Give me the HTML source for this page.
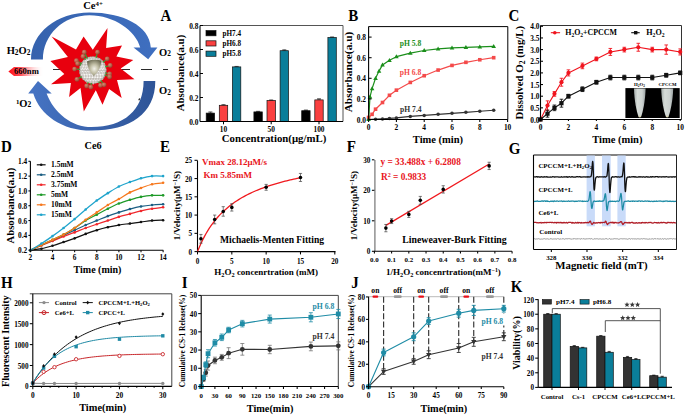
<!DOCTYPE html>
<html><head><meta charset="utf-8"><style>html,body{margin:0;padding:0;background:#fff;width:685px;height:415px;overflow:hidden}</style></head>
<body>
<svg width="685" height="415" viewBox="0 0 685 415" font-family="&quot;Liberation Serif&quot;, serif" style="display:block">
<defs>
<linearGradient id="gTop" x1="0" y1="0" x2="1" y2="0"><stop offset="0" stop-color="#3562ad"/><stop offset="1" stop-color="#3f6fc0"/></linearGradient>
<linearGradient id="gBot" x1="0" y1="0" x2="1" y2="0"><stop offset="0" stop-color="#4674c4"/><stop offset="1" stop-color="#2e5497"/></linearGradient>
<linearGradient id="gLaser" x1="0" y1="0" x2="1" y2="0"><stop offset="0" stop-color="#ff0a14"/><stop offset="0.35" stop-color="#ff5058"/><stop offset="1" stop-color="#fff" stop-opacity="0"/></linearGradient>
<radialGradient id="gCore" cx="0.5" cy="0.55" r="0.6"><stop offset="0" stop-color="#f3f2ea"/><stop offset="0.45" stop-color="#c2bfa6"/><stop offset="1" stop-color="#6c6a52"/></radialGradient>
<radialGradient id="gSphS" cx="0.5" cy="0.5" r="0.5"><stop offset="0" stop-color="#fff" stop-opacity="0"/><stop offset="0.75" stop-color="#fff" stop-opacity="0.1"/><stop offset="1" stop-color="#8a8478" stop-opacity="0.55"/></radialGradient>
<radialGradient id="gSph" cx="0.45" cy="0.4" r="0.65"><stop offset="0" stop-color="#f2f2ee"/><stop offset="0.7" stop-color="#d8d6cf"/><stop offset="1" stop-color="#a8a49a"/></radialGradient>
<radialGradient id="gBall" cx="0.38" cy="0.35" r="0.7"><stop offset="0" stop-color="#d48c74"/><stop offset="0.6" stop-color="#b25a44"/><stop offset="1" stop-color="#8a3c2c"/></radialGradient>
<pattern id="pDots" width="1.5" height="1.5" patternUnits="userSpaceOnUse"><rect width="1.5" height="1.5" fill="#a0968e"/><circle cx="0.75" cy="0.75" r="0.55" fill="#f6f6f4"/></pattern>
<linearGradient id="gTube" x1="0" y1="0" x2="1" y2="0"><stop offset="0" stop-color="#a4acaa"/><stop offset="0.3" stop-color="#d6dcd8"/><stop offset="0.7" stop-color="#ccd2d0"/><stop offset="1" stop-color="#9aa2a2"/></linearGradient>
</defs>
<rect width="685" height="415" fill="#fff"/>
<line x1="53.00" y1="69.50" x2="168.00" y2="69.50" stroke="#2a2a2a" stroke-width="1.0" stroke-dasharray="11,11"/>
<path d="M31,59.5 C31,33 57,12.6 89.5,12.6 C123,12.6 149.5,26 150.8,47.4 L157.4,47.6 L148.2,59.3 L133.5,47.4 L140.2,47.4 C136,31 114,15.2 89.5,15.2 C63,15.2 42.9,35 42.9,59.5 Z" fill="url(#gTop)"/>
<path d="M155.3,81.1 C155.3,114 130,130.6 91.5,130.6 C62,130.6 40,115 33.3,93.4 L28.2,93.4 L38,81.1 L51.7,93.4 L46.6,93.4 C54,113 72,127.1 91.5,127.1 C124,127.1 143.6,110 143.6,81.1 Z" fill="url(#gBot)"/>
<ellipse cx="139.3" cy="99.3" rx="0.8" ry="1.2" fill="#333" transform="rotate(30 139.3 99.3)"/>
<polygon points="51.60,36.40 76.00,49.50 83.60,36.40 92.80,49.70 107.50,28.00 106.10,47.90 122.00,45.50 116.40,56.40 133.30,60.10 120.70,68.50 134.50,79.30 117.00,80.00 121.70,98.10 109.10,89.10 102.50,104.80 95.80,90.30 83.80,111.50 80.50,87.90 69.10,97.00 70.90,83.10 51.00,84.30 64.30,74.00 50.40,61.10 67.90,56.90" fill="#e8000e" />
<circle cx="92.80" cy="70.20" r="13.60" fill="#a69e96" stroke="none" stroke-width="0.8"/>
<path d="M89.72,57.40a0.72,0.72 0 1,0 -1.44,0a0.72,0.72 0 1,0 1.44,0M91.32,57.40a0.72,0.72 0 1,0 -1.44,0a0.72,0.72 0 1,0 1.44,0M92.92,57.40a0.72,0.72 0 1,0 -1.44,0a0.72,0.72 0 1,0 1.44,0M94.52,57.40a0.72,0.72 0 1,0 -1.44,0a0.72,0.72 0 1,0 1.44,0M96.12,57.40a0.72,0.72 0 1,0 -1.44,0a0.72,0.72 0 1,0 1.44,0M87.48,58.95a0.72,0.72 0 1,0 -1.44,0a0.72,0.72 0 1,0 1.44,0M89.08,58.95a0.72,0.72 0 1,0 -1.44,0a0.72,0.72 0 1,0 1.44,0M90.68,58.95a0.72,0.72 0 1,0 -1.44,0a0.72,0.72 0 1,0 1.44,0M92.28,58.95a0.72,0.72 0 1,0 -1.44,0a0.72,0.72 0 1,0 1.44,0M93.88,58.95a0.72,0.72 0 1,0 -1.44,0a0.72,0.72 0 1,0 1.44,0M95.48,58.95a0.72,0.72 0 1,0 -1.44,0a0.72,0.72 0 1,0 1.44,0M97.08,58.95a0.72,0.72 0 1,0 -1.44,0a0.72,0.72 0 1,0 1.44,0M98.68,58.95a0.72,0.72 0 1,0 -1.44,0a0.72,0.72 0 1,0 1.44,0M100.28,58.95a0.72,0.72 0 1,0 -1.44,0a0.72,0.72 0 1,0 1.44,0M84.79,60.50a0.72,0.72 0 1,0 -1.44,0a0.72,0.72 0 1,0 1.44,0M86.39,60.50a0.72,0.72 0 1,0 -1.44,0a0.72,0.72 0 1,0 1.44,0M87.99,60.50a0.72,0.72 0 1,0 -1.44,0a0.72,0.72 0 1,0 1.44,0M89.59,60.50a0.72,0.72 0 1,0 -1.44,0a0.72,0.72 0 1,0 1.44,0M91.19,60.50a0.72,0.72 0 1,0 -1.44,0a0.72,0.72 0 1,0 1.44,0M92.79,60.50a0.72,0.72 0 1,0 -1.44,0a0.72,0.72 0 1,0 1.44,0M94.39,60.50a0.72,0.72 0 1,0 -1.44,0a0.72,0.72 0 1,0 1.44,0M95.99,60.50a0.72,0.72 0 1,0 -1.44,0a0.72,0.72 0 1,0 1.44,0M97.59,60.50a0.72,0.72 0 1,0 -1.44,0a0.72,0.72 0 1,0 1.44,0M99.19,60.50a0.72,0.72 0 1,0 -1.44,0a0.72,0.72 0 1,0 1.44,0M100.79,60.50a0.72,0.72 0 1,0 -1.44,0a0.72,0.72 0 1,0 1.44,0M102.39,60.50a0.72,0.72 0 1,0 -1.44,0a0.72,0.72 0 1,0 1.44,0M84.23,62.05a0.72,0.72 0 1,0 -1.44,0a0.72,0.72 0 1,0 1.44,0M85.83,62.05a0.72,0.72 0 1,0 -1.44,0a0.72,0.72 0 1,0 1.44,0M87.43,62.05a0.72,0.72 0 1,0 -1.44,0a0.72,0.72 0 1,0 1.44,0M89.03,62.05a0.72,0.72 0 1,0 -1.44,0a0.72,0.72 0 1,0 1.44,0M90.63,62.05a0.72,0.72 0 1,0 -1.44,0a0.72,0.72 0 1,0 1.44,0M92.23,62.05a0.72,0.72 0 1,0 -1.44,0a0.72,0.72 0 1,0 1.44,0M93.83,62.05a0.72,0.72 0 1,0 -1.44,0a0.72,0.72 0 1,0 1.44,0M95.43,62.05a0.72,0.72 0 1,0 -1.44,0a0.72,0.72 0 1,0 1.44,0M97.03,62.05a0.72,0.72 0 1,0 -1.44,0a0.72,0.72 0 1,0 1.44,0M98.63,62.05a0.72,0.72 0 1,0 -1.44,0a0.72,0.72 0 1,0 1.44,0M100.23,62.05a0.72,0.72 0 1,0 -1.44,0a0.72,0.72 0 1,0 1.44,0M101.83,62.05a0.72,0.72 0 1,0 -1.44,0a0.72,0.72 0 1,0 1.44,0M103.43,62.05a0.72,0.72 0 1,0 -1.44,0a0.72,0.72 0 1,0 1.44,0M82.43,63.60a0.72,0.72 0 1,0 -1.44,0a0.72,0.72 0 1,0 1.44,0M84.03,63.60a0.72,0.72 0 1,0 -1.44,0a0.72,0.72 0 1,0 1.44,0M85.63,63.60a0.72,0.72 0 1,0 -1.44,0a0.72,0.72 0 1,0 1.44,0M87.23,63.60a0.72,0.72 0 1,0 -1.44,0a0.72,0.72 0 1,0 1.44,0M88.83,63.60a0.72,0.72 0 1,0 -1.44,0a0.72,0.72 0 1,0 1.44,0M90.43,63.60a0.72,0.72 0 1,0 -1.44,0a0.72,0.72 0 1,0 1.44,0M92.03,63.60a0.72,0.72 0 1,0 -1.44,0a0.72,0.72 0 1,0 1.44,0M93.63,63.60a0.72,0.72 0 1,0 -1.44,0a0.72,0.72 0 1,0 1.44,0M95.23,63.60a0.72,0.72 0 1,0 -1.44,0a0.72,0.72 0 1,0 1.44,0M96.83,63.60a0.72,0.72 0 1,0 -1.44,0a0.72,0.72 0 1,0 1.44,0M98.43,63.60a0.72,0.72 0 1,0 -1.44,0a0.72,0.72 0 1,0 1.44,0M100.03,63.60a0.72,0.72 0 1,0 -1.44,0a0.72,0.72 0 1,0 1.44,0M101.63,63.60a0.72,0.72 0 1,0 -1.44,0a0.72,0.72 0 1,0 1.44,0M103.23,63.60a0.72,0.72 0 1,0 -1.44,0a0.72,0.72 0 1,0 1.44,0M104.83,63.60a0.72,0.72 0 1,0 -1.44,0a0.72,0.72 0 1,0 1.44,0M82.49,65.15a0.72,0.72 0 1,0 -1.44,0a0.72,0.72 0 1,0 1.44,0M84.09,65.15a0.72,0.72 0 1,0 -1.44,0a0.72,0.72 0 1,0 1.44,0M85.69,65.15a0.72,0.72 0 1,0 -1.44,0a0.72,0.72 0 1,0 1.44,0M87.29,65.15a0.72,0.72 0 1,0 -1.44,0a0.72,0.72 0 1,0 1.44,0M88.89,65.15a0.72,0.72 0 1,0 -1.44,0a0.72,0.72 0 1,0 1.44,0M90.49,65.15a0.72,0.72 0 1,0 -1.44,0a0.72,0.72 0 1,0 1.44,0M92.09,65.15a0.72,0.72 0 1,0 -1.44,0a0.72,0.72 0 1,0 1.44,0M93.69,65.15a0.72,0.72 0 1,0 -1.44,0a0.72,0.72 0 1,0 1.44,0M95.29,65.15a0.72,0.72 0 1,0 -1.44,0a0.72,0.72 0 1,0 1.44,0M96.89,65.15a0.72,0.72 0 1,0 -1.44,0a0.72,0.72 0 1,0 1.44,0M98.49,65.15a0.72,0.72 0 1,0 -1.44,0a0.72,0.72 0 1,0 1.44,0M100.09,65.15a0.72,0.72 0 1,0 -1.44,0a0.72,0.72 0 1,0 1.44,0M101.69,65.15a0.72,0.72 0 1,0 -1.44,0a0.72,0.72 0 1,0 1.44,0M103.29,65.15a0.72,0.72 0 1,0 -1.44,0a0.72,0.72 0 1,0 1.44,0M104.89,65.15a0.72,0.72 0 1,0 -1.44,0a0.72,0.72 0 1,0 1.44,0M81.18,66.70a0.72,0.72 0 1,0 -1.44,0a0.72,0.72 0 1,0 1.44,0M82.78,66.70a0.72,0.72 0 1,0 -1.44,0a0.72,0.72 0 1,0 1.44,0M84.38,66.70a0.72,0.72 0 1,0 -1.44,0a0.72,0.72 0 1,0 1.44,0M85.98,66.70a0.72,0.72 0 1,0 -1.44,0a0.72,0.72 0 1,0 1.44,0M87.58,66.70a0.72,0.72 0 1,0 -1.44,0a0.72,0.72 0 1,0 1.44,0M89.18,66.70a0.72,0.72 0 1,0 -1.44,0a0.72,0.72 0 1,0 1.44,0M90.78,66.70a0.72,0.72 0 1,0 -1.44,0a0.72,0.72 0 1,0 1.44,0M92.38,66.70a0.72,0.72 0 1,0 -1.44,0a0.72,0.72 0 1,0 1.44,0M93.98,66.70a0.72,0.72 0 1,0 -1.44,0a0.72,0.72 0 1,0 1.44,0M95.58,66.70a0.72,0.72 0 1,0 -1.44,0a0.72,0.72 0 1,0 1.44,0M97.18,66.70a0.72,0.72 0 1,0 -1.44,0a0.72,0.72 0 1,0 1.44,0M98.78,66.70a0.72,0.72 0 1,0 -1.44,0a0.72,0.72 0 1,0 1.44,0M100.38,66.70a0.72,0.72 0 1,0 -1.44,0a0.72,0.72 0 1,0 1.44,0M101.98,66.70a0.72,0.72 0 1,0 -1.44,0a0.72,0.72 0 1,0 1.44,0M103.58,66.70a0.72,0.72 0 1,0 -1.44,0a0.72,0.72 0 1,0 1.44,0M105.18,66.70a0.72,0.72 0 1,0 -1.44,0a0.72,0.72 0 1,0 1.44,0M81.66,68.25a0.72,0.72 0 1,0 -1.44,0a0.72,0.72 0 1,0 1.44,0M83.26,68.25a0.72,0.72 0 1,0 -1.44,0a0.72,0.72 0 1,0 1.44,0M84.86,68.25a0.72,0.72 0 1,0 -1.44,0a0.72,0.72 0 1,0 1.44,0M86.46,68.25a0.72,0.72 0 1,0 -1.44,0a0.72,0.72 0 1,0 1.44,0M88.06,68.25a0.72,0.72 0 1,0 -1.44,0a0.72,0.72 0 1,0 1.44,0M89.66,68.25a0.72,0.72 0 1,0 -1.44,0a0.72,0.72 0 1,0 1.44,0M91.26,68.25a0.72,0.72 0 1,0 -1.44,0a0.72,0.72 0 1,0 1.44,0M92.86,68.25a0.72,0.72 0 1,0 -1.44,0a0.72,0.72 0 1,0 1.44,0M94.46,68.25a0.72,0.72 0 1,0 -1.44,0a0.72,0.72 0 1,0 1.44,0M96.06,68.25a0.72,0.72 0 1,0 -1.44,0a0.72,0.72 0 1,0 1.44,0M97.66,68.25a0.72,0.72 0 1,0 -1.44,0a0.72,0.72 0 1,0 1.44,0M99.26,68.25a0.72,0.72 0 1,0 -1.44,0a0.72,0.72 0 1,0 1.44,0M100.86,68.25a0.72,0.72 0 1,0 -1.44,0a0.72,0.72 0 1,0 1.44,0M102.46,68.25a0.72,0.72 0 1,0 -1.44,0a0.72,0.72 0 1,0 1.44,0M104.06,68.25a0.72,0.72 0 1,0 -1.44,0a0.72,0.72 0 1,0 1.44,0M105.66,68.25a0.72,0.72 0 1,0 -1.44,0a0.72,0.72 0 1,0 1.44,0M80.73,69.80a0.72,0.72 0 1,0 -1.44,0a0.72,0.72 0 1,0 1.44,0M82.33,69.80a0.72,0.72 0 1,0 -1.44,0a0.72,0.72 0 1,0 1.44,0M83.93,69.80a0.72,0.72 0 1,0 -1.44,0a0.72,0.72 0 1,0 1.44,0M85.53,69.80a0.72,0.72 0 1,0 -1.44,0a0.72,0.72 0 1,0 1.44,0M87.13,69.80a0.72,0.72 0 1,0 -1.44,0a0.72,0.72 0 1,0 1.44,0M88.73,69.80a0.72,0.72 0 1,0 -1.44,0a0.72,0.72 0 1,0 1.44,0M90.33,69.80a0.72,0.72 0 1,0 -1.44,0a0.72,0.72 0 1,0 1.44,0M91.93,69.80a0.72,0.72 0 1,0 -1.44,0a0.72,0.72 0 1,0 1.44,0M93.53,69.80a0.72,0.72 0 1,0 -1.44,0a0.72,0.72 0 1,0 1.44,0M95.13,69.80a0.72,0.72 0 1,0 -1.44,0a0.72,0.72 0 1,0 1.44,0M96.73,69.80a0.72,0.72 0 1,0 -1.44,0a0.72,0.72 0 1,0 1.44,0M98.33,69.80a0.72,0.72 0 1,0 -1.44,0a0.72,0.72 0 1,0 1.44,0M99.93,69.80a0.72,0.72 0 1,0 -1.44,0a0.72,0.72 0 1,0 1.44,0M101.53,69.80a0.72,0.72 0 1,0 -1.44,0a0.72,0.72 0 1,0 1.44,0M103.13,69.80a0.72,0.72 0 1,0 -1.44,0a0.72,0.72 0 1,0 1.44,0M104.73,69.80a0.72,0.72 0 1,0 -1.44,0a0.72,0.72 0 1,0 1.44,0M106.33,69.80a0.72,0.72 0 1,0 -1.44,0a0.72,0.72 0 1,0 1.44,0M81.57,71.35a0.72,0.72 0 1,0 -1.44,0a0.72,0.72 0 1,0 1.44,0M83.17,71.35a0.72,0.72 0 1,0 -1.44,0a0.72,0.72 0 1,0 1.44,0M84.77,71.35a0.72,0.72 0 1,0 -1.44,0a0.72,0.72 0 1,0 1.44,0M86.37,71.35a0.72,0.72 0 1,0 -1.44,0a0.72,0.72 0 1,0 1.44,0M87.97,71.35a0.72,0.72 0 1,0 -1.44,0a0.72,0.72 0 1,0 1.44,0M89.57,71.35a0.72,0.72 0 1,0 -1.44,0a0.72,0.72 0 1,0 1.44,0M91.17,71.35a0.72,0.72 0 1,0 -1.44,0a0.72,0.72 0 1,0 1.44,0M92.77,71.35a0.72,0.72 0 1,0 -1.44,0a0.72,0.72 0 1,0 1.44,0M94.37,71.35a0.72,0.72 0 1,0 -1.44,0a0.72,0.72 0 1,0 1.44,0M95.97,71.35a0.72,0.72 0 1,0 -1.44,0a0.72,0.72 0 1,0 1.44,0M97.57,71.35a0.72,0.72 0 1,0 -1.44,0a0.72,0.72 0 1,0 1.44,0M99.17,71.35a0.72,0.72 0 1,0 -1.44,0a0.72,0.72 0 1,0 1.44,0M100.77,71.35a0.72,0.72 0 1,0 -1.44,0a0.72,0.72 0 1,0 1.44,0M102.37,71.35a0.72,0.72 0 1,0 -1.44,0a0.72,0.72 0 1,0 1.44,0M103.97,71.35a0.72,0.72 0 1,0 -1.44,0a0.72,0.72 0 1,0 1.44,0M105.57,71.35a0.72,0.72 0 1,0 -1.44,0a0.72,0.72 0 1,0 1.44,0M80.99,72.90a0.72,0.72 0 1,0 -1.44,0a0.72,0.72 0 1,0 1.44,0M82.59,72.90a0.72,0.72 0 1,0 -1.44,0a0.72,0.72 0 1,0 1.44,0M84.19,72.90a0.72,0.72 0 1,0 -1.44,0a0.72,0.72 0 1,0 1.44,0M85.79,72.90a0.72,0.72 0 1,0 -1.44,0a0.72,0.72 0 1,0 1.44,0M87.39,72.90a0.72,0.72 0 1,0 -1.44,0a0.72,0.72 0 1,0 1.44,0M88.99,72.90a0.72,0.72 0 1,0 -1.44,0a0.72,0.72 0 1,0 1.44,0M90.59,72.90a0.72,0.72 0 1,0 -1.44,0a0.72,0.72 0 1,0 1.44,0M92.19,72.90a0.72,0.72 0 1,0 -1.44,0a0.72,0.72 0 1,0 1.44,0M93.79,72.90a0.72,0.72 0 1,0 -1.44,0a0.72,0.72 0 1,0 1.44,0M95.39,72.90a0.72,0.72 0 1,0 -1.44,0a0.72,0.72 0 1,0 1.44,0M96.99,72.90a0.72,0.72 0 1,0 -1.44,0a0.72,0.72 0 1,0 1.44,0M98.59,72.90a0.72,0.72 0 1,0 -1.44,0a0.72,0.72 0 1,0 1.44,0M100.19,72.90a0.72,0.72 0 1,0 -1.44,0a0.72,0.72 0 1,0 1.44,0M101.79,72.90a0.72,0.72 0 1,0 -1.44,0a0.72,0.72 0 1,0 1.44,0M103.39,72.90a0.72,0.72 0 1,0 -1.44,0a0.72,0.72 0 1,0 1.44,0M104.99,72.90a0.72,0.72 0 1,0 -1.44,0a0.72,0.72 0 1,0 1.44,0M82.20,74.45a0.72,0.72 0 1,0 -1.44,0a0.72,0.72 0 1,0 1.44,0M83.80,74.45a0.72,0.72 0 1,0 -1.44,0a0.72,0.72 0 1,0 1.44,0M85.40,74.45a0.72,0.72 0 1,0 -1.44,0a0.72,0.72 0 1,0 1.44,0M87.00,74.45a0.72,0.72 0 1,0 -1.44,0a0.72,0.72 0 1,0 1.44,0M88.60,74.45a0.72,0.72 0 1,0 -1.44,0a0.72,0.72 0 1,0 1.44,0M90.20,74.45a0.72,0.72 0 1,0 -1.44,0a0.72,0.72 0 1,0 1.44,0M91.80,74.45a0.72,0.72 0 1,0 -1.44,0a0.72,0.72 0 1,0 1.44,0M93.40,74.45a0.72,0.72 0 1,0 -1.44,0a0.72,0.72 0 1,0 1.44,0M95.00,74.45a0.72,0.72 0 1,0 -1.44,0a0.72,0.72 0 1,0 1.44,0M96.60,74.45a0.72,0.72 0 1,0 -1.44,0a0.72,0.72 0 1,0 1.44,0M98.20,74.45a0.72,0.72 0 1,0 -1.44,0a0.72,0.72 0 1,0 1.44,0M99.80,74.45a0.72,0.72 0 1,0 -1.44,0a0.72,0.72 0 1,0 1.44,0M101.40,74.45a0.72,0.72 0 1,0 -1.44,0a0.72,0.72 0 1,0 1.44,0M103.00,74.45a0.72,0.72 0 1,0 -1.44,0a0.72,0.72 0 1,0 1.44,0M104.60,74.45a0.72,0.72 0 1,0 -1.44,0a0.72,0.72 0 1,0 1.44,0M82.02,76.00a0.72,0.72 0 1,0 -1.44,0a0.72,0.72 0 1,0 1.44,0M83.62,76.00a0.72,0.72 0 1,0 -1.44,0a0.72,0.72 0 1,0 1.44,0M85.22,76.00a0.72,0.72 0 1,0 -1.44,0a0.72,0.72 0 1,0 1.44,0M86.82,76.00a0.72,0.72 0 1,0 -1.44,0a0.72,0.72 0 1,0 1.44,0M88.42,76.00a0.72,0.72 0 1,0 -1.44,0a0.72,0.72 0 1,0 1.44,0M90.02,76.00a0.72,0.72 0 1,0 -1.44,0a0.72,0.72 0 1,0 1.44,0M91.62,76.00a0.72,0.72 0 1,0 -1.44,0a0.72,0.72 0 1,0 1.44,0M93.22,76.00a0.72,0.72 0 1,0 -1.44,0a0.72,0.72 0 1,0 1.44,0M94.82,76.00a0.72,0.72 0 1,0 -1.44,0a0.72,0.72 0 1,0 1.44,0M96.42,76.00a0.72,0.72 0 1,0 -1.44,0a0.72,0.72 0 1,0 1.44,0M98.02,76.00a0.72,0.72 0 1,0 -1.44,0a0.72,0.72 0 1,0 1.44,0M99.62,76.00a0.72,0.72 0 1,0 -1.44,0a0.72,0.72 0 1,0 1.44,0M101.22,76.00a0.72,0.72 0 1,0 -1.44,0a0.72,0.72 0 1,0 1.44,0M102.82,76.00a0.72,0.72 0 1,0 -1.44,0a0.72,0.72 0 1,0 1.44,0M104.42,76.00a0.72,0.72 0 1,0 -1.44,0a0.72,0.72 0 1,0 1.44,0M83.68,77.55a0.72,0.72 0 1,0 -1.44,0a0.72,0.72 0 1,0 1.44,0M85.28,77.55a0.72,0.72 0 1,0 -1.44,0a0.72,0.72 0 1,0 1.44,0M86.88,77.55a0.72,0.72 0 1,0 -1.44,0a0.72,0.72 0 1,0 1.44,0M88.48,77.55a0.72,0.72 0 1,0 -1.44,0a0.72,0.72 0 1,0 1.44,0M90.08,77.55a0.72,0.72 0 1,0 -1.44,0a0.72,0.72 0 1,0 1.44,0M91.68,77.55a0.72,0.72 0 1,0 -1.44,0a0.72,0.72 0 1,0 1.44,0M93.28,77.55a0.72,0.72 0 1,0 -1.44,0a0.72,0.72 0 1,0 1.44,0M94.88,77.55a0.72,0.72 0 1,0 -1.44,0a0.72,0.72 0 1,0 1.44,0M96.48,77.55a0.72,0.72 0 1,0 -1.44,0a0.72,0.72 0 1,0 1.44,0M98.08,77.55a0.72,0.72 0 1,0 -1.44,0a0.72,0.72 0 1,0 1.44,0M99.68,77.55a0.72,0.72 0 1,0 -1.44,0a0.72,0.72 0 1,0 1.44,0M101.28,77.55a0.72,0.72 0 1,0 -1.44,0a0.72,0.72 0 1,0 1.44,0M102.88,77.55a0.72,0.72 0 1,0 -1.44,0a0.72,0.72 0 1,0 1.44,0M84.04,79.10a0.72,0.72 0 1,0 -1.44,0a0.72,0.72 0 1,0 1.44,0M85.64,79.10a0.72,0.72 0 1,0 -1.44,0a0.72,0.72 0 1,0 1.44,0M87.24,79.10a0.72,0.72 0 1,0 -1.44,0a0.72,0.72 0 1,0 1.44,0M88.84,79.10a0.72,0.72 0 1,0 -1.44,0a0.72,0.72 0 1,0 1.44,0M90.44,79.10a0.72,0.72 0 1,0 -1.44,0a0.72,0.72 0 1,0 1.44,0M92.04,79.10a0.72,0.72 0 1,0 -1.44,0a0.72,0.72 0 1,0 1.44,0M93.64,79.10a0.72,0.72 0 1,0 -1.44,0a0.72,0.72 0 1,0 1.44,0M95.24,79.10a0.72,0.72 0 1,0 -1.44,0a0.72,0.72 0 1,0 1.44,0M96.84,79.10a0.72,0.72 0 1,0 -1.44,0a0.72,0.72 0 1,0 1.44,0M98.44,79.10a0.72,0.72 0 1,0 -1.44,0a0.72,0.72 0 1,0 1.44,0M100.04,79.10a0.72,0.72 0 1,0 -1.44,0a0.72,0.72 0 1,0 1.44,0M101.64,79.10a0.72,0.72 0 1,0 -1.44,0a0.72,0.72 0 1,0 1.44,0M103.24,79.10a0.72,0.72 0 1,0 -1.44,0a0.72,0.72 0 1,0 1.44,0M86.42,80.65a0.72,0.72 0 1,0 -1.44,0a0.72,0.72 0 1,0 1.44,0M88.02,80.65a0.72,0.72 0 1,0 -1.44,0a0.72,0.72 0 1,0 1.44,0M89.62,80.65a0.72,0.72 0 1,0 -1.44,0a0.72,0.72 0 1,0 1.44,0M91.22,80.65a0.72,0.72 0 1,0 -1.44,0a0.72,0.72 0 1,0 1.44,0M92.82,80.65a0.72,0.72 0 1,0 -1.44,0a0.72,0.72 0 1,0 1.44,0M94.42,80.65a0.72,0.72 0 1,0 -1.44,0a0.72,0.72 0 1,0 1.44,0M96.02,80.65a0.72,0.72 0 1,0 -1.44,0a0.72,0.72 0 1,0 1.44,0M97.62,80.65a0.72,0.72 0 1,0 -1.44,0a0.72,0.72 0 1,0 1.44,0M99.22,80.65a0.72,0.72 0 1,0 -1.44,0a0.72,0.72 0 1,0 1.44,0M100.82,80.65a0.72,0.72 0 1,0 -1.44,0a0.72,0.72 0 1,0 1.44,0M87.92,82.20a0.72,0.72 0 1,0 -1.44,0a0.72,0.72 0 1,0 1.44,0M89.52,82.20a0.72,0.72 0 1,0 -1.44,0a0.72,0.72 0 1,0 1.44,0M91.12,82.20a0.72,0.72 0 1,0 -1.44,0a0.72,0.72 0 1,0 1.44,0M92.72,82.20a0.72,0.72 0 1,0 -1.44,0a0.72,0.72 0 1,0 1.44,0M94.32,82.20a0.72,0.72 0 1,0 -1.44,0a0.72,0.72 0 1,0 1.44,0M95.92,82.20a0.72,0.72 0 1,0 -1.44,0a0.72,0.72 0 1,0 1.44,0M97.52,82.20a0.72,0.72 0 1,0 -1.44,0a0.72,0.72 0 1,0 1.44,0M99.12,82.20a0.72,0.72 0 1,0 -1.44,0a0.72,0.72 0 1,0 1.44,0M93.95,83.75a0.72,0.72 0 1,0 -1.44,0a0.72,0.72 0 1,0 1.44,0" fill="#f7f7f5"/>
<circle cx="92.8" cy="70.2" r="13.6" fill="url(#gSphS)"/>
<path d="M87,61.2 Q94,58.6 101.6,60.6 Q100.5,70 93.8,76.2 Q87.5,70 87,61.2 Z" fill="url(#gCore)"/>
<line x1="85.07" y1="53.83" x2="87.33" y2="58.63" stroke="#3c9a34" stroke-width="1.3" />
<line x1="97.05" y1="53.94" x2="96.03" y2="57.82" stroke="#3c9a34" stroke-width="1.3" />
<line x1="84.04" y1="57.87" x2="85.39" y2="59.76" stroke="#3c9a34" stroke-width="1.3" />
<line x1="105.78" y1="60.01" x2="102.87" y2="62.30" stroke="#3c9a34" stroke-width="1.3" />
<line x1="77.96" y1="61.60" x2="81.72" y2="63.78" stroke="#3c9a34" stroke-width="1.3" />
<line x1="79.26" y1="64.41" x2="81.03" y2="65.17" stroke="#3c9a34" stroke-width="1.3" />
<line x1="108.46" y1="65.97" x2="105.16" y2="66.86" stroke="#3c9a34" stroke-width="1.3" />
<line x1="76.40" y1="69.21" x2="80.02" y2="69.43" stroke="#3c9a34" stroke-width="1.3" />
<line x1="107.84" y1="73.51" x2="105.30" y2="72.95" stroke="#3c9a34" stroke-width="1.3" />
<line x1="107.93" y1="76.23" x2="104.69" y2="74.94" stroke="#3c9a34" stroke-width="1.3" />
<line x1="78.56" y1="78.40" x2="81.71" y2="76.59" stroke="#3c9a34" stroke-width="1.3" />
<line x1="87.35" y1="84.32" x2="88.19" y2="82.14" stroke="#3c9a34" stroke-width="1.3" />
<line x1="91.10" y1="85.41" x2="91.38" y2="82.92" stroke="#3c9a34" stroke-width="1.3" />
<line x1="99.69" y1="83.79" x2="98.58" y2="81.62" stroke="#3c9a34" stroke-width="1.3" />
<line x1="103.00" y1="83.38" x2="100.63" y2="80.32" stroke="#3c9a34" stroke-width="1.3" />
<circle cx="84.30" cy="52.20" r="2.40" fill="url(#gBall)" stroke="none" stroke-width="0.8"/>
<circle cx="97.50" cy="52.20" r="2.40" fill="url(#gBall)" stroke="none" stroke-width="0.8"/>
<circle cx="83.00" cy="56.40" r="2.40" fill="url(#gBall)" stroke="none" stroke-width="0.8"/>
<circle cx="107.20" cy="58.90" r="2.40" fill="url(#gBall)" stroke="none" stroke-width="0.8"/>
<circle cx="76.40" cy="60.70" r="2.40" fill="url(#gBall)" stroke="none" stroke-width="0.8"/>
<circle cx="77.60" cy="63.70" r="2.40" fill="url(#gBall)" stroke="none" stroke-width="0.8"/>
<circle cx="110.20" cy="65.50" r="2.40" fill="url(#gBall)" stroke="none" stroke-width="0.8"/>
<circle cx="74.60" cy="69.10" r="2.40" fill="url(#gBall)" stroke="none" stroke-width="0.8"/>
<circle cx="109.60" cy="73.90" r="2.40" fill="url(#gBall)" stroke="none" stroke-width="0.8"/>
<circle cx="109.60" cy="76.90" r="2.40" fill="url(#gBall)" stroke="none" stroke-width="0.8"/>
<circle cx="77.00" cy="79.30" r="2.40" fill="url(#gBall)" stroke="none" stroke-width="0.8"/>
<circle cx="86.70" cy="86.00" r="2.40" fill="url(#gBall)" stroke="none" stroke-width="0.8"/>
<circle cx="90.90" cy="87.20" r="2.40" fill="url(#gBall)" stroke="none" stroke-width="0.8"/>
<circle cx="100.50" cy="85.40" r="2.40" fill="url(#gBall)" stroke="none" stroke-width="0.8"/>
<circle cx="104.10" cy="84.80" r="2.40" fill="url(#gBall)" stroke="none" stroke-width="0.8"/>
<path d="M8.4,71.4 L14,66.9 L44,66.9 L44,76 L14,76 Z" fill="url(#gLaser)"/>
<text x="26.40" y="73.60" font-size="8.6" text-anchor="middle" fill="#000" font-weight="bold" >660nm</text>
<text x="18.50" y="54.00" font-size="10.5" text-anchor="middle" fill="#000" font-weight="bold" >H<tspan font-size="70%" dy="0.6">2</tspan><tspan dy="-0.6">​</tspan>O<tspan font-size="70%" dy="0.6">2</tspan><tspan dy="-0.6">​</tspan></text>
<text x="23.50" y="106.50" font-size="10.5" text-anchor="middle" fill="#000" font-weight="bold" ><tspan font-size="65%" dy="-3">1</tspan><tspan dy="3">​</tspan>O<tspan font-size="70%" dy="0.6">2</tspan><tspan dy="-0.6">​</tspan></text>
<text x="165.00" y="55.50" font-size="10.5" text-anchor="middle" fill="#000" font-weight="bold" >O<tspan font-size="70%" dy="0.6">2</tspan><tspan dy="-0.6">​</tspan></text>
<text x="165.00" y="94.00" font-size="10.5" text-anchor="middle" fill="#000" font-weight="bold" >O<tspan font-size="70%" dy="0.6">2</tspan><tspan dy="-0.6">​</tspan></text>
<text x="93.00" y="9.00" font-size="10.5" text-anchor="middle" fill="#000" font-weight="bold" >Ce<tspan font-size="65%" dy="-3.5">4+</tspan><tspan dy="3.5">​</tspan></text>
<text transform="translate(160.6,20.7) scale(1,1.08)" font-size="15" font-weight="bold">A</text>
<text transform="translate(348.2,20.5) scale(1,1.08)" font-size="15" font-weight="bold">B</text>
<text transform="translate(508.6,20.9) scale(1,1.08)" font-size="15" font-weight="bold">C</text>
<text transform="translate(1.0,151.6) scale(1,1.08)" font-size="15" font-weight="bold">D</text>
<text transform="translate(160.0,151.6) scale(1,1.08)" font-size="15" font-weight="bold">E</text>
<text transform="translate(346.7,151.6) scale(1,1.08)" font-size="15" font-weight="bold">F</text>
<text transform="translate(508.8,154.4) scale(1,1.08)" font-size="15" font-weight="bold">G</text>
<text transform="translate(1.0,288.3) scale(1,1.08)" font-size="15" font-weight="bold">H</text>
<text transform="translate(181.7,288.1) scale(1,1.08)" font-size="15" font-weight="bold">I</text>
<text transform="translate(351.2,287.8) scale(1,1.08)" font-size="15" font-weight="bold">J</text>
<text transform="translate(510.8,291.6) scale(1,1.08)" font-size="15" font-weight="bold">K</text>
<line x1="200.00" y1="25.50" x2="343.00" y2="25.50" stroke="#555" stroke-width="1" />
<line x1="343.00" y1="25.50" x2="343.00" y2="121.50" stroke="#555" stroke-width="1" />
<line x1="210.40" y1="111.90" x2="210.40" y2="113.10" stroke="#333" stroke-width="0.7" />
<line x1="208.40" y1="111.90" x2="212.40" y2="111.90" stroke="#333" stroke-width="0.7" />
<line x1="208.40" y1="113.10" x2="212.40" y2="113.10" stroke="#333" stroke-width="0.7" />
<rect x="206.20" y="113.10" width="8.40" height="8.40" fill="#000" stroke="#111" stroke-width="0.7" />
<line x1="223.50" y1="104.58" x2="223.50" y2="105.30" stroke="#333" stroke-width="0.7" />
<line x1="221.50" y1="104.58" x2="225.50" y2="104.58" stroke="#333" stroke-width="0.7" />
<line x1="221.50" y1="105.30" x2="225.50" y2="105.30" stroke="#333" stroke-width="0.7" />
<rect x="219.30" y="105.30" width="8.40" height="16.20" fill="#fa4040" stroke="#111" stroke-width="0.7" />
<line x1="236.60" y1="66.42" x2="236.60" y2="66.90" stroke="#333" stroke-width="0.7" />
<line x1="234.60" y1="66.42" x2="238.60" y2="66.42" stroke="#333" stroke-width="0.7" />
<line x1="234.60" y1="66.90" x2="238.60" y2="66.90" stroke="#333" stroke-width="0.7" />
<rect x="232.40" y="66.90" width="8.40" height="54.60" fill="#0a7e9a" stroke="#111" stroke-width="0.7" />
<line x1="258.10" y1="111.30" x2="258.10" y2="111.90" stroke="#333" stroke-width="0.7" />
<line x1="256.10" y1="111.30" x2="260.10" y2="111.30" stroke="#333" stroke-width="0.7" />
<line x1="256.10" y1="111.90" x2="260.10" y2="111.90" stroke="#333" stroke-width="0.7" />
<rect x="253.90" y="111.90" width="8.40" height="9.60" fill="#000" stroke="#111" stroke-width="0.7" />
<line x1="271.20" y1="99.90" x2="271.20" y2="100.50" stroke="#333" stroke-width="0.7" />
<line x1="269.20" y1="99.90" x2="273.20" y2="99.90" stroke="#333" stroke-width="0.7" />
<line x1="269.20" y1="100.50" x2="273.20" y2="100.50" stroke="#333" stroke-width="0.7" />
<rect x="267.00" y="100.50" width="8.40" height="21.00" fill="#fa4040" stroke="#111" stroke-width="0.7" />
<line x1="284.30" y1="49.74" x2="284.30" y2="50.70" stroke="#333" stroke-width="0.7" />
<line x1="282.30" y1="49.74" x2="286.30" y2="49.74" stroke="#333" stroke-width="0.7" />
<line x1="282.30" y1="50.70" x2="286.30" y2="50.70" stroke="#333" stroke-width="0.7" />
<rect x="280.10" y="50.70" width="8.40" height="70.80" fill="#0a7e9a" stroke="#111" stroke-width="0.7" />
<line x1="305.90" y1="109.98" x2="305.90" y2="110.70" stroke="#333" stroke-width="0.7" />
<line x1="303.90" y1="109.98" x2="307.90" y2="109.98" stroke="#333" stroke-width="0.7" />
<line x1="303.90" y1="110.70" x2="307.90" y2="110.70" stroke="#333" stroke-width="0.7" />
<rect x="301.70" y="110.70" width="8.40" height="10.80" fill="#000" stroke="#111" stroke-width="0.7" />
<line x1="319.00" y1="98.70" x2="319.00" y2="99.90" stroke="#333" stroke-width="0.7" />
<line x1="317.00" y1="98.70" x2="321.00" y2="98.70" stroke="#333" stroke-width="0.7" />
<line x1="317.00" y1="99.90" x2="321.00" y2="99.90" stroke="#333" stroke-width="0.7" />
<rect x="314.80" y="99.90" width="8.40" height="21.60" fill="#fa4040" stroke="#111" stroke-width="0.7" />
<line x1="332.10" y1="36.90" x2="332.10" y2="37.50" stroke="#333" stroke-width="0.7" />
<line x1="330.10" y1="36.90" x2="334.10" y2="36.90" stroke="#333" stroke-width="0.7" />
<line x1="330.10" y1="37.50" x2="334.10" y2="37.50" stroke="#333" stroke-width="0.7" />
<rect x="327.90" y="37.50" width="8.40" height="84.00" fill="#0a7e9a" stroke="#111" stroke-width="0.7" />
<line x1="200.00" y1="121.50" x2="343.00" y2="121.50" stroke="#000" stroke-width="1.1" />
<line x1="200.00" y1="121.50" x2="200.00" y2="25.50" stroke="#000" stroke-width="1.1" />
<line x1="200.00" y1="121.50" x2="203.00" y2="121.50" stroke="#000" stroke-width="1.05" />
<text x="198.40" y="124.62" font-size="7.4" text-anchor="end" fill="#000" font-weight="bold" >0.0</text>
<line x1="200.00" y1="97.50" x2="203.00" y2="97.50" stroke="#000" stroke-width="1.05" />
<text x="198.40" y="100.62" font-size="7.4" text-anchor="end" fill="#000" font-weight="bold" >0.2</text>
<line x1="200.00" y1="73.50" x2="203.00" y2="73.50" stroke="#000" stroke-width="1.05" />
<text x="198.40" y="76.62" font-size="7.4" text-anchor="end" fill="#000" font-weight="bold" >0.4</text>
<line x1="200.00" y1="49.50" x2="203.00" y2="49.50" stroke="#000" stroke-width="1.05" />
<text x="198.40" y="52.62" font-size="7.4" text-anchor="end" fill="#000" font-weight="bold" >0.6</text>
<line x1="200.00" y1="25.50" x2="203.00" y2="25.50" stroke="#000" stroke-width="1.05" />
<text x="198.40" y="28.62" font-size="7.4" text-anchor="end" fill="#000" font-weight="bold" >0.8</text>
<line x1="223.50" y1="121.50" x2="223.50" y2="124.30" stroke="#000" stroke-width="1.05" />
<text x="223.50" y="132.00" font-size="7.4" text-anchor="middle" fill="#000" font-weight="bold" >10</text>
<line x1="271.20" y1="121.50" x2="271.20" y2="124.30" stroke="#000" stroke-width="1.05" />
<text x="271.20" y="132.00" font-size="7.4" text-anchor="middle" fill="#000" font-weight="bold" >50</text>
<line x1="319.00" y1="121.50" x2="319.00" y2="124.30" stroke="#000" stroke-width="1.05" />
<text x="319.00" y="132.00" font-size="7.4" text-anchor="middle" fill="#000" font-weight="bold" >100</text>
<rect x="206.00" y="30.60" width="10.00" height="5.20" fill="#000" stroke="#111" stroke-width="0.7" />
<text x="222.50" y="35.60" font-size="7.2" text-anchor="start" fill="#000" font-weight="bold" >pH7.4</text>
<rect x="206.00" y="40.80" width="10.00" height="5.20" fill="#fa4040" stroke="#111" stroke-width="0.7" />
<text x="222.50" y="45.80" font-size="7.2" text-anchor="start" fill="#000" font-weight="bold" >pH6.8</text>
<rect x="206.00" y="51.10" width="10.00" height="5.20" fill="#0a7e9a" stroke="#111" stroke-width="0.7" />
<text x="222.50" y="56.10" font-size="7.2" text-anchor="start" fill="#000" font-weight="bold" >pH5.8</text>
<text x="274.00" y="142.00" font-size="10.8" text-anchor="middle" fill="#000" font-weight="bold" >Concentration(μg/mL)</text>
<text x="183.60" y="73.00" font-size="10.8" text-anchor="middle" fill="#000" font-weight="bold" transform="rotate(-90 183.60 73.00)" >Absorbance(a.u)</text>
<line x1="368.60" y1="26.60" x2="507.80" y2="26.60" stroke="#000" stroke-width="1" />
<line x1="507.80" y1="26.60" x2="507.80" y2="119.50" stroke="#000" stroke-width="1" />
<polyline points="368.60,119.50 375.55,119.19 382.50,118.88 389.45,118.47 396.40,117.95 410.30,116.41 424.20,115.38 438.10,114.35 452.00,113.32 465.90,112.29 479.80,111.26 493.70,110.23" fill="none" stroke="#333" stroke-width="1.2" stroke-linejoin="round" />
<circle cx="368.60" cy="119.50" r="1.75" fill="#333" stroke="none" stroke-width="0.8"/>
<circle cx="375.55" cy="119.19" r="1.75" fill="#333" stroke="none" stroke-width="0.8"/>
<circle cx="382.50" cy="118.88" r="1.75" fill="#333" stroke="none" stroke-width="0.8"/>
<circle cx="389.45" cy="118.47" r="1.75" fill="#333" stroke="none" stroke-width="0.8"/>
<circle cx="396.40" cy="117.95" r="1.75" fill="#333" stroke="none" stroke-width="0.8"/>
<circle cx="410.30" cy="116.41" r="1.75" fill="#333" stroke="none" stroke-width="0.8"/>
<circle cx="424.20" cy="115.38" r="1.75" fill="#333" stroke="none" stroke-width="0.8"/>
<circle cx="438.10" cy="114.35" r="1.75" fill="#333" stroke="none" stroke-width="0.8"/>
<circle cx="452.00" cy="113.32" r="1.75" fill="#333" stroke="none" stroke-width="0.8"/>
<circle cx="465.90" cy="112.29" r="1.75" fill="#333" stroke="none" stroke-width="0.8"/>
<circle cx="479.80" cy="111.26" r="1.75" fill="#333" stroke="none" stroke-width="0.8"/>
<circle cx="493.70" cy="110.23" r="1.75" fill="#333" stroke="none" stroke-width="0.8"/>
<polyline points="368.60,117.44 372.08,114.35 375.55,109.20 382.50,102.50 389.45,95.30 396.40,90.15 410.30,82.42 424.20,75.72 438.10,70.06 452.00,65.42 465.90,62.33 479.80,59.76 493.70,57.70" fill="none" stroke="#f44a4a" stroke-width="1.2" stroke-linejoin="round" />
<rect x="366.80" y="115.64" width="3.60" height="3.60" fill="#f44a4a" stroke="none" stroke-width="0.8" />
<rect x="370.28" y="112.55" width="3.60" height="3.60" fill="#f44a4a" stroke="none" stroke-width="0.8" />
<rect x="373.75" y="107.40" width="3.60" height="3.60" fill="#f44a4a" stroke="none" stroke-width="0.8" />
<rect x="380.70" y="100.70" width="3.60" height="3.60" fill="#f44a4a" stroke="none" stroke-width="0.8" />
<rect x="387.65" y="93.50" width="3.60" height="3.60" fill="#f44a4a" stroke="none" stroke-width="0.8" />
<rect x="394.60" y="88.35" width="3.60" height="3.60" fill="#f44a4a" stroke="none" stroke-width="0.8" />
<rect x="408.50" y="80.62" width="3.60" height="3.60" fill="#f44a4a" stroke="none" stroke-width="0.8" />
<rect x="422.40" y="73.92" width="3.60" height="3.60" fill="#f44a4a" stroke="none" stroke-width="0.8" />
<rect x="436.30" y="68.26" width="3.60" height="3.60" fill="#f44a4a" stroke="none" stroke-width="0.8" />
<rect x="450.20" y="63.62" width="3.60" height="3.60" fill="#f44a4a" stroke="none" stroke-width="0.8" />
<rect x="464.10" y="60.53" width="3.60" height="3.60" fill="#f44a4a" stroke="none" stroke-width="0.8" />
<rect x="478.00" y="57.96" width="3.60" height="3.60" fill="#f44a4a" stroke="none" stroke-width="0.8" />
<rect x="491.90" y="55.90" width="3.60" height="3.60" fill="#f44a4a" stroke="none" stroke-width="0.8" />
<polyline points="368.60,119.50 369.99,96.84 372.08,88.60 375.55,78.30 379.03,71.09 382.50,64.91 389.45,60.28 396.40,56.67 410.30,53.06 424.20,50.49 438.10,48.94 452.00,47.92 465.90,47.40 479.80,46.89 493.70,46.37" fill="none" stroke="#1b8f1b" stroke-width="1.2" stroke-linejoin="round" />
<polygon points="368.60,117.10 370.90,121.10 366.30,121.10" fill="#1b8f1b" />
<polygon points="369.99,94.44 372.29,98.44 367.69,98.44" fill="#1b8f1b" />
<polygon points="372.08,86.20 374.38,90.20 369.78,90.20" fill="#1b8f1b" />
<polygon points="375.55,75.90 377.85,79.90 373.25,79.90" fill="#1b8f1b" />
<polygon points="379.03,68.69 381.33,72.69 376.73,72.69" fill="#1b8f1b" />
<polygon points="382.50,62.51 384.80,66.51 380.20,66.51" fill="#1b8f1b" />
<polygon points="389.45,57.88 391.75,61.88 387.15,61.88" fill="#1b8f1b" />
<polygon points="396.40,54.27 398.70,58.27 394.10,58.27" fill="#1b8f1b" />
<polygon points="410.30,50.66 412.60,54.66 408.00,54.66" fill="#1b8f1b" />
<polygon points="424.20,48.09 426.50,52.09 421.90,52.09" fill="#1b8f1b" />
<polygon points="438.10,46.54 440.40,50.54 435.80,50.54" fill="#1b8f1b" />
<polygon points="452.00,45.52 454.30,49.52 449.70,49.52" fill="#1b8f1b" />
<polygon points="465.90,45.00 468.20,49.00 463.60,49.00" fill="#1b8f1b" />
<polygon points="479.80,44.49 482.10,48.49 477.50,48.49" fill="#1b8f1b" />
<polygon points="493.70,43.97 496.00,47.97 491.40,47.97" fill="#1b8f1b" />
<line x1="368.60" y1="119.50" x2="507.80" y2="119.50" stroke="#000" stroke-width="1.1" />
<line x1="368.60" y1="119.50" x2="368.60" y2="26.60" stroke="#000" stroke-width="1.1" />
<line x1="368.60" y1="119.50" x2="371.60" y2="119.50" stroke="#000" stroke-width="1.05" />
<text x="366.00" y="122.62" font-size="7.4" text-anchor="end" fill="#000" font-weight="bold" >0.0</text>
<line x1="368.60" y1="98.90" x2="371.60" y2="98.90" stroke="#000" stroke-width="1.05" />
<text x="366.00" y="102.02" font-size="7.4" text-anchor="end" fill="#000" font-weight="bold" >0.2</text>
<line x1="368.60" y1="78.30" x2="371.60" y2="78.30" stroke="#000" stroke-width="1.05" />
<text x="366.00" y="81.42" font-size="7.4" text-anchor="end" fill="#000" font-weight="bold" >0.4</text>
<line x1="368.60" y1="57.70" x2="371.60" y2="57.70" stroke="#000" stroke-width="1.05" />
<text x="366.00" y="60.82" font-size="7.4" text-anchor="end" fill="#000" font-weight="bold" >0.6</text>
<line x1="368.60" y1="37.10" x2="371.60" y2="37.10" stroke="#000" stroke-width="1.05" />
<text x="366.00" y="40.22" font-size="7.4" text-anchor="end" fill="#000" font-weight="bold" >0.8</text>
<line x1="368.60" y1="119.50" x2="368.60" y2="122.10" stroke="#000" stroke-width="1.05" />
<text x="368.60" y="130.20" font-size="7.4" text-anchor="middle" fill="#000" font-weight="bold" >0</text>
<line x1="396.40" y1="119.50" x2="396.40" y2="122.10" stroke="#000" stroke-width="1.05" />
<text x="396.40" y="130.20" font-size="7.4" text-anchor="middle" fill="#000" font-weight="bold" >2</text>
<line x1="424.20" y1="119.50" x2="424.20" y2="122.10" stroke="#000" stroke-width="1.05" />
<text x="424.20" y="130.20" font-size="7.4" text-anchor="middle" fill="#000" font-weight="bold" >4</text>
<line x1="452.00" y1="119.50" x2="452.00" y2="122.10" stroke="#000" stroke-width="1.05" />
<text x="452.00" y="130.20" font-size="7.4" text-anchor="middle" fill="#000" font-weight="bold" >6</text>
<line x1="479.80" y1="119.50" x2="479.80" y2="122.10" stroke="#000" stroke-width="1.05" />
<text x="479.80" y="130.20" font-size="7.4" text-anchor="middle" fill="#000" font-weight="bold" >8</text>
<line x1="507.60" y1="119.50" x2="507.60" y2="122.10" stroke="#000" stroke-width="1.05" />
<text x="507.60" y="130.20" font-size="7.4" text-anchor="middle" fill="#000" font-weight="bold" >10</text>
<text x="399.80" y="46.00" font-size="7.6" text-anchor="start" fill="#1b8f1b" font-weight="bold" >pH 5.8</text>
<text x="399.80" y="74.50" font-size="7.6" text-anchor="start" fill="#f44a4a" font-weight="bold" >pH 6.8</text>
<text x="400.10" y="111.80" font-size="7.6" text-anchor="start" fill="#333" font-weight="bold" >pH 7.4</text>
<text x="438.00" y="142.50" font-size="10.5" text-anchor="middle" fill="#000" font-weight="bold" >Time (min)</text>
<text x="352.20" y="72.00" font-size="11.4" text-anchor="middle" fill="#000" font-weight="bold" transform="rotate(-90 352.20 72.00)" >Absorbance(a.u)</text>
<line x1="540.50" y1="25.50" x2="681.50" y2="25.50" stroke="#333" stroke-width="1" />
<line x1="681.50" y1="25.50" x2="681.50" y2="119.50" stroke="#333" stroke-width="1" />
<polyline points="540.50,119.50 547.49,105.52 554.47,93.87 561.46,82.22 568.44,72.90 582.41,65.91 596.38,58.92 610.35,51.93 624.32,49.60 638.29,47.27 652.26,49.60 666.23,49.60 680.20,51.93" fill="none" stroke="#f0141e" stroke-width="1.1" stroke-linejoin="round" />
<line x1="547.49" y1="100.86" x2="547.49" y2="110.18" stroke="#f0141e" stroke-width="0.9" />
<line x1="545.69" y1="100.86" x2="549.28" y2="100.86" stroke="#f0141e" stroke-width="0.9" />
<line x1="545.69" y1="110.18" x2="549.28" y2="110.18" stroke="#f0141e" stroke-width="0.9" />
<line x1="554.47" y1="91.54" x2="554.47" y2="96.20" stroke="#f0141e" stroke-width="0.9" />
<line x1="552.67" y1="91.54" x2="556.27" y2="91.54" stroke="#f0141e" stroke-width="0.9" />
<line x1="552.67" y1="96.20" x2="556.27" y2="96.20" stroke="#f0141e" stroke-width="0.9" />
<line x1="561.46" y1="78.26" x2="561.46" y2="86.18" stroke="#f0141e" stroke-width="0.9" />
<line x1="559.66" y1="78.26" x2="563.25" y2="78.26" stroke="#f0141e" stroke-width="0.9" />
<line x1="559.66" y1="86.18" x2="563.25" y2="86.18" stroke="#f0141e" stroke-width="0.9" />
<line x1="568.44" y1="69.87" x2="568.44" y2="75.93" stroke="#f0141e" stroke-width="0.9" />
<line x1="566.64" y1="69.87" x2="570.24" y2="69.87" stroke="#f0141e" stroke-width="0.9" />
<line x1="566.64" y1="75.93" x2="570.24" y2="75.93" stroke="#f0141e" stroke-width="0.9" />
<line x1="582.41" y1="63.11" x2="582.41" y2="68.71" stroke="#f0141e" stroke-width="0.9" />
<line x1="580.61" y1="63.11" x2="584.21" y2="63.11" stroke="#f0141e" stroke-width="0.9" />
<line x1="580.61" y1="68.71" x2="584.21" y2="68.71" stroke="#f0141e" stroke-width="0.9" />
<line x1="596.38" y1="57.06" x2="596.38" y2="60.78" stroke="#f0141e" stroke-width="0.9" />
<line x1="594.58" y1="57.06" x2="598.18" y2="57.06" stroke="#f0141e" stroke-width="0.9" />
<line x1="594.58" y1="60.78" x2="598.18" y2="60.78" stroke="#f0141e" stroke-width="0.9" />
<line x1="610.35" y1="48.44" x2="610.35" y2="55.42" stroke="#f0141e" stroke-width="0.9" />
<line x1="608.55" y1="48.44" x2="612.15" y2="48.44" stroke="#f0141e" stroke-width="0.9" />
<line x1="608.55" y1="55.42" x2="612.15" y2="55.42" stroke="#f0141e" stroke-width="0.9" />
<line x1="624.32" y1="47.27" x2="624.32" y2="51.93" stroke="#f0141e" stroke-width="0.9" />
<line x1="622.52" y1="47.27" x2="626.12" y2="47.27" stroke="#f0141e" stroke-width="0.9" />
<line x1="622.52" y1="51.93" x2="626.12" y2="51.93" stroke="#f0141e" stroke-width="0.9" />
<line x1="638.29" y1="43.31" x2="638.29" y2="51.23" stroke="#f0141e" stroke-width="0.9" />
<line x1="636.49" y1="43.31" x2="640.09" y2="43.31" stroke="#f0141e" stroke-width="0.9" />
<line x1="636.49" y1="51.23" x2="640.09" y2="51.23" stroke="#f0141e" stroke-width="0.9" />
<line x1="652.26" y1="47.27" x2="652.26" y2="51.93" stroke="#f0141e" stroke-width="0.9" />
<line x1="650.46" y1="47.27" x2="654.06" y2="47.27" stroke="#f0141e" stroke-width="0.9" />
<line x1="650.46" y1="51.93" x2="654.06" y2="51.93" stroke="#f0141e" stroke-width="0.9" />
<line x1="666.23" y1="44.94" x2="666.23" y2="54.26" stroke="#f0141e" stroke-width="0.9" />
<line x1="664.43" y1="44.94" x2="668.03" y2="44.94" stroke="#f0141e" stroke-width="0.9" />
<line x1="664.43" y1="54.26" x2="668.03" y2="54.26" stroke="#f0141e" stroke-width="0.9" />
<line x1="680.20" y1="48.90" x2="680.20" y2="54.96" stroke="#f0141e" stroke-width="0.9" />
<line x1="678.40" y1="48.90" x2="682.00" y2="48.90" stroke="#f0141e" stroke-width="0.9" />
<line x1="678.40" y1="54.96" x2="682.00" y2="54.96" stroke="#f0141e" stroke-width="0.9" />
<circle cx="540.50" cy="119.50" r="2.10" fill="#f0141e" stroke="none" stroke-width="0.8"/>
<circle cx="547.49" cy="105.52" r="2.10" fill="#f0141e" stroke="none" stroke-width="0.8"/>
<circle cx="554.47" cy="93.87" r="2.10" fill="#f0141e" stroke="none" stroke-width="0.8"/>
<circle cx="561.46" cy="82.22" r="2.10" fill="#f0141e" stroke="none" stroke-width="0.8"/>
<circle cx="568.44" cy="72.90" r="2.10" fill="#f0141e" stroke="none" stroke-width="0.8"/>
<circle cx="582.41" cy="65.91" r="2.10" fill="#f0141e" stroke="none" stroke-width="0.8"/>
<circle cx="596.38" cy="58.92" r="2.10" fill="#f0141e" stroke="none" stroke-width="0.8"/>
<circle cx="610.35" cy="51.93" r="2.10" fill="#f0141e" stroke="none" stroke-width="0.8"/>
<circle cx="624.32" cy="49.60" r="2.10" fill="#f0141e" stroke="none" stroke-width="0.8"/>
<circle cx="638.29" cy="47.27" r="2.10" fill="#f0141e" stroke="none" stroke-width="0.8"/>
<circle cx="652.26" cy="49.60" r="2.10" fill="#f0141e" stroke="none" stroke-width="0.8"/>
<circle cx="666.23" cy="49.60" r="2.10" fill="#f0141e" stroke="none" stroke-width="0.8"/>
<circle cx="680.20" cy="51.93" r="2.10" fill="#f0141e" stroke="none" stroke-width="0.8"/>
<polyline points="540.50,119.50 547.49,113.67 554.47,107.85 561.46,103.19 568.44,96.20 582.41,89.21 596.38,82.22 610.35,77.56 624.32,77.56 638.29,77.56 652.26,77.56 666.23,75.23 680.20,72.90" fill="none" stroke="#111" stroke-width="1.1" stroke-linejoin="round" />
<line x1="547.49" y1="110.18" x2="547.49" y2="117.17" stroke="#111" stroke-width="0.9" />
<line x1="545.69" y1="110.18" x2="549.28" y2="110.18" stroke="#111" stroke-width="0.9" />
<line x1="545.69" y1="117.17" x2="549.28" y2="117.17" stroke="#111" stroke-width="0.9" />
<line x1="554.47" y1="105.05" x2="554.47" y2="110.65" stroke="#111" stroke-width="0.9" />
<line x1="552.67" y1="105.05" x2="556.27" y2="105.05" stroke="#111" stroke-width="0.9" />
<line x1="552.67" y1="110.65" x2="556.27" y2="110.65" stroke="#111" stroke-width="0.9" />
<line x1="561.46" y1="99.23" x2="561.46" y2="107.15" stroke="#111" stroke-width="0.9" />
<line x1="559.66" y1="99.23" x2="563.25" y2="99.23" stroke="#111" stroke-width="0.9" />
<line x1="559.66" y1="107.15" x2="563.25" y2="107.15" stroke="#111" stroke-width="0.9" />
<line x1="568.44" y1="94.34" x2="568.44" y2="98.06" stroke="#111" stroke-width="0.9" />
<line x1="566.64" y1="94.34" x2="570.24" y2="94.34" stroke="#111" stroke-width="0.9" />
<line x1="566.64" y1="98.06" x2="570.24" y2="98.06" stroke="#111" stroke-width="0.9" />
<line x1="582.41" y1="86.88" x2="582.41" y2="91.54" stroke="#111" stroke-width="0.9" />
<line x1="580.61" y1="86.88" x2="584.21" y2="86.88" stroke="#111" stroke-width="0.9" />
<line x1="580.61" y1="91.54" x2="584.21" y2="91.54" stroke="#111" stroke-width="0.9" />
<line x1="596.38" y1="80.36" x2="596.38" y2="84.08" stroke="#111" stroke-width="0.9" />
<line x1="594.58" y1="80.36" x2="598.18" y2="80.36" stroke="#111" stroke-width="0.9" />
<line x1="594.58" y1="84.08" x2="598.18" y2="84.08" stroke="#111" stroke-width="0.9" />
<line x1="610.35" y1="75.23" x2="610.35" y2="79.89" stroke="#111" stroke-width="0.9" />
<line x1="608.55" y1="75.23" x2="612.15" y2="75.23" stroke="#111" stroke-width="0.9" />
<line x1="608.55" y1="79.89" x2="612.15" y2="79.89" stroke="#111" stroke-width="0.9" />
<line x1="624.32" y1="75.23" x2="624.32" y2="79.89" stroke="#111" stroke-width="0.9" />
<line x1="622.52" y1="75.23" x2="626.12" y2="75.23" stroke="#111" stroke-width="0.9" />
<line x1="622.52" y1="79.89" x2="626.12" y2="79.89" stroke="#111" stroke-width="0.9" />
<line x1="638.29" y1="75.23" x2="638.29" y2="79.89" stroke="#111" stroke-width="0.9" />
<line x1="636.49" y1="75.23" x2="640.09" y2="75.23" stroke="#111" stroke-width="0.9" />
<line x1="636.49" y1="79.89" x2="640.09" y2="79.89" stroke="#111" stroke-width="0.9" />
<line x1="652.26" y1="75.23" x2="652.26" y2="79.89" stroke="#111" stroke-width="0.9" />
<line x1="650.46" y1="75.23" x2="654.06" y2="75.23" stroke="#111" stroke-width="0.9" />
<line x1="650.46" y1="79.89" x2="654.06" y2="79.89" stroke="#111" stroke-width="0.9" />
<line x1="666.23" y1="73.37" x2="666.23" y2="77.09" stroke="#111" stroke-width="0.9" />
<line x1="664.43" y1="73.37" x2="668.03" y2="73.37" stroke="#111" stroke-width="0.9" />
<line x1="664.43" y1="77.09" x2="668.03" y2="77.09" stroke="#111" stroke-width="0.9" />
<line x1="680.20" y1="71.04" x2="680.20" y2="74.76" stroke="#111" stroke-width="0.9" />
<line x1="678.40" y1="71.04" x2="682.00" y2="71.04" stroke="#111" stroke-width="0.9" />
<line x1="678.40" y1="74.76" x2="682.00" y2="74.76" stroke="#111" stroke-width="0.9" />
<rect x="538.40" y="117.40" width="4.20" height="4.20" fill="#111" stroke="none" stroke-width="0.8" />
<rect x="545.38" y="111.58" width="4.20" height="4.20" fill="#111" stroke="none" stroke-width="0.8" />
<rect x="552.37" y="105.75" width="4.20" height="4.20" fill="#111" stroke="none" stroke-width="0.8" />
<rect x="559.36" y="101.09" width="4.20" height="4.20" fill="#111" stroke="none" stroke-width="0.8" />
<rect x="566.34" y="94.10" width="4.20" height="4.20" fill="#111" stroke="none" stroke-width="0.8" />
<rect x="580.31" y="87.11" width="4.20" height="4.20" fill="#111" stroke="none" stroke-width="0.8" />
<rect x="594.28" y="80.12" width="4.20" height="4.20" fill="#111" stroke="none" stroke-width="0.8" />
<rect x="608.25" y="75.46" width="4.20" height="4.20" fill="#111" stroke="none" stroke-width="0.8" />
<rect x="622.22" y="75.46" width="4.20" height="4.20" fill="#111" stroke="none" stroke-width="0.8" />
<rect x="636.19" y="75.46" width="4.20" height="4.20" fill="#111" stroke="none" stroke-width="0.8" />
<rect x="650.16" y="75.46" width="4.20" height="4.20" fill="#111" stroke="none" stroke-width="0.8" />
<rect x="664.13" y="73.13" width="4.20" height="4.20" fill="#111" stroke="none" stroke-width="0.8" />
<rect x="678.10" y="70.80" width="4.20" height="4.20" fill="#111" stroke="none" stroke-width="0.8" />
<rect x="625.40" y="88.10" width="54.30" height="29.90" fill="#000" stroke="none" stroke-width="0.8" />
<path d="M634,88.6 L645.6,88.6 C645.3000000000001,100.6 643.0,111.6 641.1999999999999,116.6 Q639.8,118.19999999999999 638.4,116.6 C636.5999999999999,111.6 634.3,100.6 634,88.6 Z" fill="url(#gTube)"/>
<ellipse cx="639.8" cy="116.39999999999999" rx="1.3" ry="0.9" fill="#d8d0a0" opacity="0.7"/>
<path d="M661.2,88.6 L673.2,88.6 C672.9000000000001,100.6 670.4000000000001,111.6 668.6,116.6 Q667.2,118.19999999999999 665.8000000000001,116.6 C664.0,111.6 661.5,100.6 661.2,88.6 Z" fill="url(#gTube)"/>
<ellipse cx="667.2" cy="116.39999999999999" rx="1.3" ry="0.9" fill="#d8d0a0" opacity="0.7"/>
<text x="639.50" y="86.40" font-size="4.8" text-anchor="middle" fill="#000" font-weight="bold" >H<tspan font-size="70%" dy="0.5">2</tspan><tspan dy="-0.5">​</tspan>O<tspan font-size="70%" dy="0.5">2</tspan><tspan dy="-0.5">​</tspan></text>
<text x="667.50" y="86.40" font-size="4.8" text-anchor="middle" fill="#000" font-weight="bold" >CPCCM</text>
<line x1="540.50" y1="119.50" x2="681.50" y2="119.50" stroke="#000" stroke-width="1.1" />
<line x1="540.50" y1="119.50" x2="540.50" y2="25.50" stroke="#000" stroke-width="1.1" />
<line x1="540.50" y1="119.50" x2="543.00" y2="119.50" stroke="#000" stroke-width="1.05" />
<text x="539.50" y="122.62" font-size="7.4" text-anchor="end" fill="#000" font-weight="bold" >0.0</text>
<line x1="540.50" y1="107.85" x2="543.00" y2="107.85" stroke="#000" stroke-width="1.05" />
<text x="539.50" y="110.97" font-size="7.4" text-anchor="end" fill="#000" font-weight="bold" >0.5</text>
<line x1="540.50" y1="96.20" x2="543.00" y2="96.20" stroke="#000" stroke-width="1.05" />
<text x="539.50" y="99.32" font-size="7.4" text-anchor="end" fill="#000" font-weight="bold" >1.0</text>
<line x1="540.50" y1="84.55" x2="543.00" y2="84.55" stroke="#000" stroke-width="1.05" />
<text x="539.50" y="87.67" font-size="7.4" text-anchor="end" fill="#000" font-weight="bold" >1.5</text>
<line x1="540.50" y1="72.90" x2="543.00" y2="72.90" stroke="#000" stroke-width="1.05" />
<text x="539.50" y="76.02" font-size="7.4" text-anchor="end" fill="#000" font-weight="bold" >2.0</text>
<line x1="540.50" y1="61.25" x2="543.00" y2="61.25" stroke="#000" stroke-width="1.05" />
<text x="539.50" y="64.37" font-size="7.4" text-anchor="end" fill="#000" font-weight="bold" >2.5</text>
<line x1="540.50" y1="49.60" x2="543.00" y2="49.60" stroke="#000" stroke-width="1.05" />
<text x="539.50" y="52.72" font-size="7.4" text-anchor="end" fill="#000" font-weight="bold" >3.0</text>
<line x1="540.50" y1="37.95" x2="543.00" y2="37.95" stroke="#000" stroke-width="1.05" />
<text x="539.50" y="41.07" font-size="7.4" text-anchor="end" fill="#000" font-weight="bold" >3.5</text>
<line x1="540.50" y1="26.30" x2="543.00" y2="26.30" stroke="#000" stroke-width="1.05" />
<text x="539.50" y="29.42" font-size="7.4" text-anchor="end" fill="#000" font-weight="bold" >4.0</text>
<line x1="540.50" y1="119.50" x2="540.50" y2="121.10" stroke="#000" stroke-width="1.05" />
<text x="540.50" y="130.20" font-size="7.4" text-anchor="middle" fill="#000" font-weight="bold" >0</text>
<line x1="568.44" y1="119.50" x2="568.44" y2="121.10" stroke="#000" stroke-width="1.05" />
<text x="568.44" y="130.20" font-size="7.4" text-anchor="middle" fill="#000" font-weight="bold" >2</text>
<line x1="596.38" y1="119.50" x2="596.38" y2="121.10" stroke="#000" stroke-width="1.05" />
<text x="596.38" y="130.20" font-size="7.4" text-anchor="middle" fill="#000" font-weight="bold" >4</text>
<line x1="624.32" y1="119.50" x2="624.32" y2="121.10" stroke="#000" stroke-width="1.05" />
<text x="624.32" y="130.20" font-size="7.4" text-anchor="middle" fill="#000" font-weight="bold" >6</text>
<line x1="652.26" y1="119.50" x2="652.26" y2="121.10" stroke="#000" stroke-width="1.05" />
<text x="652.26" y="130.20" font-size="7.4" text-anchor="middle" fill="#000" font-weight="bold" >8</text>
<line x1="680.20" y1="119.50" x2="680.20" y2="121.10" stroke="#000" stroke-width="1.05" />
<text x="680.20" y="130.20" font-size="7.4" text-anchor="middle" fill="#000" font-weight="bold" >10</text>
<line x1="550.80" y1="32.70" x2="560.10" y2="32.70" stroke="#f0141e" stroke-width="1.1" />
<circle cx="554.80" cy="32.70" r="1.80" fill="#f0141e" stroke="none" stroke-width="0.8"/>
<text x="565.30" y="35.30" font-size="7.9" text-anchor="start" fill="#000" font-weight="bold" >H<tspan font-size="70%" dy="1.6">2</tspan><tspan dy="-1.6">​</tspan>O<tspan font-size="70%" dy="1.6">2</tspan><tspan dy="-1.6">​</tspan>+CPCCM</text>
<line x1="631.20" y1="32.70" x2="639.70" y2="32.70" stroke="#111" stroke-width="1.1" />
<rect x="634.00" y="31.00" width="3.40" height="3.40" fill="#111" stroke="none" stroke-width="0.8" />
<text x="646.30" y="35.30" font-size="8.1" text-anchor="start" fill="#000" font-weight="bold" >H<tspan font-size="70%" dy="1.6">2</tspan><tspan dy="-1.6">​</tspan>O<tspan font-size="70%" dy="1.6">2</tspan><tspan dy="-1.6">​</tspan></text>
<text x="617.30" y="142.50" font-size="10.5" text-anchor="middle" fill="#000" font-weight="bold" >Time (min)</text>
<text x="523.20" y="72.60" font-size="10.85" text-anchor="middle" fill="#000" font-weight="bold" transform="rotate(-90 523.20 72.60)" >Dissolved O<tspan font-size="70%" dy="2">2</tspan><tspan dy="-2">​</tspan> (mg/L)</text>
<path d="M30.40,250.20 C32.24,249.95 37.77,249.46 41.46,248.72 C45.15,247.98 48.83,246.87 52.52,245.75 C56.21,244.64 59.89,243.28 63.58,242.05 C67.27,240.81 70.95,239.70 74.64,238.34 C78.33,236.99 82.01,235.26 85.70,233.90 C89.39,232.54 93.07,231.30 96.76,230.19 C100.45,229.08 104.13,228.09 107.82,227.23 C111.51,226.36 115.19,225.62 118.88,225.01 C122.57,224.39 126.25,224.02 129.94,223.52 C133.63,223.03 137.31,222.54 141.00,222.04 C144.69,221.55 148.37,220.87 152.06,220.56 C155.75,220.25 161.28,220.25 163.12,220.19" fill="none" stroke="#111" stroke-width="1.25"/>
<circle cx="30.40" cy="250.20" r="1.30" fill="#111" stroke="none" stroke-width="0.8"/>
<circle cx="41.46" cy="248.72" r="1.30" fill="#111" stroke="none" stroke-width="0.8"/>
<circle cx="52.52" cy="245.75" r="1.30" fill="#111" stroke="none" stroke-width="0.8"/>
<circle cx="63.58" cy="242.05" r="1.30" fill="#111" stroke="none" stroke-width="0.8"/>
<circle cx="74.64" cy="238.34" r="1.30" fill="#111" stroke="none" stroke-width="0.8"/>
<circle cx="85.70" cy="233.90" r="1.30" fill="#111" stroke="none" stroke-width="0.8"/>
<circle cx="96.76" cy="230.19" r="1.30" fill="#111" stroke="none" stroke-width="0.8"/>
<circle cx="107.82" cy="227.23" r="1.30" fill="#111" stroke="none" stroke-width="0.8"/>
<circle cx="118.88" cy="225.01" r="1.30" fill="#111" stroke="none" stroke-width="0.8"/>
<circle cx="129.94" cy="223.52" r="1.30" fill="#111" stroke="none" stroke-width="0.8"/>
<circle cx="141.00" cy="222.04" r="1.30" fill="#111" stroke="none" stroke-width="0.8"/>
<circle cx="152.06" cy="220.56" r="1.30" fill="#111" stroke="none" stroke-width="0.8"/>
<circle cx="163.12" cy="220.19" r="1.30" fill="#111" stroke="none" stroke-width="0.8"/>
<path d="M30.40,250.20 C32.24,249.34 37.77,246.62 41.46,245.01 C45.15,243.41 48.83,242.17 52.52,240.57 C56.21,238.96 59.89,237.11 63.58,235.38 C67.27,233.65 70.95,231.92 74.64,230.19 C78.33,228.46 82.01,226.61 85.70,225.01 C89.39,223.40 93.07,222.04 96.76,220.56 C100.45,219.08 104.13,217.47 107.82,216.11 C111.51,214.76 115.19,213.58 118.88,212.41 C122.57,211.24 126.25,210.06 129.94,209.07 C133.63,208.09 137.31,207.16 141.00,206.48 C144.69,205.80 148.37,205.37 152.06,205.00 C155.75,204.63 161.28,204.38 163.12,204.26" fill="none" stroke="#1a5d82" stroke-width="1.25"/>
<circle cx="30.40" cy="250.20" r="1.30" fill="#1a5d82" stroke="none" stroke-width="0.8"/>
<circle cx="41.46" cy="245.01" r="1.30" fill="#1a5d82" stroke="none" stroke-width="0.8"/>
<circle cx="52.52" cy="240.57" r="1.30" fill="#1a5d82" stroke="none" stroke-width="0.8"/>
<circle cx="63.58" cy="235.38" r="1.30" fill="#1a5d82" stroke="none" stroke-width="0.8"/>
<circle cx="74.64" cy="230.19" r="1.30" fill="#1a5d82" stroke="none" stroke-width="0.8"/>
<circle cx="85.70" cy="225.01" r="1.30" fill="#1a5d82" stroke="none" stroke-width="0.8"/>
<circle cx="96.76" cy="220.56" r="1.30" fill="#1a5d82" stroke="none" stroke-width="0.8"/>
<circle cx="107.82" cy="216.11" r="1.30" fill="#1a5d82" stroke="none" stroke-width="0.8"/>
<circle cx="118.88" cy="212.41" r="1.30" fill="#1a5d82" stroke="none" stroke-width="0.8"/>
<circle cx="129.94" cy="209.07" r="1.30" fill="#1a5d82" stroke="none" stroke-width="0.8"/>
<circle cx="141.00" cy="206.48" r="1.30" fill="#1a5d82" stroke="none" stroke-width="0.8"/>
<circle cx="152.06" cy="205.00" r="1.30" fill="#1a5d82" stroke="none" stroke-width="0.8"/>
<circle cx="163.12" cy="204.26" r="1.30" fill="#1a5d82" stroke="none" stroke-width="0.8"/>
<path d="M30.40,250.20 C32.24,249.40 37.77,246.93 41.46,245.38 C45.15,243.84 48.83,242.42 52.52,240.94 C56.21,239.46 59.89,237.91 63.58,236.49 C67.27,235.07 70.95,233.84 74.64,232.42 C78.33,231.00 82.01,229.33 85.70,227.97 C89.39,226.61 93.07,225.50 96.76,224.26 C100.45,223.03 104.13,221.80 107.82,220.56 C111.51,219.32 115.19,217.97 118.88,216.85 C122.57,215.74 126.25,214.88 129.94,213.89 C133.63,212.90 137.31,211.79 141.00,210.93 C144.69,210.06 148.37,209.32 152.06,208.70 C155.75,208.09 161.28,207.47 163.12,207.22" fill="none" stroke="#f0282d" stroke-width="1.25"/>
<circle cx="30.40" cy="250.20" r="1.30" fill="#f0282d" stroke="none" stroke-width="0.8"/>
<circle cx="41.46" cy="245.38" r="1.30" fill="#f0282d" stroke="none" stroke-width="0.8"/>
<circle cx="52.52" cy="240.94" r="1.30" fill="#f0282d" stroke="none" stroke-width="0.8"/>
<circle cx="63.58" cy="236.49" r="1.30" fill="#f0282d" stroke="none" stroke-width="0.8"/>
<circle cx="74.64" cy="232.42" r="1.30" fill="#f0282d" stroke="none" stroke-width="0.8"/>
<circle cx="85.70" cy="227.97" r="1.30" fill="#f0282d" stroke="none" stroke-width="0.8"/>
<circle cx="96.76" cy="224.26" r="1.30" fill="#f0282d" stroke="none" stroke-width="0.8"/>
<circle cx="107.82" cy="220.56" r="1.30" fill="#f0282d" stroke="none" stroke-width="0.8"/>
<circle cx="118.88" cy="216.85" r="1.30" fill="#f0282d" stroke="none" stroke-width="0.8"/>
<circle cx="129.94" cy="213.89" r="1.30" fill="#f0282d" stroke="none" stroke-width="0.8"/>
<circle cx="141.00" cy="210.93" r="1.30" fill="#f0282d" stroke="none" stroke-width="0.8"/>
<circle cx="152.06" cy="208.70" r="1.30" fill="#f0282d" stroke="none" stroke-width="0.8"/>
<circle cx="163.12" cy="207.22" r="1.30" fill="#f0282d" stroke="none" stroke-width="0.8"/>
<path d="M30.40,250.20 C32.24,249.34 37.77,246.74 41.46,245.01 C45.15,243.28 48.83,241.56 52.52,239.83 C56.21,238.10 59.89,236.61 63.58,234.64 C67.27,232.66 70.95,230.32 74.64,227.97 C78.33,225.62 82.01,222.78 85.70,220.56 C89.39,218.34 93.07,216.61 96.76,214.63 C100.45,212.66 104.13,210.56 107.82,208.70 C111.51,206.85 115.19,205.00 118.88,203.52 C122.57,202.03 126.25,200.92 129.94,199.81 C133.63,198.70 137.31,197.59 141.00,196.85 C144.69,196.11 148.37,195.61 152.06,195.37 C155.75,195.12 161.28,195.37 163.12,195.37" fill="none" stroke="#1e9a28" stroke-width="1.25"/>
<circle cx="30.40" cy="250.20" r="1.30" fill="#1e9a28" stroke="none" stroke-width="0.8"/>
<circle cx="41.46" cy="245.01" r="1.30" fill="#1e9a28" stroke="none" stroke-width="0.8"/>
<circle cx="52.52" cy="239.83" r="1.30" fill="#1e9a28" stroke="none" stroke-width="0.8"/>
<circle cx="63.58" cy="234.64" r="1.30" fill="#1e9a28" stroke="none" stroke-width="0.8"/>
<circle cx="74.64" cy="227.97" r="1.30" fill="#1e9a28" stroke="none" stroke-width="0.8"/>
<circle cx="85.70" cy="220.56" r="1.30" fill="#1e9a28" stroke="none" stroke-width="0.8"/>
<circle cx="96.76" cy="214.63" r="1.30" fill="#1e9a28" stroke="none" stroke-width="0.8"/>
<circle cx="107.82" cy="208.70" r="1.30" fill="#1e9a28" stroke="none" stroke-width="0.8"/>
<circle cx="118.88" cy="203.52" r="1.30" fill="#1e9a28" stroke="none" stroke-width="0.8"/>
<circle cx="129.94" cy="199.81" r="1.30" fill="#1e9a28" stroke="none" stroke-width="0.8"/>
<circle cx="141.00" cy="196.85" r="1.30" fill="#1e9a28" stroke="none" stroke-width="0.8"/>
<circle cx="152.06" cy="195.37" r="1.30" fill="#1e9a28" stroke="none" stroke-width="0.8"/>
<circle cx="163.12" cy="195.37" r="1.30" fill="#1e9a28" stroke="none" stroke-width="0.8"/>
<path d="M30.40,250.20 C32.24,249.34 37.77,246.74 41.46,245.01 C45.15,243.28 48.83,241.56 52.52,239.83 C56.21,238.10 59.89,236.61 63.58,234.64 C67.27,232.66 70.95,230.44 74.64,227.97 C78.33,225.50 82.01,222.41 85.70,219.82 C89.39,217.23 93.07,214.88 96.76,212.41 C100.45,209.94 104.13,207.22 107.82,205.00 C111.51,202.78 115.19,201.17 118.88,199.07 C122.57,196.97 126.25,194.25 129.94,192.40 C133.63,190.55 137.31,189.31 141.00,187.96 C144.69,186.60 148.37,185.12 152.06,184.25 C155.75,183.39 161.28,183.02 163.12,182.77" fill="none" stroke="#f6781e" stroke-width="1.25"/>
<circle cx="30.40" cy="250.20" r="1.30" fill="#f6781e" stroke="none" stroke-width="0.8"/>
<circle cx="41.46" cy="245.01" r="1.30" fill="#f6781e" stroke="none" stroke-width="0.8"/>
<circle cx="52.52" cy="239.83" r="1.30" fill="#f6781e" stroke="none" stroke-width="0.8"/>
<circle cx="63.58" cy="234.64" r="1.30" fill="#f6781e" stroke="none" stroke-width="0.8"/>
<circle cx="74.64" cy="227.97" r="1.30" fill="#f6781e" stroke="none" stroke-width="0.8"/>
<circle cx="85.70" cy="219.82" r="1.30" fill="#f6781e" stroke="none" stroke-width="0.8"/>
<circle cx="96.76" cy="212.41" r="1.30" fill="#f6781e" stroke="none" stroke-width="0.8"/>
<circle cx="107.82" cy="205.00" r="1.30" fill="#f6781e" stroke="none" stroke-width="0.8"/>
<circle cx="118.88" cy="199.07" r="1.30" fill="#f6781e" stroke="none" stroke-width="0.8"/>
<circle cx="129.94" cy="192.40" r="1.30" fill="#f6781e" stroke="none" stroke-width="0.8"/>
<circle cx="141.00" cy="187.96" r="1.30" fill="#f6781e" stroke="none" stroke-width="0.8"/>
<circle cx="152.06" cy="184.25" r="1.30" fill="#f6781e" stroke="none" stroke-width="0.8"/>
<circle cx="163.12" cy="182.77" r="1.30" fill="#f6781e" stroke="none" stroke-width="0.8"/>
<path d="M30.40,250.20 C32.24,249.09 37.77,245.88 41.46,243.53 C45.15,241.18 48.83,238.71 52.52,236.12 C56.21,233.53 59.89,230.81 63.58,227.97 C67.27,225.13 70.95,222.17 74.64,219.08 C78.33,215.99 82.01,212.53 85.70,209.44 C89.39,206.36 93.07,203.27 96.76,200.55 C100.45,197.84 104.13,195.49 107.82,193.14 C111.51,190.80 115.19,188.33 118.88,186.47 C122.57,184.62 126.25,183.39 129.94,182.03 C133.63,180.67 137.31,179.31 141.00,178.32 C144.69,177.33 148.37,176.47 152.06,176.10 C155.75,175.73 161.28,176.10 163.12,176.10" fill="none" stroke="#1fa4cc" stroke-width="1.25"/>
<circle cx="30.40" cy="250.20" r="1.30" fill="#1fa4cc" stroke="none" stroke-width="0.8"/>
<circle cx="41.46" cy="243.53" r="1.30" fill="#1fa4cc" stroke="none" stroke-width="0.8"/>
<circle cx="52.52" cy="236.12" r="1.30" fill="#1fa4cc" stroke="none" stroke-width="0.8"/>
<circle cx="63.58" cy="227.97" r="1.30" fill="#1fa4cc" stroke="none" stroke-width="0.8"/>
<circle cx="74.64" cy="219.08" r="1.30" fill="#1fa4cc" stroke="none" stroke-width="0.8"/>
<circle cx="85.70" cy="209.44" r="1.30" fill="#1fa4cc" stroke="none" stroke-width="0.8"/>
<circle cx="96.76" cy="200.55" r="1.30" fill="#1fa4cc" stroke="none" stroke-width="0.8"/>
<circle cx="107.82" cy="193.14" r="1.30" fill="#1fa4cc" stroke="none" stroke-width="0.8"/>
<circle cx="118.88" cy="186.47" r="1.30" fill="#1fa4cc" stroke="none" stroke-width="0.8"/>
<circle cx="129.94" cy="182.03" r="1.30" fill="#1fa4cc" stroke="none" stroke-width="0.8"/>
<circle cx="141.00" cy="178.32" r="1.30" fill="#1fa4cc" stroke="none" stroke-width="0.8"/>
<circle cx="152.06" cy="176.10" r="1.30" fill="#1fa4cc" stroke="none" stroke-width="0.8"/>
<circle cx="163.12" cy="176.10" r="1.30" fill="#1fa4cc" stroke="none" stroke-width="0.8"/>
<line x1="30.40" y1="250.20" x2="163.30" y2="250.20" stroke="#000" stroke-width="1.1" />
<line x1="30.40" y1="250.20" x2="30.40" y2="161.30" stroke="#000" stroke-width="1.1" />
<line x1="28.40" y1="250.20" x2="30.40" y2="250.20" stroke="#000" stroke-width="1.05" />
<text x="27.20" y="253.28" font-size="7.3" text-anchor="end" fill="#000" font-weight="bold" >0.2</text>
<line x1="28.40" y1="235.38" x2="30.40" y2="235.38" stroke="#000" stroke-width="1.05" />
<text x="27.20" y="238.46" font-size="7.3" text-anchor="end" fill="#000" font-weight="bold" >0.4</text>
<line x1="28.40" y1="220.56" x2="30.40" y2="220.56" stroke="#000" stroke-width="1.05" />
<text x="27.20" y="223.64" font-size="7.3" text-anchor="end" fill="#000" font-weight="bold" >0.6</text>
<line x1="28.40" y1="205.74" x2="30.40" y2="205.74" stroke="#000" stroke-width="1.05" />
<text x="27.20" y="208.82" font-size="7.3" text-anchor="end" fill="#000" font-weight="bold" >0.8</text>
<line x1="28.40" y1="190.92" x2="30.40" y2="190.92" stroke="#000" stroke-width="1.05" />
<text x="27.20" y="194.00" font-size="7.3" text-anchor="end" fill="#000" font-weight="bold" >1.0</text>
<line x1="28.40" y1="176.10" x2="30.40" y2="176.10" stroke="#000" stroke-width="1.05" />
<text x="27.20" y="179.18" font-size="7.3" text-anchor="end" fill="#000" font-weight="bold" >1.2</text>
<line x1="28.40" y1="161.28" x2="30.40" y2="161.28" stroke="#000" stroke-width="1.05" />
<text x="27.20" y="164.36" font-size="7.3" text-anchor="end" fill="#000" font-weight="bold" >1.4</text>
<line x1="30.40" y1="250.20" x2="30.40" y2="252.20" stroke="#000" stroke-width="1.05" />
<text x="30.40" y="260.30" font-size="7.3" text-anchor="middle" fill="#000" font-weight="bold" >2</text>
<line x1="52.52" y1="250.20" x2="52.52" y2="252.20" stroke="#000" stroke-width="1.05" />
<text x="52.52" y="260.30" font-size="7.3" text-anchor="middle" fill="#000" font-weight="bold" >4</text>
<line x1="74.64" y1="250.20" x2="74.64" y2="252.20" stroke="#000" stroke-width="1.05" />
<text x="74.64" y="260.30" font-size="7.3" text-anchor="middle" fill="#000" font-weight="bold" >6</text>
<line x1="96.76" y1="250.20" x2="96.76" y2="252.20" stroke="#000" stroke-width="1.05" />
<text x="96.76" y="260.30" font-size="7.3" text-anchor="middle" fill="#000" font-weight="bold" >8</text>
<line x1="118.88" y1="250.20" x2="118.88" y2="252.20" stroke="#000" stroke-width="1.05" />
<text x="118.88" y="260.30" font-size="7.3" text-anchor="middle" fill="#000" font-weight="bold" >10</text>
<line x1="141.00" y1="250.20" x2="141.00" y2="252.20" stroke="#000" stroke-width="1.05" />
<text x="141.00" y="260.30" font-size="7.3" text-anchor="middle" fill="#000" font-weight="bold" >12</text>
<line x1="163.12" y1="250.20" x2="163.12" y2="252.20" stroke="#000" stroke-width="1.05" />
<text x="163.12" y="260.30" font-size="7.3" text-anchor="middle" fill="#000" font-weight="bold" >14</text>
<line x1="36.80" y1="164.80" x2="45.60" y2="164.80" stroke="#111" stroke-width="1.2" />
<circle cx="41.20" cy="164.80" r="1.30" fill="#111" stroke="none" stroke-width="0.8"/>
<text x="51.00" y="167.40" font-size="7.5" text-anchor="start" fill="#000" font-weight="bold" >1.5mM</text>
<line x1="36.80" y1="174.80" x2="45.60" y2="174.80" stroke="#1a5d82" stroke-width="1.2" />
<circle cx="41.20" cy="174.80" r="1.30" fill="#1a5d82" stroke="none" stroke-width="0.8"/>
<text x="51.00" y="177.40" font-size="7.5" text-anchor="start" fill="#000" font-weight="bold" >2.5mM</text>
<line x1="36.80" y1="184.80" x2="45.60" y2="184.80" stroke="#f0282d" stroke-width="1.2" />
<circle cx="41.20" cy="184.80" r="1.30" fill="#f0282d" stroke="none" stroke-width="0.8"/>
<text x="51.00" y="187.40" font-size="7.5" text-anchor="start" fill="#000" font-weight="bold" >3.75mM</text>
<line x1="36.80" y1="194.80" x2="45.60" y2="194.80" stroke="#1e9a28" stroke-width="1.2" />
<circle cx="41.20" cy="194.80" r="1.30" fill="#1e9a28" stroke="none" stroke-width="0.8"/>
<text x="51.00" y="197.40" font-size="7.5" text-anchor="start" fill="#000" font-weight="bold" >5mM</text>
<line x1="36.80" y1="204.80" x2="45.60" y2="204.80" stroke="#f6781e" stroke-width="1.2" />
<circle cx="41.20" cy="204.80" r="1.30" fill="#f6781e" stroke="none" stroke-width="0.8"/>
<text x="51.00" y="207.40" font-size="7.5" text-anchor="start" fill="#000" font-weight="bold" >10mM</text>
<line x1="36.80" y1="214.80" x2="45.60" y2="214.80" stroke="#1fa4cc" stroke-width="1.2" />
<circle cx="41.20" cy="214.80" r="1.30" fill="#1fa4cc" stroke="none" stroke-width="0.8"/>
<text x="51.00" y="217.40" font-size="7.5" text-anchor="start" fill="#000" font-weight="bold" >15mM</text>
<text x="93.10" y="148.70" font-size="10.2" text-anchor="middle" fill="#000" font-weight="bold" >Ce6</text>
<text x="97.50" y="273.00" font-size="10" text-anchor="middle" fill="#000" font-weight="bold" >Time (min)</text>
<text x="13.70" y="205.60" font-size="10.7" text-anchor="middle" fill="#000" font-weight="bold" transform="rotate(-90 13.70 205.60)" >Absorbance(a.u)</text>
<line x1="197.50" y1="251.60" x2="335.50" y2="251.60" stroke="#000" stroke-width="1.1" />
<line x1="197.50" y1="251.60" x2="197.50" y2="160.50" stroke="#000" stroke-width="1.1" />
<polyline points="197.50,251.60 199.22,247.39 200.93,243.51 202.65,239.93 204.37,236.61 206.08,233.52 207.80,230.64 209.51,227.95 211.23,225.44 212.95,223.07 214.66,220.85 216.38,218.76 218.09,216.79 219.81,214.92 221.53,213.16 223.24,211.49 224.96,209.90 226.68,208.39 228.39,206.95 230.11,205.58 231.82,204.28 233.54,203.03 235.26,201.84 236.97,200.70 238.69,199.60 240.41,198.56 242.12,197.55 243.84,196.59 245.56,195.66 247.27,194.77 248.99,193.91 250.70,193.08 252.42,192.28 254.14,191.51 255.85,190.77 257.57,190.05 259.29,189.36 261.00,188.69 262.72,188.04 264.43,187.42 266.15,186.81 267.87,186.22 269.58,185.65 271.30,185.10 273.01,184.56 274.73,184.04 276.45,183.53 278.16,183.04 279.88,182.56 281.60,182.10 283.31,181.64 285.03,181.20 286.75,180.78 288.46,180.36 290.18,179.95 291.89,179.56 293.61,179.17 295.33,178.79 297.04,178.43 298.76,178.07 300.48,177.72" fill="none" stroke="#f0191e" stroke-width="1.3" stroke-linejoin="round" />
<line x1="200.93" y1="234.44" x2="200.93" y2="243.20" stroke="#444" stroke-width="0.7" />
<line x1="199.33" y1="234.44" x2="202.53" y2="234.44" stroke="#444" stroke-width="0.7" />
<line x1="199.33" y1="243.20" x2="202.53" y2="243.20" stroke="#444" stroke-width="0.7" />
<circle cx="200.93" cy="238.82" r="1.80" fill="#000" stroke="none" stroke-width="0.8"/>
<line x1="214.66" y1="215.08" x2="214.66" y2="223.84" stroke="#444" stroke-width="0.7" />
<line x1="213.06" y1="215.08" x2="216.26" y2="215.08" stroke="#444" stroke-width="0.7" />
<line x1="213.06" y1="223.84" x2="216.26" y2="223.84" stroke="#444" stroke-width="0.7" />
<circle cx="214.66" cy="219.46" r="1.80" fill="#000" stroke="none" stroke-width="0.8"/>
<line x1="223.24" y1="206.68" x2="223.24" y2="216.18" stroke="#444" stroke-width="0.7" />
<line x1="221.64" y1="206.68" x2="224.84" y2="206.68" stroke="#444" stroke-width="0.7" />
<line x1="221.64" y1="216.18" x2="224.84" y2="216.18" stroke="#444" stroke-width="0.7" />
<circle cx="223.24" cy="211.43" r="1.80" fill="#000" stroke="none" stroke-width="0.8"/>
<line x1="231.82" y1="203.76" x2="231.82" y2="211.06" stroke="#444" stroke-width="0.7" />
<line x1="230.22" y1="203.76" x2="233.42" y2="203.76" stroke="#444" stroke-width="0.7" />
<line x1="230.22" y1="211.06" x2="233.42" y2="211.06" stroke="#444" stroke-width="0.7" />
<circle cx="231.82" cy="207.41" r="1.80" fill="#000" stroke="none" stroke-width="0.8"/>
<line x1="266.15" y1="184.40" x2="266.15" y2="190.25" stroke="#444" stroke-width="0.7" />
<line x1="264.55" y1="184.40" x2="267.75" y2="184.40" stroke="#444" stroke-width="0.7" />
<line x1="264.55" y1="190.25" x2="267.75" y2="190.25" stroke="#444" stroke-width="0.7" />
<circle cx="266.15" cy="187.32" r="1.80" fill="#000" stroke="none" stroke-width="0.8"/>
<line x1="300.48" y1="173.45" x2="300.48" y2="181.48" stroke="#444" stroke-width="0.7" />
<line x1="298.88" y1="173.45" x2="302.08" y2="173.45" stroke="#444" stroke-width="0.7" />
<line x1="298.88" y1="181.48" x2="302.08" y2="181.48" stroke="#444" stroke-width="0.7" />
<circle cx="300.48" cy="177.46" r="1.80" fill="#000" stroke="none" stroke-width="0.8"/>
<line x1="194.50" y1="251.60" x2="197.50" y2="251.60" stroke="#000" stroke-width="1.05" />
<text x="192.20" y="254.65" font-size="7.2" text-anchor="end" fill="#000" font-weight="bold" >0</text>
<line x1="194.50" y1="233.34" x2="197.50" y2="233.34" stroke="#000" stroke-width="1.05" />
<text x="192.20" y="236.39" font-size="7.2" text-anchor="end" fill="#000" font-weight="bold" >5</text>
<line x1="194.50" y1="215.08" x2="197.50" y2="215.08" stroke="#000" stroke-width="1.05" />
<text x="192.20" y="218.13" font-size="7.2" text-anchor="end" fill="#000" font-weight="bold" >10</text>
<line x1="194.50" y1="196.82" x2="197.50" y2="196.82" stroke="#000" stroke-width="1.05" />
<text x="192.20" y="199.87" font-size="7.2" text-anchor="end" fill="#000" font-weight="bold" >15</text>
<line x1="194.50" y1="178.56" x2="197.50" y2="178.56" stroke="#000" stroke-width="1.05" />
<text x="192.20" y="181.61" font-size="7.2" text-anchor="end" fill="#000" font-weight="bold" >20</text>
<line x1="194.50" y1="160.30" x2="197.50" y2="160.30" stroke="#000" stroke-width="1.05" />
<text x="192.20" y="163.35" font-size="7.2" text-anchor="end" fill="#000" font-weight="bold" >25</text>
<line x1="197.50" y1="251.60" x2="197.50" y2="254.40" stroke="#000" stroke-width="1.05" />
<text x="197.50" y="263.50" font-size="7.2" text-anchor="middle" fill="#000" font-weight="bold" >0</text>
<line x1="231.82" y1="251.60" x2="231.82" y2="254.40" stroke="#000" stroke-width="1.05" />
<text x="231.82" y="263.50" font-size="7.2" text-anchor="middle" fill="#000" font-weight="bold" >5</text>
<line x1="266.15" y1="251.60" x2="266.15" y2="254.40" stroke="#000" stroke-width="1.05" />
<text x="266.15" y="263.50" font-size="7.2" text-anchor="middle" fill="#000" font-weight="bold" >10</text>
<line x1="300.48" y1="251.60" x2="300.48" y2="254.40" stroke="#000" stroke-width="1.05" />
<text x="300.48" y="263.50" font-size="7.2" text-anchor="middle" fill="#000" font-weight="bold" >15</text>
<line x1="334.80" y1="251.60" x2="334.80" y2="254.40" stroke="#000" stroke-width="1.05" />
<text x="334.80" y="263.50" font-size="7.2" text-anchor="middle" fill="#000" font-weight="bold" >20</text>
<text x="202.00" y="165.30" font-size="9.0" text-anchor="start" fill="#e8141c" font-weight="bold" >Vmax 28.12μM/s</text>
<text x="203.50" y="177.50" font-size="9.0" text-anchor="start" fill="#e8141c" font-weight="bold" >Km 5.85mM</text>
<text x="272.00" y="242.50" font-size="9.6" text-anchor="middle" fill="#000" font-weight="bold" >Michaelis-Menten Fitting</text>
<text x="266.20" y="275.30" font-size="9.0" text-anchor="middle" fill="#000" font-weight="bold" >H<tspan font-size="70%" dy="2">2</tspan><tspan dy="-2">​</tspan>O<tspan font-size="70%" dy="2">2</tspan><tspan dy="-2">​</tspan> concenrtration (mM)</text>
<text x="180.30" y="205.50" font-size="9.1" text-anchor="middle" fill="#000" font-weight="bold" transform="rotate(-90 180.30 205.50)" >1/Velocity(μM<tspan font-size="65%" dy="-2.8">−1</tspan><tspan dy="2.8">​</tspan>S)</text>
<line x1="374.90" y1="251.30" x2="374.90" y2="160.00" stroke="#888" stroke-width="1.4" />
<line x1="373.90" y1="251.30" x2="512.00" y2="251.30" stroke="#000" stroke-width="1.1" />
<polyline points="385.88,225.33 489.19,164.02" fill="none" stroke="#f0191e" stroke-width="1.3" stroke-linejoin="round" />
<line x1="385.88" y1="224.46" x2="385.88" y2="231.78" stroke="#444" stroke-width="0.7" />
<line x1="384.28" y1="224.46" x2="387.48" y2="224.46" stroke="#444" stroke-width="0.7" />
<line x1="384.28" y1="231.78" x2="387.48" y2="231.78" stroke="#444" stroke-width="0.7" />
<circle cx="385.88" cy="228.12" r="1.80" fill="#000" stroke="none" stroke-width="0.8"/>
<line x1="391.61" y1="218.67" x2="391.61" y2="223.55" stroke="#444" stroke-width="0.7" />
<line x1="390.01" y1="218.67" x2="393.21" y2="218.67" stroke="#444" stroke-width="0.7" />
<line x1="390.01" y1="223.55" x2="393.21" y2="223.55" stroke="#444" stroke-width="0.7" />
<circle cx="391.61" cy="221.11" r="1.80" fill="#000" stroke="none" stroke-width="0.8"/>
<line x1="408.82" y1="211.35" x2="408.82" y2="217.45" stroke="#444" stroke-width="0.7" />
<line x1="407.22" y1="211.35" x2="410.42" y2="211.35" stroke="#444" stroke-width="0.7" />
<line x1="407.22" y1="217.45" x2="410.42" y2="217.45" stroke="#444" stroke-width="0.7" />
<circle cx="408.82" cy="214.40" r="1.80" fill="#000" stroke="none" stroke-width="0.8"/>
<line x1="420.30" y1="196.40" x2="420.30" y2="204.33" stroke="#444" stroke-width="0.7" />
<line x1="418.70" y1="196.40" x2="421.90" y2="196.40" stroke="#444" stroke-width="0.7" />
<line x1="418.70" y1="204.33" x2="421.90" y2="204.33" stroke="#444" stroke-width="0.7" />
<circle cx="420.30" cy="200.37" r="1.80" fill="#000" stroke="none" stroke-width="0.8"/>
<line x1="443.24" y1="185.73" x2="443.24" y2="193.05" stroke="#444" stroke-width="0.7" />
<line x1="441.64" y1="185.73" x2="444.84" y2="185.73" stroke="#444" stroke-width="0.7" />
<line x1="441.64" y1="193.05" x2="444.84" y2="193.05" stroke="#444" stroke-width="0.7" />
<circle cx="443.24" cy="189.39" r="1.80" fill="#000" stroke="none" stroke-width="0.8"/>
<line x1="489.14" y1="162.24" x2="489.14" y2="169.56" stroke="#444" stroke-width="0.7" />
<line x1="487.54" y1="162.24" x2="490.74" y2="162.24" stroke="#444" stroke-width="0.7" />
<line x1="487.54" y1="169.56" x2="490.74" y2="169.56" stroke="#444" stroke-width="0.7" />
<circle cx="489.14" cy="165.90" r="1.80" fill="#000" stroke="none" stroke-width="0.8"/>
<line x1="371.90" y1="251.30" x2="374.40" y2="251.30" stroke="#000" stroke-width="1.05" />
<text x="370.40" y="254.35" font-size="7.2" text-anchor="end" fill="#000" font-weight="bold" >0</text>
<line x1="371.90" y1="220.80" x2="374.40" y2="220.80" stroke="#000" stroke-width="1.05" />
<text x="370.40" y="223.85" font-size="7.2" text-anchor="end" fill="#000" font-weight="bold" >10</text>
<line x1="371.90" y1="190.30" x2="374.40" y2="190.30" stroke="#000" stroke-width="1.05" />
<text x="370.40" y="193.35" font-size="7.2" text-anchor="end" fill="#000" font-weight="bold" >20</text>
<line x1="371.90" y1="159.80" x2="374.40" y2="159.80" stroke="#000" stroke-width="1.05" />
<text x="370.40" y="162.85" font-size="7.2" text-anchor="end" fill="#000" font-weight="bold" >30</text>
<line x1="374.40" y1="251.30" x2="374.40" y2="253.50" stroke="#000" stroke-width="1.05" />
<text x="374.40" y="261.70" font-size="6.9" text-anchor="middle" fill="#000" font-weight="bold" >0.0</text>
<line x1="391.61" y1="251.30" x2="391.61" y2="253.50" stroke="#000" stroke-width="1.05" />
<text x="391.61" y="261.70" font-size="6.9" text-anchor="middle" fill="#000" font-weight="bold" >0.1</text>
<line x1="408.82" y1="251.30" x2="408.82" y2="253.50" stroke="#000" stroke-width="1.05" />
<text x="408.82" y="261.70" font-size="6.9" text-anchor="middle" fill="#000" font-weight="bold" >0.2</text>
<line x1="426.03" y1="251.30" x2="426.03" y2="253.50" stroke="#000" stroke-width="1.05" />
<text x="426.03" y="261.70" font-size="6.9" text-anchor="middle" fill="#000" font-weight="bold" >0.3</text>
<line x1="443.24" y1="251.30" x2="443.24" y2="253.50" stroke="#000" stroke-width="1.05" />
<text x="443.24" y="261.70" font-size="6.9" text-anchor="middle" fill="#000" font-weight="bold" >0.4</text>
<line x1="460.45" y1="251.30" x2="460.45" y2="253.50" stroke="#000" stroke-width="1.05" />
<text x="460.45" y="261.70" font-size="6.9" text-anchor="middle" fill="#000" font-weight="bold" >0.5</text>
<line x1="477.66" y1="251.30" x2="477.66" y2="253.50" stroke="#000" stroke-width="1.05" />
<text x="477.66" y="261.70" font-size="6.9" text-anchor="middle" fill="#000" font-weight="bold" >0.6</text>
<line x1="494.87" y1="251.30" x2="494.87" y2="253.50" stroke="#000" stroke-width="1.05" />
<text x="494.87" y="261.70" font-size="6.9" text-anchor="middle" fill="#000" font-weight="bold" >0.7</text>
<line x1="512.08" y1="251.30" x2="512.08" y2="253.50" stroke="#000" stroke-width="1.05" />
<text x="512.08" y="261.70" font-size="6.9" text-anchor="middle" fill="#000" font-weight="bold" >0.8</text>
<text x="380.50" y="165.30" font-size="9.3" text-anchor="start" fill="#e8141c" font-weight="bold" >y = 33.488x + 6.2808</text>
<text x="381.00" y="179.50" font-size="9.3" text-anchor="start" fill="#e8141c" font-weight="bold" >R<tspan font-size="65%" dy="-3">2</tspan><tspan dy="3">​</tspan> = 0.9833</text>
<text x="454.50" y="242.50" font-size="9.8" text-anchor="middle" fill="#000" font-weight="bold" >Lineweaver-Burk Fitting</text>
<text x="443.40" y="274.50" font-size="9.0" text-anchor="middle" fill="#000" font-weight="bold" >1/H<tspan font-size="70%" dy="2">2</tspan><tspan dy="-2">​</tspan>O<tspan font-size="70%" dy="2">2</tspan><tspan dy="-2">​</tspan> concenrtration(mM<tspan font-size="65%" dy="-2.8">−1</tspan><tspan dy="2.8">​</tspan>)</text>
<text x="356.80" y="205.50" font-size="9.1" text-anchor="middle" fill="#000" font-weight="bold" transform="rotate(-90 356.80 205.50)" >1/Velocity(μM<tspan font-size="65%" dy="-2.8">−1</tspan><tspan dy="2.8">​</tspan>S)</text>
<line x1="533.50" y1="155.00" x2="676.50" y2="155.00" stroke="#5a5a5a" stroke-width="1.4" />
<line x1="676.50" y1="155.00" x2="676.50" y2="249.50" stroke="#222" stroke-width="1" />
<rect x="586.60" y="155.50" width="8.30" height="70.80" fill="#c9dbf9" stroke="none" stroke-width="0.8" />
<rect x="602.00" y="155.50" width="8.70" height="70.80" fill="#c9dbf9" stroke="none" stroke-width="0.8" />
<rect x="617.40" y="155.50" width="8.30" height="70.80" fill="#c9dbf9" stroke="none" stroke-width="0.8" />
<path d="M534.00,176.74 C534.08,176.77 534.33,176.91 534.50,176.93 C534.67,176.94 534.83,176.82 535.00,176.82 C535.17,176.83 535.33,176.94 535.50,176.96 C535.67,176.99 535.83,177.03 536.00,176.98 C536.17,176.92 536.33,176.70 536.50,176.64 C536.67,176.58 536.83,176.53 537.00,176.61 C537.17,176.69 537.33,177.08 537.50,177.10 C537.67,177.13 537.83,176.82 538.00,176.76 C538.17,176.70 538.33,176.67 538.50,176.74 C538.67,176.81 538.83,177.17 539.00,177.20 C539.17,177.22 539.33,176.90 539.50,176.88 C539.67,176.87 539.83,177.10 540.00,177.10 C540.17,177.10 540.33,176.91 540.50,176.89 C540.67,176.87 540.83,177.02 541.00,176.98 C541.17,176.95 541.33,176.69 541.50,176.69 C541.67,176.69 541.83,176.91 542.00,176.98 C542.17,177.05 542.33,177.13 542.50,177.12 C542.67,177.11 542.83,176.93 543.00,176.91 C543.17,176.90 543.33,177.03 543.50,177.04 C543.67,177.06 543.83,177.07 544.00,177.00 C544.17,176.94 544.33,176.63 544.50,176.64 C544.67,176.65 544.83,177.00 545.00,177.05 C545.17,177.11 545.33,177.00 545.50,176.95 C545.67,176.91 545.83,176.84 546.00,176.78 C546.17,176.72 546.33,176.56 546.50,176.62 C546.67,176.68 546.83,177.08 547.00,177.12 C547.17,177.16 547.33,176.90 547.50,176.88 C547.67,176.87 547.83,176.99 548.00,177.03 C548.17,177.07 548.33,177.13 548.50,177.13 C548.67,177.13 548.83,177.02 549.00,177.03 C549.17,177.03 549.33,177.18 549.50,177.15 C549.67,177.12 549.83,176.85 550.00,176.84 C550.17,176.82 550.33,177.08 550.50,177.08 C550.67,177.09 550.83,176.85 551.00,176.87 C551.17,176.88 551.33,177.12 551.50,177.16 C551.67,177.20 551.83,177.21 552.00,177.13 C552.17,177.04 552.33,176.73 552.50,176.66 C552.67,176.58 552.83,176.67 553.00,176.68 C553.17,176.69 553.33,176.65 553.50,176.73 C553.67,176.81 553.83,177.16 554.00,177.18 C554.17,177.20 554.33,176.90 554.50,176.86 C554.67,176.83 554.83,176.99 555.00,176.98 C555.17,176.96 555.33,176.79 555.50,176.78 C555.67,176.77 555.83,176.90 556.00,176.90 C556.17,176.91 556.33,176.85 556.50,176.83 C556.67,176.82 556.83,176.79 557.00,176.81 C557.17,176.83 557.33,176.93 557.50,176.95 C557.67,176.97 557.83,176.92 558.00,176.95 C558.17,176.98 558.33,177.13 558.50,177.14 C558.67,177.15 558.83,177.01 559.00,177.01 C559.17,177.01 559.33,177.14 559.50,177.16 C559.67,177.17 559.83,177.11 560.00,177.11 C560.17,177.12 560.33,177.21 560.50,177.19 C560.67,177.18 560.83,177.09 561.00,177.00 C561.17,176.92 561.33,176.68 561.50,176.70 C561.67,176.72 561.83,177.04 562.00,177.12 C562.17,177.20 562.33,177.17 562.50,177.18 C562.67,177.18 562.83,177.18 563.00,177.14 C563.17,177.10 563.33,176.96 563.50,176.94 C563.67,176.92 563.83,177.06 564.00,177.03 C564.17,176.99 564.33,176.71 564.50,176.73 C564.67,176.74 564.83,177.06 565.00,177.10 C565.17,177.14 565.33,177.00 565.50,176.94 C565.67,176.89 565.83,176.82 566.00,176.77 C566.17,176.72 566.33,176.58 566.50,176.64 C566.67,176.69 566.83,177.02 567.00,177.11 C567.17,177.21 567.33,177.27 567.50,177.19 C567.67,177.12 567.83,176.67 568.00,176.65 C568.17,176.63 568.33,177.05 568.50,177.08 C568.67,177.11 568.83,176.91 569.00,176.85 C569.17,176.78 569.33,176.70 569.50,176.69 C569.67,176.68 569.83,176.71 570.00,176.78 C570.17,176.84 570.33,177.00 570.50,177.06 C570.67,177.12 570.83,177.20 571.00,177.12 C571.17,177.05 571.33,176.65 571.50,176.63 C571.67,176.60 571.83,176.97 572.00,176.97 C572.17,176.97 572.33,176.62 572.50,176.63 C572.67,176.64 572.83,177.00 573.00,177.03 C573.17,177.06 573.33,176.78 573.50,176.80 C573.67,176.81 573.83,177.06 574.00,177.13 C574.17,177.19 574.33,177.23 574.50,177.19 C574.67,177.15 574.83,176.90 575.00,176.90 C575.17,176.91 575.33,177.22 575.50,177.20 C575.67,177.18 575.83,176.88 576.00,176.79 C576.17,176.69 576.33,176.62 576.50,176.65 C576.67,176.68 576.83,176.96 577.00,176.96 C577.17,176.96 577.33,176.66 577.50,176.62 C577.67,176.58 577.83,176.68 578.00,176.72 C578.17,176.76 578.33,176.80 578.50,176.84 C578.67,176.89 578.83,176.99 579.00,176.97 C579.17,176.94 579.33,176.75 579.50,176.69 C579.67,176.64 579.83,176.55 580.00,176.63 C580.17,176.70 580.33,177.09 580.50,177.12 C580.67,177.15 580.83,176.78 581.00,176.79 C581.17,176.80 581.33,177.12 581.50,177.18 C581.67,177.23 581.83,177.20 582.00,177.14 C582.17,177.08 582.33,176.87 582.50,176.83 C582.67,176.78 582.83,176.86 583.00,176.88 C583.17,176.89 583.33,176.89 583.50,176.91 C583.67,176.93 583.83,176.98 584.00,176.99 C584.17,176.99 584.33,176.97 584.50,176.96 C584.67,176.95 584.83,176.93 585.00,176.94 C585.17,176.94 585.33,176.93 585.50,176.97 C585.67,177.01 585.83,177.18 586.00,177.16 C586.17,177.15 586.33,176.96 586.50,176.90 C586.67,176.85 586.83,176.84 587.00,176.86 C587.17,176.88 587.33,177.05 587.50,177.03 C587.67,177.01 587.83,176.78 588.00,176.74 C588.17,176.70 588.33,176.71 588.50,176.78 C588.67,176.85 588.83,177.16 589.00,177.19 C589.17,177.21 589.33,176.96 589.50,176.91 C589.67,176.87 589.83,176.99 590.00,176.92 C590.17,176.86 590.33,176.64 590.50,176.55 C590.67,176.45 590.83,176.71 591.00,176.37 C591.17,176.02 591.33,175.74 591.50,174.46 C591.67,173.18 591.83,170.75 592.00,168.69 C592.17,166.64 592.33,163.05 592.50,162.13 C592.67,161.22 592.83,160.77 593.00,163.19 C593.17,165.61 593.33,172.40 593.50,176.64 C593.67,180.87 593.83,186.48 594.00,188.61 C594.17,190.74 594.33,190.22 594.50,189.40 C594.67,188.58 594.83,185.44 595.00,183.69 C595.17,181.94 595.33,179.95 595.50,178.91 C595.67,177.87 595.83,177.74 596.00,177.43 C596.17,177.13 596.33,177.23 596.50,177.09 C596.67,176.96 596.83,176.69 597.00,176.62 C597.17,176.54 597.33,176.57 597.50,176.64 C597.67,176.70 597.83,176.92 598.00,177.01 C598.17,177.10 598.33,177.22 598.50,177.18 C598.67,177.14 598.83,176.80 599.00,176.75 C599.17,176.70 599.33,176.84 599.50,176.87 C599.67,176.91 599.83,176.97 600.00,176.96 C600.17,176.94 600.33,176.81 600.50,176.79 C600.67,176.77 600.83,176.82 601.00,176.82 C601.17,176.82 601.33,176.79 601.50,176.79 C601.67,176.79 601.83,176.79 602.00,176.82 C602.17,176.85 602.33,176.96 602.50,176.96 C602.67,176.95 602.83,176.80 603.00,176.78 C603.17,176.76 603.33,176.78 603.50,176.83 C603.67,176.87 603.83,177.10 604.00,177.06 C604.17,177.03 604.33,176.64 604.50,176.62 C604.67,176.60 604.83,176.87 605.00,176.94 C605.17,177.01 605.33,177.07 605.50,177.04 C605.67,177.01 605.83,176.85 606.00,176.75 C606.17,176.66 606.33,176.66 606.50,176.45 C606.67,176.25 606.83,176.38 607.00,175.51 C607.17,174.64 607.33,172.95 607.50,171.23 C607.67,169.50 607.83,166.32 608.00,165.14 C608.17,163.95 608.33,162.61 608.50,164.11 C608.67,165.62 608.83,170.11 609.00,174.18 C609.17,178.25 609.33,185.50 609.50,188.54 C609.67,191.58 609.83,192.81 610.00,192.42 C610.17,192.03 610.33,188.20 610.50,186.20 C610.67,184.19 610.83,181.80 611.00,180.36 C611.17,178.92 611.33,178.09 611.50,177.56 C611.67,177.03 611.83,177.35 612.00,177.21 C612.17,177.07 612.33,176.78 612.50,176.71 C612.67,176.64 612.83,176.76 613.00,176.80 C613.17,176.85 613.33,176.94 613.50,176.99 C613.67,177.04 613.83,177.15 614.00,177.13 C614.17,177.11 614.33,176.94 614.50,176.87 C614.67,176.80 614.83,176.77 615.00,176.74 C615.17,176.70 615.33,176.64 615.50,176.67 C615.67,176.70 615.83,176.91 616.00,176.92 C616.17,176.92 616.33,176.69 616.50,176.71 C616.67,176.74 616.83,177.02 617.00,177.08 C617.17,177.15 617.33,177.17 617.50,177.10 C617.67,177.04 617.83,176.77 618.00,176.71 C618.17,176.65 618.33,176.70 618.50,176.77 C618.67,176.83 618.83,177.05 619.00,177.08 C619.17,177.12 619.33,176.99 619.50,176.99 C619.67,176.99 619.83,177.11 620.00,177.08 C620.17,177.05 620.33,176.88 620.50,176.81 C620.67,176.74 620.83,176.69 621.00,176.68 C621.17,176.66 621.33,176.72 621.50,176.74 C621.67,176.76 621.83,177.06 622.00,176.79 C622.17,176.52 622.33,176.08 622.50,175.13 C622.67,174.18 622.83,172.80 623.00,171.09 C623.17,169.37 623.33,166.09 623.50,164.84 C623.67,163.60 623.83,162.12 624.00,163.63 C624.17,165.14 624.33,169.79 624.50,173.90 C624.67,178.01 624.83,185.39 625.00,188.29 C625.17,191.20 625.33,191.82 625.50,191.34 C625.67,190.86 625.83,187.26 626.00,185.41 C626.17,183.56 626.33,181.49 626.50,180.22 C626.67,178.95 626.83,178.27 627.00,177.78 C627.17,177.29 627.33,177.43 627.50,177.28 C627.67,177.13 627.83,176.89 628.00,176.87 C628.17,176.85 628.33,177.12 628.50,177.17 C628.67,177.22 628.83,177.23 629.00,177.16 C629.17,177.08 629.33,176.75 629.50,176.73 C629.67,176.72 629.83,176.99 630.00,177.05 C630.17,177.11 630.33,177.11 630.50,177.10 C630.67,177.09 630.83,177.03 631.00,177.00 C631.17,176.97 631.33,176.95 631.50,176.91 C631.67,176.87 631.83,176.79 632.00,176.77 C632.17,176.76 632.33,176.81 632.50,176.80 C632.67,176.80 632.83,176.76 633.00,176.74 C633.17,176.71 633.33,176.60 633.50,176.64 C633.67,176.68 633.83,176.93 634.00,176.95 C634.17,176.98 634.33,176.75 634.50,176.77 C634.67,176.79 634.83,177.11 635.00,177.09 C635.17,177.06 635.33,176.62 635.50,176.63 C635.67,176.64 635.83,177.08 636.00,177.14 C636.17,177.21 636.33,177.01 636.50,177.02 C636.67,177.02 636.83,177.13 637.00,177.15 C637.17,177.17 637.33,177.14 637.50,177.14 C637.67,177.14 637.83,177.17 638.00,177.14 C638.17,177.11 638.33,177.03 638.50,176.95 C638.67,176.86 638.83,176.59 639.00,176.61 C639.17,176.62 639.33,177.03 639.50,177.05 C639.67,177.06 639.83,176.75 640.00,176.70 C640.17,176.66 640.33,176.73 640.50,176.78 C640.67,176.83 640.83,176.98 641.00,177.00 C641.17,177.02 641.33,176.94 641.50,176.91 C641.67,176.89 641.83,176.81 642.00,176.85 C642.17,176.89 642.33,177.14 642.50,177.16 C642.67,177.18 642.83,177.03 643.00,176.97 C643.17,176.91 643.33,176.84 643.50,176.80 C643.67,176.77 643.83,176.70 644.00,176.75 C644.17,176.80 644.33,177.09 644.50,177.12 C644.67,177.14 644.83,176.89 645.00,176.89 C645.17,176.88 645.33,177.08 645.50,177.07 C645.67,177.06 645.83,176.87 646.00,176.81 C646.17,176.75 646.33,176.70 646.50,176.72 C646.67,176.74 646.83,176.86 647.00,176.92 C647.17,176.98 647.33,177.13 647.50,177.09 C647.67,177.05 647.83,176.71 648.00,176.70 C648.17,176.70 648.33,177.00 648.50,177.08 C648.67,177.15 648.83,177.15 649.00,177.15 C649.17,177.15 649.33,177.09 649.50,177.08 C649.67,177.07 649.83,177.17 650.00,177.09 C650.17,177.01 650.33,176.62 650.50,176.60 C650.67,176.59 650.83,176.89 651.00,176.98 C651.17,177.06 651.33,177.18 651.50,177.12 C651.67,177.06 651.83,176.69 652.00,176.63 C652.17,176.57 652.33,176.74 652.50,176.76 C652.67,176.78 652.83,176.74 653.00,176.76 C653.17,176.79 653.33,176.90 653.50,176.92 C653.67,176.93 653.83,176.86 654.00,176.85 C654.17,176.85 654.33,176.85 654.50,176.88 C654.67,176.92 654.83,177.11 655.00,177.07 C655.17,177.02 655.33,176.67 655.50,176.60 C655.67,176.53 655.83,176.62 656.00,176.63 C656.17,176.65 656.33,176.67 656.50,176.68 C656.67,176.68 656.83,176.68 657.00,176.67 C657.17,176.67 657.33,176.56 657.50,176.64 C657.67,176.73 657.83,177.11 658.00,177.18 C658.17,177.26 658.33,177.20 658.50,177.11 C658.67,177.02 658.83,176.69 659.00,176.65 C659.17,176.62 659.33,176.88 659.50,176.90 C659.67,176.92 659.83,176.81 660.00,176.79 C660.17,176.77 660.33,176.79 660.50,176.79 C660.67,176.79 660.83,176.78 661.00,176.81 C661.17,176.84 661.33,176.96 661.50,176.99 C661.67,177.01 661.83,176.98 662.00,176.95 C662.17,176.92 662.33,176.86 662.50,176.82 C662.67,176.78 662.83,176.72 663.00,176.71 C663.17,176.71 663.33,176.80 663.50,176.80 C663.67,176.79 663.83,176.65 664.00,176.67 C664.17,176.70 664.33,176.87 664.50,176.93 C664.67,176.99 664.83,177.05 665.00,177.03 C665.17,177.01 665.33,176.89 665.50,176.83 C665.67,176.76 665.83,176.67 666.00,176.65 C666.17,176.63 666.33,176.68 666.50,176.71 C666.67,176.74 666.83,176.78 667.00,176.82 C667.17,176.87 667.33,176.92 667.50,176.96 C667.67,177.00 667.83,177.09 668.00,177.07 C668.17,177.05 668.33,176.83 668.50,176.83 C668.67,176.83 668.83,177.06 669.00,177.08 C669.17,177.10 669.33,177.01 669.50,176.97 C669.67,176.94 669.83,176.88 670.00,176.86 C670.17,176.83 670.33,176.82 670.50,176.82 C670.67,176.83 670.83,176.86 671.00,176.90 C671.17,176.93 671.33,177.03 671.50,177.02 C671.67,177.01 671.83,176.85 672.00,176.85 C672.17,176.85 672.33,177.01 672.50,177.02 C672.67,177.02 672.83,176.92 673.00,176.88 C673.17,176.83 673.33,176.74 673.50,176.75 C673.67,176.75 673.83,176.88 674.00,176.92 C674.17,176.97 674.33,177.06 674.50,177.02 C674.67,176.97 674.83,176.67 675.00,176.64 C675.17,176.62 675.33,176.82 675.50,176.85 C675.67,176.89 675.92,176.86 676.00,176.86" fill="none" stroke="#111" stroke-width="1.3" stroke-linejoin="round"/>
<path d="M534.00,201.47 C534.08,201.47 534.33,201.56 534.50,201.51 C534.67,201.45 534.83,201.12 535.00,201.11 C535.17,201.11 535.33,201.43 535.50,201.48 C535.67,201.53 535.83,201.48 536.00,201.40 C536.17,201.33 536.33,201.07 536.50,201.03 C536.67,201.00 536.83,201.19 537.00,201.17 C537.17,201.16 537.33,200.90 537.50,200.94 C537.67,200.98 537.83,201.36 538.00,201.42 C538.17,201.48 538.33,201.30 538.50,201.31 C538.67,201.32 538.83,201.46 539.00,201.47 C539.17,201.49 539.33,201.43 539.50,201.40 C539.67,201.38 539.83,201.32 540.00,201.32 C540.17,201.31 540.33,201.38 540.50,201.36 C540.67,201.35 540.83,201.32 541.00,201.24 C541.17,201.17 541.33,200.92 541.50,200.92 C541.67,200.92 541.83,201.27 542.00,201.26 C542.17,201.25 542.33,200.91 542.50,200.85 C542.67,200.80 542.83,200.86 543.00,200.95 C543.17,201.04 543.33,201.40 543.50,201.39 C543.67,201.38 543.83,200.96 544.00,200.88 C544.17,200.80 544.33,200.91 544.50,200.91 C544.67,200.92 544.83,200.83 545.00,200.92 C545.17,201.01 545.33,201.46 545.50,201.47 C545.67,201.48 545.83,201.08 546.00,200.98 C546.17,200.88 546.33,200.79 546.50,200.87 C546.67,200.94 546.83,201.43 547.00,201.44 C547.17,201.45 547.33,200.93 547.50,200.93 C547.67,200.94 547.83,201.38 548.00,201.44 C548.17,201.51 548.33,201.32 548.50,201.32 C548.67,201.32 548.83,201.40 549.00,201.44 C549.17,201.47 549.33,201.55 549.50,201.52 C549.67,201.49 549.83,201.27 550.00,201.26 C550.17,201.24 550.33,201.47 550.50,201.41 C550.67,201.35 550.83,200.88 551.00,200.88 C551.17,200.87 551.33,201.33 551.50,201.39 C551.67,201.44 551.83,201.21 552.00,201.21 C552.17,201.20 552.33,201.40 552.50,201.35 C552.67,201.30 552.83,200.92 553.00,200.92 C553.17,200.93 553.33,201.28 553.50,201.37 C553.67,201.47 553.83,201.58 554.00,201.50 C554.17,201.42 554.33,200.96 554.50,200.89 C554.67,200.82 554.83,201.02 555.00,201.08 C555.17,201.14 555.33,201.19 555.50,201.24 C555.67,201.30 555.83,201.47 556.00,201.43 C556.17,201.39 556.33,201.10 556.50,201.02 C556.67,200.94 556.83,200.97 557.00,200.98 C557.17,200.98 557.33,200.97 557.50,201.02 C557.67,201.08 557.83,201.22 558.00,201.28 C558.17,201.34 558.33,201.40 558.50,201.38 C558.67,201.35 558.83,201.17 559.00,201.13 C559.17,201.08 559.33,201.11 559.50,201.11 C559.67,201.11 559.83,201.13 560.00,201.13 C560.17,201.13 560.33,201.09 560.50,201.10 C560.67,201.10 560.83,201.17 561.00,201.14 C561.17,201.11 561.33,200.90 561.50,200.91 C561.67,200.92 561.83,201.10 562.00,201.20 C562.17,201.30 562.33,201.54 562.50,201.53 C562.67,201.52 562.83,201.17 563.00,201.14 C563.17,201.11 563.33,201.40 563.50,201.37 C563.67,201.34 563.83,200.97 564.00,200.96 C564.17,200.96 564.33,201.26 564.50,201.33 C564.67,201.40 564.83,201.38 565.00,201.38 C565.17,201.38 565.33,201.35 565.50,201.32 C565.67,201.29 565.83,201.23 566.00,201.21 C566.17,201.19 566.33,201.17 566.50,201.19 C566.67,201.20 566.83,201.25 567.00,201.30 C567.17,201.35 567.33,201.54 567.50,201.48 C567.67,201.42 567.83,201.05 568.00,200.95 C568.17,200.86 568.33,200.85 568.50,200.92 C568.67,200.99 568.83,201.28 569.00,201.37 C569.17,201.47 569.33,201.52 569.50,201.49 C569.67,201.46 569.83,201.27 570.00,201.21 C570.17,201.16 570.33,201.14 570.50,201.16 C570.67,201.18 570.83,201.38 571.00,201.35 C571.17,201.32 571.33,201.03 571.50,200.98 C571.67,200.93 571.83,201.04 572.00,201.04 C572.17,201.04 572.33,200.95 572.50,200.99 C572.67,201.03 572.83,201.25 573.00,201.26 C573.17,201.27 573.33,201.11 573.50,201.07 C573.67,201.03 573.83,200.97 574.00,201.01 C574.17,201.06 574.33,201.25 574.50,201.33 C574.67,201.42 574.83,201.56 575.00,201.52 C575.17,201.47 575.33,201.09 575.50,201.06 C575.67,201.03 575.83,201.33 576.00,201.34 C576.17,201.36 576.33,201.12 576.50,201.14 C576.67,201.16 576.83,201.43 577.00,201.45 C577.17,201.47 577.33,201.33 577.50,201.26 C577.67,201.19 577.83,201.08 578.00,201.04 C578.17,200.99 578.33,201.03 578.50,201.00 C578.67,200.97 578.83,200.84 579.00,200.87 C579.17,200.90 579.33,201.14 579.50,201.19 C579.67,201.23 579.83,201.15 580.00,201.12 C580.17,201.08 580.33,200.97 580.50,200.97 C580.67,200.97 580.83,201.08 581.00,201.10 C581.17,201.12 581.33,201.03 581.50,201.08 C581.67,201.12 581.83,201.41 582.00,201.39 C582.17,201.37 582.33,200.93 582.50,200.95 C582.67,200.98 582.83,201.50 583.00,201.54 C583.17,201.58 583.33,201.23 583.50,201.19 C583.67,201.14 583.83,201.27 584.00,201.27 C584.17,201.27 584.33,201.15 584.50,201.18 C584.67,201.21 584.83,201.39 585.00,201.43 C585.17,201.48 585.33,201.46 585.50,201.43 C585.67,201.39 585.83,201.28 586.00,201.24 C586.17,201.20 586.33,201.17 586.50,201.19 C586.67,201.21 586.83,201.31 587.00,201.35 C587.17,201.40 587.33,201.49 587.50,201.44 C587.67,201.38 587.83,201.14 588.00,201.02 C588.17,200.91 588.33,201.06 588.50,200.76 C588.67,200.46 588.83,200.13 589.00,199.23 C589.17,198.33 589.33,196.61 589.50,195.37 C589.67,194.14 589.83,192.15 590.00,191.80 C590.17,191.44 590.33,191.67 590.50,193.26 C590.67,194.85 590.83,199.06 591.00,201.35 C591.17,203.65 591.33,205.88 591.50,207.04 C591.67,208.20 591.83,208.53 592.00,208.31 C592.17,208.09 592.33,206.66 592.50,205.72 C592.67,204.79 592.83,203.43 593.00,202.71 C593.17,201.99 593.33,201.69 593.50,201.43 C593.67,201.16 593.83,201.18 594.00,201.11 C594.17,201.04 594.33,200.95 594.50,200.99 C594.67,201.03 594.83,201.27 595.00,201.34 C595.17,201.42 595.33,201.43 595.50,201.45 C595.67,201.47 595.83,201.55 596.00,201.48 C596.17,201.41 596.33,201.03 596.50,201.03 C596.67,201.02 596.83,201.45 597.00,201.46 C597.17,201.46 597.33,201.12 597.50,201.07 C597.67,201.02 597.83,201.10 598.00,201.15 C598.17,201.19 598.33,201.40 598.50,201.36 C598.67,201.32 598.83,200.98 599.00,200.91 C599.17,200.84 599.33,200.83 599.50,200.91 C599.67,201.00 599.83,201.41 600.00,201.43 C600.17,201.46 600.33,201.11 600.50,201.05 C600.67,201.00 600.83,201.07 601.00,201.10 C601.17,201.13 601.33,201.22 601.50,201.26 C601.67,201.29 601.83,201.39 602.00,201.32 C602.17,201.25 602.33,200.90 602.50,200.85 C602.67,200.80 602.83,201.04 603.00,201.04 C603.17,201.05 603.33,201.06 603.50,200.90 C603.67,200.73 603.83,200.59 604.00,200.03 C604.17,199.47 604.33,198.45 604.50,197.54 C604.67,196.62 604.83,195.16 605.00,194.57 C605.17,193.98 605.33,193.37 605.50,193.97 C605.67,194.57 605.83,196.09 606.00,198.18 C606.17,200.26 606.33,204.43 606.50,206.49 C606.67,208.54 606.83,210.16 607.00,210.50 C607.17,210.84 607.33,209.48 607.50,208.54 C607.67,207.60 607.83,205.94 608.00,204.85 C608.17,203.77 608.33,202.54 608.50,202.02 C608.67,201.49 608.83,201.78 609.00,201.70 C609.17,201.61 609.33,201.65 609.50,201.52 C609.67,201.39 609.83,200.92 610.00,200.92 C610.17,200.92 610.33,201.48 610.50,201.51 C610.67,201.54 610.83,201.13 611.00,201.11 C611.17,201.09 611.33,201.35 611.50,201.39 C611.67,201.44 611.83,201.44 612.00,201.38 C612.17,201.32 612.33,201.07 612.50,201.06 C612.67,201.05 612.83,201.28 613.00,201.32 C613.17,201.36 613.33,201.29 613.50,201.31 C613.67,201.32 613.83,201.46 614.00,201.41 C614.17,201.37 614.33,201.04 614.50,201.04 C614.67,201.03 614.83,201.30 615.00,201.38 C615.17,201.46 615.33,201.53 615.50,201.52 C615.67,201.51 615.83,201.37 616.00,201.32 C616.17,201.27 616.33,201.29 616.50,201.23 C616.67,201.16 616.83,200.93 617.00,200.93 C617.17,200.92 617.33,201.17 617.50,201.20 C617.67,201.22 617.83,201.07 618.00,201.09 C618.17,201.12 618.33,201.32 618.50,201.33 C618.67,201.33 618.83,201.30 619.00,201.14 C619.17,200.97 619.33,200.86 619.50,200.34 C619.67,199.82 619.83,198.91 620.00,198.03 C620.17,197.15 620.33,195.84 620.50,195.05 C620.67,194.27 620.83,193.06 621.00,193.32 C621.17,193.58 621.33,194.68 621.50,196.60 C621.67,198.51 621.83,202.59 622.00,204.80 C622.17,207.00 622.33,209.21 622.50,209.82 C622.67,210.44 622.83,209.22 623.00,208.48 C623.17,207.75 623.33,206.45 623.50,205.41 C623.67,204.37 623.83,202.93 624.00,202.25 C624.17,201.58 624.33,201.52 624.50,201.37 C624.67,201.23 624.83,201.42 625.00,201.40 C625.17,201.38 625.33,201.30 625.50,201.27 C625.67,201.25 625.83,201.23 626.00,201.24 C626.17,201.24 626.33,201.31 626.50,201.30 C626.67,201.29 626.83,201.21 627.00,201.17 C627.17,201.13 627.33,201.10 627.50,201.07 C627.67,201.04 627.83,201.00 628.00,200.97 C628.17,200.95 628.33,200.84 628.50,200.90 C628.67,200.96 628.83,201.27 629.00,201.35 C629.17,201.43 629.33,201.40 629.50,201.38 C629.67,201.36 629.83,201.23 630.00,201.23 C630.17,201.23 630.33,201.39 630.50,201.37 C630.67,201.35 630.83,201.16 631.00,201.10 C631.17,201.05 631.33,201.03 631.50,201.04 C631.67,201.04 631.83,201.05 632.00,201.12 C632.17,201.19 632.33,201.50 632.50,201.46 C632.67,201.42 632.83,200.92 633.00,200.88 C633.17,200.84 633.33,201.18 633.50,201.20 C633.67,201.23 633.83,200.99 634.00,201.02 C634.17,201.05 634.33,201.38 634.50,201.39 C634.67,201.40 634.83,201.15 635.00,201.10 C635.17,201.05 635.33,201.08 635.50,201.08 C635.67,201.09 635.83,201.11 636.00,201.13 C636.17,201.16 636.33,201.19 636.50,201.23 C636.67,201.27 636.83,201.41 637.00,201.39 C637.17,201.37 637.33,201.09 637.50,201.10 C637.67,201.11 637.83,201.47 638.00,201.44 C638.17,201.41 638.33,201.00 638.50,200.93 C638.67,200.86 638.83,201.04 639.00,201.04 C639.17,201.04 639.33,200.94 639.50,200.92 C639.67,200.90 639.83,200.85 640.00,200.93 C640.17,201.01 640.33,201.32 640.50,201.40 C640.67,201.47 640.83,201.43 641.00,201.36 C641.17,201.29 641.33,201.04 641.50,200.98 C641.67,200.92 641.83,200.96 642.00,200.98 C642.17,201.01 642.33,201.08 642.50,201.14 C642.67,201.21 642.83,201.32 643.00,201.37 C643.17,201.42 643.33,201.42 643.50,201.42 C643.67,201.42 643.83,201.40 644.00,201.37 C644.17,201.35 644.33,201.33 644.50,201.26 C644.67,201.19 644.83,200.98 645.00,200.95 C645.17,200.93 645.33,201.12 645.50,201.13 C645.67,201.13 645.83,200.97 646.00,200.99 C646.17,201.00 646.33,201.18 646.50,201.22 C646.67,201.26 646.83,201.29 647.00,201.25 C647.17,201.21 647.33,201.03 647.50,200.99 C647.67,200.95 647.83,200.96 648.00,201.03 C648.17,201.09 648.33,201.42 648.50,201.40 C648.67,201.37 648.83,200.87 649.00,200.87 C649.17,200.87 649.33,201.31 649.50,201.41 C649.67,201.51 649.83,201.46 650.00,201.47 C650.17,201.49 650.33,201.57 650.50,201.51 C650.67,201.46 650.83,201.16 651.00,201.12 C651.17,201.07 651.33,201.21 651.50,201.24 C651.67,201.26 651.83,201.25 652.00,201.26 C652.17,201.27 652.33,201.25 652.50,201.29 C652.67,201.34 652.83,201.53 653.00,201.53 C653.17,201.54 653.33,201.41 653.50,201.33 C653.67,201.25 653.83,201.04 654.00,201.06 C654.17,201.08 654.33,201.43 654.50,201.45 C654.67,201.47 654.83,201.22 655.00,201.19 C655.17,201.16 655.33,201.24 655.50,201.27 C655.67,201.30 655.83,201.43 656.00,201.36 C656.17,201.29 656.33,200.85 656.50,200.85 C656.67,200.86 656.83,201.31 657.00,201.39 C657.17,201.47 657.33,201.35 657.50,201.31 C657.67,201.28 657.83,201.21 658.00,201.19 C658.17,201.18 658.33,201.22 658.50,201.22 C658.67,201.21 658.83,201.21 659.00,201.17 C659.17,201.13 659.33,200.98 659.50,200.99 C659.67,200.99 659.83,201.24 660.00,201.22 C660.17,201.20 660.33,200.88 660.50,200.88 C660.67,200.87 660.83,201.13 661.00,201.20 C661.17,201.27 661.33,201.31 661.50,201.30 C661.67,201.30 661.83,201.17 662.00,201.16 C662.17,201.15 662.33,201.19 662.50,201.25 C662.67,201.31 662.83,201.48 663.00,201.52 C663.17,201.56 663.33,201.57 663.50,201.47 C663.67,201.38 663.83,200.96 664.00,200.94 C664.17,200.93 664.33,201.35 664.50,201.40 C664.67,201.46 664.83,201.37 665.00,201.29 C665.17,201.20 665.33,200.92 665.50,200.89 C665.67,200.85 665.83,201.08 666.00,201.10 C666.17,201.12 666.33,201.05 666.50,201.01 C666.67,200.98 666.83,200.87 667.00,200.90 C667.17,200.94 667.33,201.13 667.50,201.23 C667.67,201.33 667.83,201.53 668.00,201.50 C668.17,201.48 668.33,201.08 668.50,201.08 C668.67,201.07 668.83,201.42 669.00,201.46 C669.17,201.50 669.33,201.42 669.50,201.34 C669.67,201.25 669.83,200.92 670.00,200.94 C670.17,200.96 670.33,201.40 670.50,201.45 C670.67,201.51 670.83,201.26 671.00,201.27 C671.17,201.28 671.33,201.49 671.50,201.50 C671.67,201.51 671.83,201.37 672.00,201.35 C672.17,201.33 672.33,201.41 672.50,201.37 C672.67,201.32 672.83,201.08 673.00,201.09 C673.17,201.10 673.33,201.35 673.50,201.41 C673.67,201.48 673.83,201.50 674.00,201.50 C674.17,201.51 674.33,201.51 674.50,201.45 C674.67,201.40 674.83,201.17 675.00,201.16 C675.17,201.14 675.33,201.37 675.50,201.38 C675.67,201.39 675.92,201.22 676.00,201.19" fill="none" stroke="#1e8ca6" stroke-width="1.25" stroke-linejoin="round"/>
<path d="M534.00,222.39 C534.08,222.38 534.33,222.34 534.50,222.33 C534.67,222.33 534.83,222.34 535.00,222.36 C535.17,222.38 535.33,222.45 535.50,222.46 C535.67,222.47 535.83,222.39 536.00,222.43 C536.17,222.47 536.33,222.63 536.50,222.70 C536.67,222.77 536.83,222.85 537.00,222.86 C537.17,222.86 537.33,222.77 537.50,222.73 C537.67,222.69 537.83,222.62 538.00,222.64 C538.17,222.65 538.33,222.84 538.50,222.82 C538.67,222.80 538.83,222.57 539.00,222.54 C539.17,222.52 539.33,222.61 539.50,222.67 C539.67,222.73 539.83,222.91 540.00,222.91 C540.17,222.90 540.33,222.70 540.50,222.62 C540.67,222.54 540.83,222.38 541.00,222.44 C541.17,222.51 541.33,222.95 541.50,223.02 C541.67,223.09 541.83,222.95 542.00,222.88 C542.17,222.80 542.33,222.64 542.50,222.59 C542.67,222.55 542.83,222.58 543.00,222.60 C543.17,222.62 543.33,222.69 543.50,222.72 C543.67,222.75 543.83,222.82 544.00,222.78 C544.17,222.74 544.33,222.56 544.50,222.48 C544.67,222.40 544.83,222.30 545.00,222.30 C545.17,222.30 545.33,222.36 545.50,222.47 C545.67,222.57 545.83,222.94 546.00,222.93 C546.17,222.92 546.33,222.46 546.50,222.41 C546.67,222.37 546.83,222.66 547.00,222.67 C547.17,222.67 547.33,222.49 547.50,222.46 C547.67,222.42 547.83,222.47 548.00,222.47 C548.17,222.46 548.33,222.41 548.50,222.44 C548.67,222.46 548.83,222.62 549.00,222.62 C549.17,222.62 549.33,222.48 549.50,222.43 C549.67,222.38 549.83,222.33 550.00,222.32 C550.17,222.31 550.33,222.37 550.50,222.39 C550.67,222.41 550.83,222.38 551.00,222.43 C551.17,222.49 551.33,222.71 551.50,222.69 C551.67,222.68 551.83,222.41 552.00,222.35 C552.17,222.29 552.33,222.27 552.50,222.32 C552.67,222.37 552.83,222.61 553.00,222.66 C553.17,222.71 553.33,222.59 553.50,222.63 C553.67,222.66 553.83,222.91 554.00,222.86 C554.17,222.82 554.33,222.38 554.50,222.34 C554.67,222.30 554.83,222.58 555.00,222.62 C555.17,222.67 555.33,222.67 555.50,222.62 C555.67,222.57 555.83,222.25 556.00,222.32 C556.17,222.40 556.33,223.05 556.50,223.07 C556.67,223.10 556.83,222.59 557.00,222.48 C557.17,222.36 557.33,222.34 557.50,222.38 C557.67,222.41 557.83,222.67 558.00,222.68 C558.17,222.69 558.33,222.41 558.50,222.43 C558.67,222.45 558.83,222.77 559.00,222.80 C559.17,222.82 559.33,222.64 559.50,222.58 C559.67,222.51 559.83,222.44 560.00,222.40 C560.17,222.36 560.33,222.26 560.50,222.34 C560.67,222.42 560.83,222.85 561.00,222.88 C561.17,222.91 561.33,222.51 561.50,222.52 C561.67,222.53 561.83,222.90 562.00,222.93 C562.17,222.96 562.33,222.65 562.50,222.67 C562.67,222.69 562.83,223.07 563.00,223.05 C563.17,223.02 563.33,222.63 563.50,222.54 C563.67,222.45 563.83,222.50 564.00,222.50 C564.17,222.50 564.33,222.44 564.50,222.51 C564.67,222.59 564.83,222.90 565.00,222.95 C565.17,223.00 565.33,222.87 565.50,222.80 C565.67,222.74 565.83,222.65 566.00,222.58 C566.17,222.50 566.33,222.33 566.50,222.37 C566.67,222.42 566.83,222.73 567.00,222.85 C567.17,222.96 567.33,223.09 567.50,223.08 C567.67,223.06 567.83,222.90 568.00,222.77 C568.17,222.65 568.33,222.38 568.50,222.30 C568.67,222.23 568.83,222.31 569.00,222.32 C569.17,222.34 569.33,222.35 569.50,222.37 C569.67,222.39 569.83,222.44 570.00,222.44 C570.17,222.43 570.33,222.34 570.50,222.33 C570.67,222.31 570.83,222.26 571.00,222.34 C571.17,222.43 571.33,222.71 571.50,222.82 C571.67,222.94 571.83,223.08 572.00,223.02 C572.17,222.96 572.33,222.45 572.50,222.46 C572.67,222.47 572.83,223.04 573.00,223.08 C573.17,223.12 573.33,222.70 573.50,222.68 C573.67,222.66 573.83,222.88 574.00,222.94 C574.17,223.00 574.33,223.02 574.50,223.03 C574.67,223.05 574.83,223.17 575.00,223.05 C575.17,222.93 575.33,222.41 575.50,222.33 C575.67,222.24 575.83,222.47 576.00,222.54 C576.17,222.62 576.33,222.70 576.50,222.79 C576.67,222.87 576.83,223.13 577.00,223.06 C577.17,222.99 577.33,222.46 577.50,222.37 C577.67,222.28 577.83,222.43 578.00,222.53 C578.17,222.64 578.33,223.00 578.50,222.98 C578.67,222.96 578.83,222.45 579.00,222.39 C579.17,222.33 579.33,222.58 579.50,222.61 C579.67,222.64 579.83,222.53 580.00,222.57 C580.17,222.61 580.33,222.76 580.50,222.84 C580.67,222.92 580.83,223.11 581.00,223.04 C581.17,222.98 581.33,222.46 581.50,222.44 C581.67,222.41 581.83,222.82 582.00,222.89 C582.17,222.97 582.33,222.87 582.50,222.89 C582.67,222.90 582.83,222.99 583.00,222.97 C583.17,222.94 583.33,222.73 583.50,222.74 C583.67,222.75 583.83,223.06 584.00,223.04 C584.17,223.01 584.33,222.66 584.50,222.59 C584.67,222.52 584.83,222.65 585.00,222.63 C585.17,222.61 585.33,222.43 585.50,222.48 C585.67,222.53 585.83,222.89 586.00,222.92 C586.17,222.96 586.33,222.75 586.50,222.68 C586.67,222.62 586.83,222.56 587.00,222.52 C587.17,222.47 587.33,222.38 587.50,222.43 C587.67,222.49 587.83,222.82 588.00,222.86 C588.17,222.90 588.33,222.75 588.50,222.69 C588.67,222.63 588.83,222.67 589.00,222.51 C589.17,222.34 589.33,221.91 589.50,221.69 C589.67,221.48 589.83,221.32 590.00,221.23 C590.17,221.15 590.33,220.93 590.50,221.20 C590.67,221.47 590.83,222.44 591.00,222.87 C591.17,223.30 591.33,223.53 591.50,223.79 C591.67,224.05 591.83,224.38 592.00,224.42 C592.17,224.46 592.33,224.20 592.50,224.01 C592.67,223.82 592.83,223.53 593.00,223.28 C593.17,223.02 593.33,222.62 593.50,222.49 C593.67,222.36 593.83,222.43 594.00,222.51 C594.17,222.59 594.33,222.93 594.50,222.98 C594.67,223.03 594.83,222.81 595.00,222.81 C595.17,222.82 595.33,222.97 595.50,223.00 C595.67,223.03 595.83,223.05 596.00,223.00 C596.17,222.94 596.33,222.66 596.50,222.66 C596.67,222.66 596.83,222.98 597.00,223.02 C597.17,223.06 597.33,222.96 597.50,222.89 C597.67,222.81 597.83,222.62 598.00,222.57 C598.17,222.52 598.33,222.63 598.50,222.60 C598.67,222.56 598.83,222.35 599.00,222.36 C599.17,222.36 599.33,222.50 599.50,222.62 C599.67,222.74 599.83,223.10 600.00,223.06 C600.17,223.03 600.33,222.44 600.50,222.38 C600.67,222.33 600.83,222.75 601.00,222.76 C601.17,222.76 601.33,222.45 601.50,222.39 C601.67,222.32 601.83,222.29 602.00,222.36 C602.17,222.44 602.33,222.80 602.50,222.82 C602.67,222.84 602.83,222.57 603.00,222.49 C603.17,222.41 603.33,222.35 603.50,222.33 C603.67,222.30 603.83,222.31 604.00,222.35 C604.17,222.38 604.33,222.58 604.50,222.53 C604.67,222.47 604.83,222.27 605.00,222.04 C605.17,221.81 605.33,221.23 605.50,221.15 C605.67,221.06 605.83,221.18 606.00,221.50 C606.17,221.83 606.33,222.67 606.50,223.07 C606.67,223.48 606.83,223.71 607.00,223.95 C607.17,224.18 607.33,224.53 607.50,224.50 C607.67,224.46 607.83,223.92 608.00,223.74 C608.17,223.55 608.33,223.50 608.50,223.36 C608.67,223.22 608.83,222.97 609.00,222.90 C609.17,222.83 609.33,222.98 609.50,222.95 C609.67,222.92 609.83,222.81 610.00,222.73 C610.17,222.65 610.33,222.50 610.50,222.45 C610.67,222.40 610.83,222.46 611.00,222.44 C611.17,222.43 611.33,222.28 611.50,222.36 C611.67,222.45 611.83,222.96 612.00,222.96 C612.17,222.96 612.33,222.50 612.50,222.39 C612.67,222.28 612.83,222.21 613.00,222.32 C613.17,222.43 613.33,223.05 613.50,223.07 C613.67,223.10 613.83,222.47 614.00,222.46 C614.17,222.45 614.33,223.03 614.50,223.01 C614.67,223.00 614.83,222.43 615.00,222.37 C615.17,222.31 615.33,222.65 615.50,222.67 C615.67,222.69 615.83,222.43 616.00,222.48 C616.17,222.53 616.33,222.91 616.50,222.96 C616.67,223.02 616.83,222.82 617.00,222.79 C617.17,222.77 617.33,222.79 617.50,222.81 C617.67,222.83 617.83,222.88 618.00,222.91 C618.17,222.94 618.33,223.05 618.50,223.00 C618.67,222.94 618.83,222.61 619.00,222.56 C619.17,222.52 619.33,222.74 619.50,222.71 C619.67,222.67 619.83,222.54 620.00,222.37 C620.17,222.19 620.33,221.75 620.50,221.66 C620.67,221.56 620.83,221.78 621.00,221.80 C621.17,221.83 621.33,221.60 621.50,221.80 C621.67,221.99 621.83,222.60 622.00,222.95 C622.17,223.31 622.33,223.68 622.50,223.93 C622.67,224.19 622.83,224.50 623.00,224.48 C623.17,224.45 623.33,223.96 623.50,223.77 C623.67,223.58 623.83,223.53 624.00,223.32 C624.17,223.10 624.33,222.60 624.50,222.48 C624.67,222.36 624.83,222.56 625.00,222.60 C625.17,222.63 625.33,222.73 625.50,222.69 C625.67,222.65 625.83,222.35 626.00,222.36 C626.17,222.37 626.33,222.65 626.50,222.74 C626.67,222.83 626.83,222.91 627.00,222.89 C627.17,222.87 627.33,222.65 627.50,222.64 C627.67,222.63 627.83,222.79 628.00,222.82 C628.17,222.84 628.33,222.84 628.50,222.78 C628.67,222.73 628.83,222.51 629.00,222.47 C629.17,222.44 629.33,222.48 629.50,222.58 C629.67,222.68 629.83,223.10 630.00,223.10 C630.17,223.09 630.33,222.64 630.50,222.57 C630.67,222.49 630.83,222.68 631.00,222.64 C631.17,222.61 631.33,222.40 631.50,222.37 C631.67,222.34 631.83,222.46 632.00,222.47 C632.17,222.49 632.33,222.34 632.50,222.43 C632.67,222.53 632.83,222.97 633.00,223.04 C633.17,223.12 633.33,222.89 633.50,222.88 C633.67,222.87 633.83,222.97 634.00,223.00 C634.17,223.03 634.33,223.12 634.50,223.09 C634.67,223.05 634.83,222.80 635.00,222.79 C635.17,222.78 635.33,223.06 635.50,223.05 C635.67,223.03 635.83,222.80 636.00,222.73 C636.17,222.66 636.33,222.58 636.50,222.63 C636.67,222.69 636.83,222.99 637.00,223.06 C637.17,223.12 637.33,223.02 637.50,223.02 C637.67,223.02 637.83,223.12 638.00,223.06 C638.17,223.00 638.33,222.71 638.50,222.69 C638.67,222.66 638.83,222.93 639.00,222.92 C639.17,222.91 639.33,222.60 639.50,222.63 C639.67,222.66 639.83,223.03 640.00,223.10 C640.17,223.17 640.33,223.13 640.50,223.04 C640.67,222.94 640.83,222.53 641.00,222.53 C641.17,222.54 641.33,223.06 641.50,223.05 C641.67,223.03 641.83,222.56 642.00,222.45 C642.17,222.34 642.33,222.30 642.50,222.38 C642.67,222.45 642.83,222.85 643.00,222.88 C643.17,222.90 643.33,222.56 643.50,222.54 C643.67,222.51 643.83,222.67 644.00,222.72 C644.17,222.76 644.33,222.88 644.50,222.81 C644.67,222.75 644.83,222.32 645.00,222.33 C645.17,222.35 645.33,222.86 645.50,222.90 C645.67,222.93 645.83,222.56 646.00,222.52 C646.17,222.48 646.33,222.64 646.50,222.65 C646.67,222.66 646.83,222.53 647.00,222.58 C647.17,222.62 647.33,222.84 647.50,222.89 C647.67,222.95 647.83,222.96 648.00,222.90 C648.17,222.84 648.33,222.62 648.50,222.53 C648.67,222.44 648.83,222.38 649.00,222.38 C649.17,222.38 649.33,222.50 649.50,222.54 C649.67,222.58 649.83,222.66 650.00,222.63 C650.17,222.60 650.33,222.40 650.50,222.36 C650.67,222.33 650.83,222.33 651.00,222.42 C651.17,222.51 651.33,222.84 651.50,222.91 C651.67,222.98 651.83,222.83 652.00,222.86 C652.17,222.89 652.33,223.04 652.50,223.08 C652.67,223.12 652.83,223.10 653.00,223.08 C653.17,223.07 653.33,223.08 653.50,223.00 C653.67,222.92 653.83,222.69 654.00,222.60 C654.17,222.50 654.33,222.44 654.50,222.43 C654.67,222.42 654.83,222.51 655.00,222.55 C655.17,222.59 655.33,222.64 655.50,222.67 C655.67,222.70 655.83,222.71 656.00,222.72 C656.17,222.73 656.33,222.76 656.50,222.73 C656.67,222.71 656.83,222.55 657.00,222.59 C657.17,222.63 657.33,222.99 657.50,222.98 C657.67,222.97 657.83,222.58 658.00,222.53 C658.17,222.48 658.33,222.59 658.50,222.67 C658.67,222.75 658.83,222.96 659.00,223.01 C659.17,223.06 659.33,223.02 659.50,222.95 C659.67,222.87 659.83,222.61 660.00,222.54 C660.17,222.46 660.33,222.43 660.50,222.49 C660.67,222.56 660.83,222.98 661.00,222.95 C661.17,222.91 661.33,222.40 661.50,222.31 C661.67,222.22 661.83,222.34 662.00,222.41 C662.17,222.47 662.33,222.67 662.50,222.72 C662.67,222.78 662.83,222.78 663.00,222.73 C663.17,222.68 663.33,222.50 663.50,222.43 C663.67,222.37 663.83,222.34 664.00,222.34 C664.17,222.35 664.33,222.37 664.50,222.46 C664.67,222.56 664.83,222.88 665.00,222.92 C665.17,222.95 665.33,222.64 665.50,222.67 C665.67,222.70 665.83,223.04 666.00,223.08 C666.17,223.13 666.33,222.93 666.50,222.93 C666.67,222.93 666.83,223.18 667.00,223.08 C667.17,222.98 667.33,222.43 667.50,222.33 C667.67,222.22 667.83,222.45 668.00,222.45 C668.17,222.45 668.33,222.28 668.50,222.31 C668.67,222.34 668.83,222.60 669.00,222.65 C669.17,222.69 669.33,222.62 669.50,222.57 C669.67,222.52 669.83,222.31 670.00,222.34 C670.17,222.37 670.33,222.73 670.50,222.74 C670.67,222.74 670.83,222.41 671.00,222.38 C671.17,222.34 671.33,222.53 671.50,222.55 C671.67,222.57 671.83,222.43 672.00,222.50 C672.17,222.56 672.33,222.92 672.50,222.94 C672.67,222.96 672.83,222.71 673.00,222.63 C673.17,222.56 673.33,222.56 673.50,222.51 C673.67,222.46 673.83,222.31 674.00,222.34 C674.17,222.36 674.33,222.57 674.50,222.64 C674.67,222.72 674.83,222.77 675.00,222.80 C675.17,222.83 675.33,222.80 675.50,222.84 C675.67,222.88 675.92,223.00 676.00,223.03" fill="none" stroke="#b01e28" stroke-width="1.3" stroke-linejoin="round"/>
<path d="M534.00,239.12 C534.08,239.05 534.33,238.80 534.50,238.72 C534.67,238.64 534.83,238.59 535.00,238.64 C535.17,238.70 535.33,239.00 535.50,239.08 C535.67,239.16 535.83,239.13 536.00,239.10 C536.17,239.07 536.33,238.90 536.50,238.91 C536.67,238.91 536.83,239.13 537.00,239.13 C537.17,239.14 537.33,239.00 537.50,238.94 C537.67,238.87 537.83,238.79 538.00,238.75 C538.17,238.70 538.33,238.70 538.50,238.67 C538.67,238.64 538.83,238.51 539.00,238.56 C539.17,238.62 539.33,238.90 539.50,239.00 C539.67,239.10 539.83,239.15 540.00,239.18 C540.17,239.21 540.33,239.23 540.50,239.18 C540.67,239.13 540.83,238.91 541.00,238.88 C541.17,238.85 541.33,238.96 541.50,239.02 C541.67,239.07 541.83,239.18 542.00,239.20 C542.17,239.22 542.33,239.16 542.50,239.12 C542.67,239.08 542.83,239.02 543.00,238.97 C543.17,238.93 543.33,238.85 543.50,238.84 C543.67,238.83 543.83,238.94 544.00,238.91 C544.17,238.88 544.33,238.71 544.50,238.67 C544.67,238.63 544.83,238.62 545.00,238.68 C545.17,238.74 545.33,238.93 545.50,239.03 C545.67,239.12 545.83,239.26 546.00,239.24 C546.17,239.23 546.33,239.00 546.50,238.93 C546.67,238.86 546.83,238.86 547.00,238.84 C547.17,238.81 547.33,238.79 547.50,238.80 C547.67,238.80 547.83,238.82 548.00,238.87 C548.17,238.92 548.33,239.11 548.50,239.11 C548.67,239.11 548.83,238.85 549.00,238.87 C549.17,238.88 549.33,239.26 549.50,239.22 C549.67,239.19 549.83,238.73 550.00,238.66 C550.17,238.58 550.33,238.73 550.50,238.77 C550.67,238.81 550.83,238.90 551.00,238.92 C551.17,238.93 551.33,238.80 551.50,238.84 C551.67,238.88 551.83,239.10 552.00,239.15 C552.17,239.19 552.33,239.12 552.50,239.13 C552.67,239.14 552.83,239.23 553.00,239.20 C553.17,239.18 553.33,239.08 553.50,238.98 C553.67,238.87 553.83,238.58 554.00,238.57 C554.17,238.57 554.33,238.89 554.50,238.95 C554.67,239.01 554.83,238.94 555.00,238.93 C555.17,238.92 555.33,238.92 555.50,238.89 C555.67,238.86 555.83,238.72 556.00,238.75 C556.17,238.77 556.33,238.97 556.50,239.05 C556.67,239.12 556.83,239.26 557.00,239.19 C557.17,239.12 557.33,238.65 557.50,238.62 C557.67,238.59 557.83,238.99 558.00,239.02 C558.17,239.05 558.33,238.83 558.50,238.81 C558.67,238.79 558.83,238.85 559.00,238.91 C559.17,238.97 559.33,239.13 559.50,239.18 C559.67,239.23 559.83,239.25 560.00,239.22 C560.17,239.19 560.33,239.09 560.50,239.00 C560.67,238.91 560.83,238.65 561.00,238.69 C561.17,238.72 561.33,239.20 561.50,239.19 C561.67,239.19 561.83,238.74 562.00,238.68 C562.17,238.61 562.33,238.74 562.50,238.82 C562.67,238.89 562.83,239.14 563.00,239.13 C563.17,239.12 563.33,238.84 563.50,238.77 C563.67,238.71 563.83,238.67 564.00,238.74 C564.17,238.81 564.33,239.14 564.50,239.21 C564.67,239.29 564.83,239.28 565.00,239.21 C565.17,239.14 565.33,238.84 565.50,238.77 C565.67,238.71 565.83,238.83 566.00,238.82 C566.17,238.82 566.33,238.78 566.50,238.75 C566.67,238.72 566.83,238.65 567.00,238.64 C567.17,238.64 567.33,238.63 567.50,238.73 C567.67,238.82 567.83,239.26 568.00,239.24 C568.17,239.22 568.33,238.69 568.50,238.61 C568.67,238.52 568.83,238.70 569.00,238.71 C569.17,238.72 569.33,238.71 569.50,238.69 C569.67,238.67 569.83,238.57 570.00,238.61 C570.17,238.64 570.33,238.84 570.50,238.92 C570.67,239.00 570.83,239.03 571.00,239.07 C571.17,239.11 571.33,239.15 571.50,239.14 C571.67,239.12 571.83,238.99 572.00,238.99 C572.17,238.99 572.33,239.20 572.50,239.12 C572.67,239.05 572.83,238.62 573.00,238.55 C573.17,238.49 573.33,238.64 573.50,238.75 C573.67,238.86 573.83,239.25 574.00,239.22 C574.17,239.20 574.33,238.68 574.50,238.60 C574.67,238.52 574.83,238.69 575.00,238.74 C575.17,238.79 575.33,238.89 575.50,238.89 C575.67,238.89 575.83,238.73 576.00,238.74 C576.17,238.74 576.33,238.96 576.50,238.93 C576.67,238.91 576.83,238.62 577.00,238.58 C577.17,238.55 577.33,238.61 577.50,238.72 C577.67,238.82 577.83,239.23 578.00,239.22 C578.17,239.21 578.33,238.66 578.50,238.65 C578.67,238.64 578.83,239.18 579.00,239.18 C579.17,239.19 579.33,238.66 579.50,238.67 C579.67,238.68 579.83,239.19 580.00,239.24 C580.17,239.30 580.33,239.06 580.50,239.02 C580.67,238.98 580.83,239.06 581.00,239.00 C581.17,238.94 581.33,238.72 581.50,238.65 C581.67,238.58 581.83,238.52 582.00,238.59 C582.17,238.66 582.33,239.07 582.50,239.08 C582.67,239.10 582.83,238.74 583.00,238.67 C583.17,238.61 583.33,238.61 583.50,238.68 C583.67,238.76 583.83,239.05 584.00,239.13 C584.17,239.21 584.33,239.25 584.50,239.16 C584.67,239.07 584.83,238.57 585.00,238.58 C585.17,238.59 585.33,239.17 585.50,239.22 C585.67,239.28 585.83,238.99 586.00,238.92 C586.17,238.86 586.33,238.87 586.50,238.82 C586.67,238.77 586.83,238.62 587.00,238.62 C587.17,238.63 587.33,238.72 587.50,238.82 C587.67,238.93 587.83,239.25 588.00,239.24 C588.17,239.23 588.33,238.85 588.50,238.75 C588.67,238.65 588.83,238.66 589.00,238.64 C589.17,238.63 589.33,238.65 589.50,238.65 C589.67,238.65 589.83,238.61 590.00,238.64 C590.17,238.66 590.33,238.70 590.50,238.80 C590.67,238.89 590.83,239.22 591.00,239.19 C591.17,239.16 591.33,238.69 591.50,238.60 C591.67,238.52 591.83,238.58 592.00,238.68 C592.17,238.78 592.33,239.11 592.50,239.21 C592.67,239.30 592.83,239.24 593.00,239.25 C593.17,239.25 593.33,239.32 593.50,239.24 C593.67,239.15 593.83,238.80 594.00,238.72 C594.17,238.65 594.33,238.72 594.50,238.80 C594.67,238.88 594.83,239.20 595.00,239.22 C595.17,239.23 595.33,238.92 595.50,238.89 C595.67,238.86 595.83,239.06 596.00,239.04 C596.17,239.02 596.33,238.85 596.50,238.77 C596.67,238.69 596.83,238.56 597.00,238.56 C597.17,238.57 597.33,238.71 597.50,238.79 C597.67,238.88 597.83,239.02 598.00,239.07 C598.17,239.12 598.33,239.12 598.50,239.10 C598.67,239.08 598.83,238.99 599.00,238.95 C599.17,238.91 599.33,238.88 599.50,238.87 C599.67,238.87 599.83,238.93 600.00,238.93 C600.17,238.92 600.33,238.86 600.50,238.86 C600.67,238.86 600.83,238.88 601.00,238.92 C601.17,238.97 601.33,239.17 601.50,239.13 C601.67,239.09 601.83,238.72 602.00,238.69 C602.17,238.66 602.33,238.88 602.50,238.97 C602.67,239.05 602.83,239.17 603.00,239.20 C603.17,239.23 603.33,239.23 603.50,239.14 C603.67,239.06 603.83,238.66 604.00,238.68 C604.17,238.69 604.33,239.15 604.50,239.22 C604.67,239.30 604.83,239.23 605.00,239.14 C605.17,239.05 605.33,238.73 605.50,238.67 C605.67,238.60 605.83,238.73 606.00,238.74 C606.17,238.74 606.33,238.72 606.50,238.69 C606.67,238.67 606.83,238.50 607.00,238.59 C607.17,238.68 607.33,239.19 607.50,239.23 C607.67,239.28 607.83,238.85 608.00,238.84 C608.17,238.82 608.33,239.20 608.50,239.16 C608.67,239.13 608.83,238.73 609.00,238.63 C609.17,238.53 609.33,238.47 609.50,238.56 C609.67,238.65 609.83,239.07 610.00,239.16 C610.17,239.25 610.33,239.09 610.50,239.11 C610.67,239.12 610.83,239.26 611.00,239.24 C611.17,239.23 611.33,239.08 611.50,239.03 C611.67,238.98 611.83,238.91 612.00,238.92 C612.17,238.93 612.33,239.14 612.50,239.09 C612.67,239.04 612.83,238.64 613.00,238.61 C613.17,238.59 613.33,238.89 613.50,238.93 C613.67,238.97 613.83,238.90 614.00,238.86 C614.17,238.81 614.33,238.63 614.50,238.65 C614.67,238.67 614.83,238.95 615.00,238.97 C615.17,238.99 615.33,238.79 615.50,238.78 C615.67,238.77 615.83,238.90 616.00,238.90 C616.17,238.91 616.33,238.83 616.50,238.81 C616.67,238.79 616.83,238.77 617.00,238.77 C617.17,238.77 617.33,238.77 617.50,238.80 C617.67,238.83 617.83,238.90 618.00,238.97 C618.17,239.04 618.33,239.20 618.50,239.24 C618.67,239.28 618.83,239.22 619.00,239.21 C619.17,239.19 619.33,239.17 619.50,239.15 C619.67,239.14 619.83,239.20 620.00,239.13 C620.17,239.07 620.33,238.73 620.50,238.75 C620.67,238.77 620.83,239.24 621.00,239.23 C621.17,239.23 621.33,238.84 621.50,238.74 C621.67,238.64 621.83,238.61 622.00,238.64 C622.17,238.66 622.33,238.83 622.50,238.90 C622.67,238.97 622.83,239.08 623.00,239.06 C623.17,239.04 623.33,238.80 623.50,238.79 C623.67,238.78 623.83,239.01 624.00,239.00 C624.17,238.99 624.33,238.71 624.50,238.75 C624.67,238.79 624.83,239.21 625.00,239.23 C625.17,239.25 625.33,238.92 625.50,238.87 C625.67,238.81 625.83,238.88 626.00,238.88 C626.17,238.89 626.33,238.88 626.50,238.92 C626.67,238.97 626.83,239.11 627.00,239.16 C627.17,239.22 627.33,239.28 627.50,239.24 C627.67,239.20 627.83,238.98 628.00,238.92 C628.17,238.86 628.33,238.85 628.50,238.86 C628.67,238.87 628.83,239.03 629.00,238.98 C629.17,238.94 629.33,238.62 629.50,238.60 C629.67,238.58 629.83,238.76 630.00,238.85 C630.17,238.94 630.33,239.10 630.50,239.14 C630.67,239.18 630.83,239.19 631.00,239.09 C631.17,239.00 631.33,238.58 631.50,238.59 C631.67,238.60 631.83,239.11 632.00,239.15 C632.17,239.19 632.33,238.80 632.50,238.82 C632.67,238.83 632.83,239.24 633.00,239.24 C633.17,239.23 633.33,238.90 633.50,238.81 C633.67,238.72 633.83,238.68 634.00,238.70 C634.17,238.72 634.33,238.86 634.50,238.93 C634.67,239.01 634.83,239.18 635.00,239.17 C635.17,239.15 635.33,238.85 635.50,238.85 C635.67,238.85 635.83,239.12 636.00,239.16 C636.17,239.19 636.33,239.11 636.50,239.05 C636.67,238.99 636.83,238.85 637.00,238.80 C637.17,238.76 637.33,238.74 637.50,238.76 C637.67,238.78 637.83,238.89 638.00,238.90 C638.17,238.92 638.33,238.84 638.50,238.83 C638.67,238.81 638.83,238.78 639.00,238.81 C639.17,238.84 639.33,238.95 639.50,239.01 C639.67,239.06 639.83,239.17 640.00,239.16 C640.17,239.15 640.33,239.04 640.50,238.96 C640.67,238.87 640.83,238.69 641.00,238.65 C641.17,238.61 641.33,238.68 641.50,238.70 C641.67,238.73 641.83,238.76 642.00,238.81 C642.17,238.86 642.33,239.01 642.50,238.98 C642.67,238.95 642.83,238.71 643.00,238.65 C643.17,238.59 643.33,238.59 643.50,238.61 C643.67,238.63 643.83,238.75 644.00,238.77 C644.17,238.80 644.33,238.78 644.50,238.75 C644.67,238.71 644.83,238.54 645.00,238.57 C645.17,238.60 645.33,238.82 645.50,238.93 C645.67,239.03 645.83,239.20 646.00,239.19 C646.17,239.19 646.33,238.95 646.50,238.92 C646.67,238.90 646.83,239.03 647.00,239.07 C647.17,239.10 647.33,239.12 647.50,239.13 C647.67,239.14 647.83,239.13 648.00,239.14 C648.17,239.15 648.33,239.24 648.50,239.19 C648.67,239.14 648.83,238.89 649.00,238.86 C649.17,238.83 649.33,239.07 649.50,239.03 C649.67,238.99 649.83,238.61 650.00,238.63 C650.17,238.66 650.33,239.14 650.50,239.17 C650.67,239.20 650.83,238.86 651.00,238.81 C651.17,238.77 651.33,238.82 651.50,238.88 C651.67,238.94 651.83,239.20 652.00,239.17 C652.17,239.15 652.33,238.83 652.50,238.75 C652.67,238.67 652.83,238.62 653.00,238.68 C653.17,238.75 653.33,239.08 653.50,239.13 C653.67,239.17 653.83,239.06 654.00,238.97 C654.17,238.88 654.33,238.68 654.50,238.61 C654.67,238.54 654.83,238.54 655.00,238.57 C655.17,238.60 655.33,238.80 655.50,238.80 C655.67,238.79 655.83,238.50 656.00,238.56 C656.17,238.61 656.33,239.11 656.50,239.13 C656.67,239.15 656.83,238.74 657.00,238.68 C657.17,238.61 657.33,238.72 657.50,238.74 C657.67,238.77 657.83,238.79 658.00,238.82 C658.17,238.85 658.33,238.90 658.50,238.91 C658.67,238.91 658.83,238.84 659.00,238.85 C659.17,238.87 659.33,238.96 659.50,238.99 C659.67,239.02 659.83,239.03 660.00,239.01 C660.17,238.99 660.33,238.92 660.50,238.86 C660.67,238.79 660.83,238.55 661.00,238.62 C661.17,238.68 661.33,239.17 661.50,239.24 C661.67,239.30 661.83,239.14 662.00,239.03 C662.17,238.93 662.33,238.64 662.50,238.61 C662.67,238.58 662.83,238.78 663.00,238.86 C663.17,238.94 663.33,239.01 663.50,239.08 C663.67,239.14 663.83,239.32 664.00,239.24 C664.17,239.16 664.33,238.71 664.50,238.60 C664.67,238.48 664.83,238.51 665.00,238.56 C665.17,238.60 665.33,238.84 665.50,238.89 C665.67,238.93 665.83,238.80 666.00,238.85 C666.17,238.89 666.33,239.13 666.50,239.18 C666.67,239.22 666.83,239.19 667.00,239.13 C667.17,239.06 667.33,238.83 667.50,238.78 C667.67,238.73 667.83,238.81 668.00,238.84 C668.17,238.87 668.33,238.90 668.50,238.96 C668.67,239.01 668.83,239.21 669.00,239.17 C669.17,239.12 669.33,238.75 669.50,238.69 C669.67,238.63 669.83,238.84 670.00,238.82 C670.17,238.81 670.33,238.58 670.50,238.61 C670.67,238.64 670.83,239.01 671.00,239.00 C671.17,238.99 671.33,238.53 671.50,238.57 C671.67,238.60 671.83,239.15 672.00,239.20 C672.17,239.26 672.33,238.96 672.50,238.92 C672.67,238.87 672.83,239.00 673.00,238.95 C673.17,238.90 673.33,238.65 673.50,238.61 C673.67,238.57 673.83,238.67 674.00,238.71 C674.17,238.76 674.33,238.81 674.50,238.88 C674.67,238.95 674.83,239.14 675.00,239.15 C675.17,239.16 675.33,238.99 675.50,238.93 C675.67,238.86 675.92,238.78 676.00,238.75" fill="none" stroke="#8a8a8a" stroke-width="0.9" stroke-linejoin="round"/>
<line x1="533.50" y1="249.50" x2="676.50" y2="249.50" stroke="#000" stroke-width="1.1" />
<line x1="533.50" y1="249.50" x2="533.50" y2="155.00" stroke="#000" stroke-width="1.1" />
<line x1="551.33" y1="249.50" x2="551.33" y2="251.90" stroke="#000" stroke-width="1.05" />
<text x="551.33" y="259.60" font-size="6.9" text-anchor="middle" fill="#000" font-weight="bold" >328</text>
<line x1="586.99" y1="249.50" x2="586.99" y2="251.90" stroke="#000" stroke-width="1.05" />
<text x="586.99" y="259.60" font-size="6.9" text-anchor="middle" fill="#000" font-weight="bold" >330</text>
<line x1="622.65" y1="249.50" x2="622.65" y2="251.90" stroke="#000" stroke-width="1.05" />
<text x="622.65" y="259.60" font-size="6.9" text-anchor="middle" fill="#000" font-weight="bold" >332</text>
<line x1="658.31" y1="249.50" x2="658.31" y2="251.90" stroke="#000" stroke-width="1.05" />
<text x="658.31" y="259.60" font-size="6.9" text-anchor="middle" fill="#000" font-weight="bold" >334</text>
<text x="538.40" y="167.60" font-size="6.9" text-anchor="start" fill="#000" font-weight="bold" >CPCCM+L+H<tspan font-size="70%" dy="1.2">2</tspan><tspan dy="-1.2">​</tspan>O<tspan font-size="70%" dy="1.2">2</tspan><tspan dy="-1.2">​</tspan></text>
<text x="538.40" y="192.40" font-size="6.9" text-anchor="start" fill="#000" font-weight="bold" >CPCCM+L</text>
<text x="538.40" y="214.90" font-size="6.9" text-anchor="start" fill="#000" font-weight="bold" >Ce6+L</text>
<text x="539.30" y="233.60" font-size="6.9" text-anchor="start" fill="#000" font-weight="bold" >Control</text>
<text x="601.50" y="269.40" font-size="10.8" text-anchor="middle" fill="#000" font-weight="bold" >Magnetic field (mT)</text>
<line x1="29.80" y1="293.80" x2="171.80" y2="293.80" stroke="#444" stroke-width="1" />
<line x1="171.80" y1="293.80" x2="171.80" y2="386.40" stroke="#444" stroke-width="1" />
<polyline points="32.80,383.26 43.63,383.47 54.46,383.47 76.13,383.47 119.46,383.39 162.79,383.39" fill="none" stroke="#8c8c8c" stroke-width="1.0" stroke-linejoin="round" />
<polyline points="32.80,383.06 34.97,380.81 37.13,378.73 39.30,376.81 41.47,375.04 43.63,373.41 45.80,371.90 47.97,370.51 50.13,369.22 52.30,368.04 54.46,366.94 56.63,365.93 58.80,365.00 60.96,364.14 63.13,363.34 65.30,362.61 67.46,361.93 69.63,361.31 71.80,360.73 73.96,360.20 76.13,359.70 78.30,359.25 80.46,358.83 82.63,358.44 84.80,358.09 86.96,357.76 89.13,357.45 91.30,357.17 93.46,356.91 95.63,356.67 97.80,356.45 99.96,356.25 102.13,356.06 104.29,355.88 106.46,355.72 108.63,355.58 110.79,355.44 112.96,355.31 115.13,355.20 117.29,355.09 119.46,354.99 121.63,354.90 123.79,354.81 125.96,354.73 128.13,354.66 130.29,354.60 132.46,354.53 134.63,354.48 136.79,354.42 138.96,354.38 141.12,354.33 143.29,354.29 145.46,354.25 147.62,354.22 149.79,354.19 151.96,354.16 154.12,354.13 156.29,354.10 158.46,354.08 160.62,354.06 162.79,354.04" fill="none" stroke="#c8262a" stroke-width="1.0" stroke-linejoin="round" />
<polyline points="32.80,383.06 34.97,379.63 37.13,376.37 39.30,373.27 41.47,370.33 43.63,367.52 45.80,364.86 47.97,362.32 50.13,359.90 52.30,357.61 54.46,355.43 56.63,353.35 58.80,351.37 60.96,349.49 63.13,347.70 65.30,346.00 67.46,344.39 69.63,342.85 71.80,341.38 73.96,339.99 76.13,338.67 78.30,337.41 80.46,336.21 82.63,335.07 84.80,333.98 86.96,332.95 89.13,331.97 91.30,331.04 93.46,330.15 95.63,329.30 97.80,328.50 99.96,327.74 102.13,327.01 104.29,326.32 106.46,325.66 108.63,325.04 110.79,324.44 112.96,323.87 115.13,323.34 117.29,322.82 119.46,322.34 121.63,321.87 123.79,321.43 125.96,321.01 128.13,320.61 130.29,320.23 132.46,319.87 134.63,319.53 136.79,319.20 138.96,318.89 141.12,318.60 143.29,318.32 145.46,318.05 147.62,317.79 149.79,317.55 151.96,317.32 154.12,317.10 156.29,316.89 158.46,316.70 160.62,316.51 162.79,316.33" fill="none" stroke="#111" stroke-width="1.0" stroke-linejoin="round" />
<polyline points="32.80,383.06 34.97,379.39 37.13,376.01 39.30,372.89 41.47,370.01 43.63,367.35 45.80,364.89 47.97,362.62 50.13,360.53 52.30,358.60 54.46,356.82 56.63,355.17 58.80,353.65 60.96,352.25 63.13,350.95 65.30,349.76 67.46,348.65 69.63,347.63 71.80,346.69 73.96,345.83 76.13,345.02 78.30,344.29 80.46,343.60 82.63,342.97 84.80,342.39 86.96,341.85 89.13,341.36 91.30,340.90 93.46,340.48 95.63,340.09 97.80,339.73 99.96,339.39 102.13,339.09 104.29,338.80 106.46,338.54 108.63,338.30 110.79,338.08 112.96,337.87 115.13,337.68 117.29,337.51 119.46,337.35 121.63,337.20 123.79,337.06 125.96,336.93 128.13,336.81 130.29,336.71 132.46,336.61 134.63,336.51 136.79,336.43 138.96,336.35 141.12,336.28 143.29,336.21 145.46,336.15 147.62,336.09 149.79,336.04 151.96,335.99 154.12,335.94 156.29,335.90 158.46,335.86 160.62,335.83 162.79,335.80" fill="none" stroke="#1f8aa5" stroke-width="1.0" stroke-linejoin="round" />
<circle cx="32.80" cy="383.26" r="1.70" fill="#8c8c8c" stroke="none" stroke-width="0.8"/>
<circle cx="43.63" cy="383.47" r="1.70" fill="#8c8c8c" stroke="none" stroke-width="0.8"/>
<circle cx="54.46" cy="383.47" r="1.70" fill="#8c8c8c" stroke="none" stroke-width="0.8"/>
<circle cx="76.13" cy="383.47" r="1.70" fill="#8c8c8c" stroke="none" stroke-width="0.8"/>
<circle cx="119.46" cy="383.39" r="1.70" fill="#8c8c8c" stroke="none" stroke-width="0.8"/>
<circle cx="162.79" cy="383.39" r="1.70" fill="#8c8c8c" stroke="none" stroke-width="0.8"/>
<circle cx="32.80" cy="383.06" r="1.70" fill="#fff" stroke="#c8262a" stroke-width="0.9"/>
<circle cx="43.63" cy="371.77" r="1.70" fill="#fff" stroke="#c8262a" stroke-width="0.9"/>
<circle cx="54.46" cy="367.17" r="1.70" fill="#fff" stroke="#c8262a" stroke-width="0.9"/>
<circle cx="76.13" cy="359.23" r="1.70" fill="#fff" stroke="#c8262a" stroke-width="0.9"/>
<circle cx="119.46" cy="355.89" r="1.70" fill="#fff" stroke="#c8262a" stroke-width="0.9"/>
<circle cx="162.79" cy="354.21" r="1.70" fill="#fff" stroke="#c8262a" stroke-width="0.9"/>
<rect x="31.10" y="381.36" width="3.40" height="3.40" fill="#1f8aa5" stroke="none" stroke-width="0.8" />
<rect x="41.93" y="366.31" width="3.40" height="3.40" fill="#1f8aa5" stroke="none" stroke-width="0.8" />
<rect x="52.76" y="354.60" width="3.40" height="3.40" fill="#1f8aa5" stroke="none" stroke-width="0.8" />
<rect x="74.43" y="344.99" width="3.40" height="3.40" fill="#1f8aa5" stroke="none" stroke-width="0.8" />
<rect x="117.76" y="337.47" width="3.40" height="3.40" fill="#1f8aa5" stroke="none" stroke-width="0.8" />
<rect x="161.09" y="334.12" width="3.40" height="3.40" fill="#1f8aa5" stroke="none" stroke-width="0.8" />
<polygon points="32.80,381.18 34.30,383.06 32.80,384.93 31.30,383.06" fill="#111" />
<polygon points="43.63,364.04 45.13,365.92 43.63,367.79 42.13,365.92" fill="#111" />
<polygon points="54.46,352.34 55.96,354.21 54.46,356.09 52.96,354.21" fill="#111" />
<polygon points="76.13,335.20 77.63,337.08 76.13,338.95 74.63,337.08" fill="#111" />
<polygon points="119.46,321.41 120.96,323.28 119.46,325.16 117.96,323.28" fill="#111" />
<polygon points="162.79,312.21 164.29,314.09 162.79,315.96 161.29,314.09" fill="#111" />
<line x1="32.80" y1="386.40" x2="171.80" y2="386.40" stroke="#000" stroke-width="1.1" />
<line x1="32.80" y1="386.40" x2="32.80" y2="293.80" stroke="#000" stroke-width="1.1" />
<line x1="29.80" y1="386.40" x2="32.80" y2="386.40" stroke="#000" stroke-width="1.05" />
<text x="28.50" y="389.45" font-size="7.2" text-anchor="end" fill="#000" font-weight="bold" >0</text>
<line x1="29.80" y1="365.50" x2="32.80" y2="365.50" stroke="#000" stroke-width="1.05" />
<text x="28.50" y="368.55" font-size="7.2" text-anchor="end" fill="#000" font-weight="bold" >500</text>
<line x1="29.80" y1="344.60" x2="32.80" y2="344.60" stroke="#000" stroke-width="1.05" />
<text x="28.50" y="347.65" font-size="7.2" text-anchor="end" fill="#000" font-weight="bold" >1000</text>
<line x1="29.80" y1="323.70" x2="32.80" y2="323.70" stroke="#000" stroke-width="1.05" />
<text x="28.50" y="326.75" font-size="7.2" text-anchor="end" fill="#000" font-weight="bold" >1500</text>
<line x1="29.80" y1="302.80" x2="32.80" y2="302.80" stroke="#000" stroke-width="1.05" />
<text x="28.50" y="305.85" font-size="7.2" text-anchor="end" fill="#000" font-weight="bold" >2000</text>
<line x1="32.80" y1="386.40" x2="32.80" y2="389.20" stroke="#000" stroke-width="1.05" />
<text x="32.80" y="398.40" font-size="7.4" text-anchor="middle" fill="#000" font-weight="bold" >0</text>
<line x1="76.13" y1="386.40" x2="76.13" y2="389.20" stroke="#000" stroke-width="1.05" />
<text x="76.13" y="398.40" font-size="7.4" text-anchor="middle" fill="#000" font-weight="bold" >10</text>
<line x1="119.46" y1="386.40" x2="119.46" y2="389.20" stroke="#000" stroke-width="1.05" />
<text x="119.46" y="398.40" font-size="7.4" text-anchor="middle" fill="#000" font-weight="bold" >20</text>
<line x1="162.79" y1="386.40" x2="162.79" y2="389.20" stroke="#000" stroke-width="1.05" />
<text x="162.79" y="398.40" font-size="7.4" text-anchor="middle" fill="#000" font-weight="bold" >30</text>
<line x1="41.47" y1="386.40" x2="41.47" y2="388.00" stroke="#000" stroke-width="0.8" />
<line x1="50.13" y1="386.40" x2="50.13" y2="388.00" stroke="#000" stroke-width="0.8" />
<line x1="58.80" y1="386.40" x2="58.80" y2="388.00" stroke="#000" stroke-width="0.8" />
<line x1="67.46" y1="386.40" x2="67.46" y2="388.00" stroke="#000" stroke-width="0.8" />
<line x1="84.80" y1="386.40" x2="84.80" y2="388.00" stroke="#000" stroke-width="0.8" />
<line x1="93.46" y1="386.40" x2="93.46" y2="388.00" stroke="#000" stroke-width="0.8" />
<line x1="102.13" y1="386.40" x2="102.13" y2="388.00" stroke="#000" stroke-width="0.8" />
<line x1="110.79" y1="386.40" x2="110.79" y2="388.00" stroke="#000" stroke-width="0.8" />
<line x1="128.13" y1="386.40" x2="128.13" y2="388.00" stroke="#000" stroke-width="0.8" />
<line x1="136.79" y1="386.40" x2="136.79" y2="388.00" stroke="#000" stroke-width="0.8" />
<line x1="145.46" y1="386.40" x2="145.46" y2="388.00" stroke="#000" stroke-width="0.8" />
<line x1="154.12" y1="386.40" x2="154.12" y2="388.00" stroke="#000" stroke-width="0.8" />
<line x1="38.90" y1="302.60" x2="49.00" y2="302.60" stroke="#8c8c8c" stroke-width="1" />
<circle cx="44.00" cy="302.60" r="1.70" fill="#8c8c8c" stroke="none" stroke-width="0.8"/>
<text x="54.80" y="305.00" font-size="6.6" text-anchor="start" fill="#000" font-weight="bold" >Control</text>
<line x1="38.90" y1="312.60" x2="49.00" y2="312.60" stroke="#c8262a" stroke-width="1" />
<circle cx="44.00" cy="312.60" r="2.00" fill="none" stroke="#c8262a" stroke-width="1.0"/>
<text x="54.80" y="315.00" font-size="6.6" text-anchor="start" fill="#000" font-weight="bold" >Ce6+L</text>
<line x1="82.70" y1="302.60" x2="92.80" y2="302.60" stroke="#111" stroke-width="1" />
<polygon points="87.70,300.73 89.20,302.60 87.70,304.48 86.20,302.60" fill="#111" />
<text x="98.50" y="305.00" font-size="6.6" text-anchor="start" fill="#000" font-weight="bold" >CPCCM+L+H<tspan font-size="70%" dy="1">2</tspan><tspan dy="-1">​</tspan>O<tspan font-size="70%" dy="1">2</tspan><tspan dy="-1">​</tspan></text>
<line x1="82.70" y1="312.60" x2="92.80" y2="312.60" stroke="#1f8aa5" stroke-width="1" />
<rect x="86.00" y="310.90" width="3.40" height="3.40" fill="#1f8aa5" stroke="none" stroke-width="0.8" />
<text x="98.50" y="315.00" font-size="6.6" text-anchor="start" fill="#000" font-weight="bold" >CPCC+L</text>
<text x="102.70" y="410.50" font-size="10.4" text-anchor="middle" fill="#000" font-weight="bold" >Time(min)</text>
<text x="9.00" y="341.20" font-size="10.2" text-anchor="middle" fill="#000" font-weight="bold" transform="rotate(-90 9.00 341.20)" >Fluorescent Intensity</text>
<line x1="201.20" y1="295.40" x2="338.30" y2="295.40" stroke="#444" stroke-width="1" />
<line x1="338.30" y1="295.40" x2="338.30" y2="386.50" stroke="#444" stroke-width="1" />
<polyline points="201.20,386.50 203.48,379.21 205.77,372.83 208.05,365.55 214.91,360.45 221.76,357.35 228.62,353.16 242.33,349.33 269.75,349.51 310.88,346.42 338.30,345.87" fill="none" stroke="#333" stroke-width="1.1" stroke-linejoin="round" />
<line x1="203.48" y1="377.03" x2="203.48" y2="381.40" stroke="#777" stroke-width="0.8" />
<line x1="201.48" y1="377.03" x2="205.48" y2="377.03" stroke="#777" stroke-width="0.8" />
<line x1="201.48" y1="381.40" x2="205.48" y2="381.40" stroke="#777" stroke-width="0.8" />
<line x1="205.77" y1="369.56" x2="205.77" y2="376.11" stroke="#777" stroke-width="0.8" />
<line x1="203.77" y1="369.56" x2="207.77" y2="369.56" stroke="#777" stroke-width="0.8" />
<line x1="203.77" y1="376.11" x2="207.77" y2="376.11" stroke="#777" stroke-width="0.8" />
<line x1="208.05" y1="360.99" x2="208.05" y2="370.10" stroke="#777" stroke-width="0.8" />
<line x1="206.05" y1="360.99" x2="210.05" y2="360.99" stroke="#777" stroke-width="0.8" />
<line x1="206.05" y1="370.10" x2="210.05" y2="370.10" stroke="#777" stroke-width="0.8" />
<line x1="214.91" y1="357.17" x2="214.91" y2="363.73" stroke="#777" stroke-width="0.8" />
<line x1="212.91" y1="357.17" x2="216.91" y2="357.17" stroke="#777" stroke-width="0.8" />
<line x1="212.91" y1="363.73" x2="216.91" y2="363.73" stroke="#777" stroke-width="0.8" />
<line x1="221.76" y1="354.43" x2="221.76" y2="360.26" stroke="#777" stroke-width="0.8" />
<line x1="219.76" y1="354.43" x2="223.76" y2="354.43" stroke="#777" stroke-width="0.8" />
<line x1="219.76" y1="360.26" x2="223.76" y2="360.26" stroke="#777" stroke-width="0.8" />
<line x1="228.62" y1="347.69" x2="228.62" y2="358.62" stroke="#777" stroke-width="0.8" />
<line x1="226.62" y1="347.69" x2="230.62" y2="347.69" stroke="#777" stroke-width="0.8" />
<line x1="226.62" y1="358.62" x2="230.62" y2="358.62" stroke="#777" stroke-width="0.8" />
<line x1="242.33" y1="343.50" x2="242.33" y2="355.16" stroke="#777" stroke-width="0.8" />
<line x1="240.33" y1="343.50" x2="244.33" y2="343.50" stroke="#777" stroke-width="0.8" />
<line x1="240.33" y1="355.16" x2="244.33" y2="355.16" stroke="#777" stroke-width="0.8" />
<line x1="269.75" y1="345.32" x2="269.75" y2="353.70" stroke="#777" stroke-width="0.8" />
<line x1="267.75" y1="345.32" x2="271.75" y2="345.32" stroke="#777" stroke-width="0.8" />
<line x1="267.75" y1="353.70" x2="271.75" y2="353.70" stroke="#777" stroke-width="0.8" />
<line x1="310.88" y1="342.04" x2="310.88" y2="350.79" stroke="#777" stroke-width="0.8" />
<line x1="308.88" y1="342.04" x2="312.88" y2="342.04" stroke="#777" stroke-width="0.8" />
<line x1="308.88" y1="350.79" x2="312.88" y2="350.79" stroke="#777" stroke-width="0.8" />
<line x1="338.30" y1="341.86" x2="338.30" y2="349.88" stroke="#777" stroke-width="0.8" />
<line x1="336.30" y1="341.86" x2="340.30" y2="341.86" stroke="#777" stroke-width="0.8" />
<line x1="336.30" y1="349.88" x2="340.30" y2="349.88" stroke="#777" stroke-width="0.8" />
<circle cx="201.20" cy="386.50" r="2.40" fill="#333" stroke="none" stroke-width="0.8"/>
<circle cx="203.48" cy="379.21" r="2.40" fill="#333" stroke="none" stroke-width="0.8"/>
<circle cx="205.77" cy="372.83" r="2.40" fill="#333" stroke="none" stroke-width="0.8"/>
<circle cx="208.05" cy="365.55" r="2.40" fill="#333" stroke="none" stroke-width="0.8"/>
<circle cx="214.91" cy="360.45" r="2.40" fill="#333" stroke="none" stroke-width="0.8"/>
<circle cx="221.76" cy="357.35" r="2.40" fill="#333" stroke="none" stroke-width="0.8"/>
<circle cx="228.62" cy="353.16" r="2.40" fill="#333" stroke="none" stroke-width="0.8"/>
<circle cx="242.33" cy="349.33" r="2.40" fill="#333" stroke="none" stroke-width="0.8"/>
<circle cx="269.75" cy="349.51" r="2.40" fill="#333" stroke="none" stroke-width="0.8"/>
<circle cx="310.88" cy="346.42" r="2.40" fill="#333" stroke="none" stroke-width="0.8"/>
<circle cx="338.30" cy="345.87" r="2.40" fill="#333" stroke="none" stroke-width="0.8"/>
<polyline points="201.20,386.50 203.48,377.39 205.77,364.64 208.05,353.70 214.91,342.77 221.76,337.31 228.62,330.02 242.33,323.64 269.75,319.09 310.88,317.26 338.30,313.98" fill="none" stroke="#1f8ca6" stroke-width="1.1" stroke-linejoin="round" />
<line x1="203.48" y1="375.20" x2="203.48" y2="379.58" stroke="#1f8ca6" stroke-width="0.8" />
<line x1="201.48" y1="375.20" x2="205.48" y2="375.20" stroke="#1f8ca6" stroke-width="0.8" />
<line x1="201.48" y1="379.58" x2="205.48" y2="379.58" stroke="#1f8ca6" stroke-width="0.8" />
<line x1="205.77" y1="361.90" x2="205.77" y2="367.37" stroke="#1f8ca6" stroke-width="0.8" />
<line x1="203.77" y1="361.90" x2="207.77" y2="361.90" stroke="#1f8ca6" stroke-width="0.8" />
<line x1="203.77" y1="367.37" x2="207.77" y2="367.37" stroke="#1f8ca6" stroke-width="0.8" />
<line x1="208.05" y1="349.70" x2="208.05" y2="357.71" stroke="#1f8ca6" stroke-width="0.8" />
<line x1="206.05" y1="349.70" x2="210.05" y2="349.70" stroke="#1f8ca6" stroke-width="0.8" />
<line x1="206.05" y1="357.71" x2="210.05" y2="357.71" stroke="#1f8ca6" stroke-width="0.8" />
<line x1="214.91" y1="339.49" x2="214.91" y2="346.05" stroke="#1f8ca6" stroke-width="0.8" />
<line x1="212.91" y1="339.49" x2="216.91" y2="339.49" stroke="#1f8ca6" stroke-width="0.8" />
<line x1="212.91" y1="346.05" x2="216.91" y2="346.05" stroke="#1f8ca6" stroke-width="0.8" />
<line x1="221.76" y1="334.03" x2="221.76" y2="340.59" stroke="#1f8ca6" stroke-width="0.8" />
<line x1="219.76" y1="334.03" x2="223.76" y2="334.03" stroke="#1f8ca6" stroke-width="0.8" />
<line x1="219.76" y1="340.59" x2="223.76" y2="340.59" stroke="#1f8ca6" stroke-width="0.8" />
<line x1="228.62" y1="327.28" x2="228.62" y2="332.75" stroke="#1f8ca6" stroke-width="0.8" />
<line x1="226.62" y1="327.28" x2="230.62" y2="327.28" stroke="#1f8ca6" stroke-width="0.8" />
<line x1="226.62" y1="332.75" x2="230.62" y2="332.75" stroke="#1f8ca6" stroke-width="0.8" />
<line x1="242.33" y1="320.36" x2="242.33" y2="326.92" stroke="#1f8ca6" stroke-width="0.8" />
<line x1="240.33" y1="320.36" x2="244.33" y2="320.36" stroke="#1f8ca6" stroke-width="0.8" />
<line x1="240.33" y1="326.92" x2="244.33" y2="326.92" stroke="#1f8ca6" stroke-width="0.8" />
<line x1="269.75" y1="315.08" x2="269.75" y2="323.09" stroke="#1f8ca6" stroke-width="0.8" />
<line x1="267.75" y1="315.08" x2="271.75" y2="315.08" stroke="#1f8ca6" stroke-width="0.8" />
<line x1="267.75" y1="323.09" x2="271.75" y2="323.09" stroke="#1f8ca6" stroke-width="0.8" />
<line x1="310.88" y1="312.71" x2="310.88" y2="321.82" stroke="#1f8ca6" stroke-width="0.8" />
<line x1="308.88" y1="312.71" x2="312.88" y2="312.71" stroke="#1f8ca6" stroke-width="0.8" />
<line x1="308.88" y1="321.82" x2="312.88" y2="321.82" stroke="#1f8ca6" stroke-width="0.8" />
<line x1="338.30" y1="309.43" x2="338.30" y2="318.54" stroke="#1f8ca6" stroke-width="0.8" />
<line x1="336.30" y1="309.43" x2="340.30" y2="309.43" stroke="#1f8ca6" stroke-width="0.8" />
<line x1="336.30" y1="318.54" x2="340.30" y2="318.54" stroke="#1f8ca6" stroke-width="0.8" />
<rect x="198.80" y="384.10" width="4.80" height="4.80" fill="#1f8ca6" stroke="none" stroke-width="0.8" />
<rect x="201.08" y="374.99" width="4.80" height="4.80" fill="#1f8ca6" stroke="none" stroke-width="0.8" />
<rect x="203.37" y="362.24" width="4.80" height="4.80" fill="#1f8ca6" stroke="none" stroke-width="0.8" />
<rect x="205.65" y="351.30" width="4.80" height="4.80" fill="#1f8ca6" stroke="none" stroke-width="0.8" />
<rect x="212.51" y="340.37" width="4.80" height="4.80" fill="#1f8ca6" stroke="none" stroke-width="0.8" />
<rect x="219.36" y="334.91" width="4.80" height="4.80" fill="#1f8ca6" stroke="none" stroke-width="0.8" />
<rect x="226.22" y="327.62" width="4.80" height="4.80" fill="#1f8ca6" stroke="none" stroke-width="0.8" />
<rect x="239.93" y="321.24" width="4.80" height="4.80" fill="#1f8ca6" stroke="none" stroke-width="0.8" />
<rect x="267.35" y="316.69" width="4.80" height="4.80" fill="#1f8ca6" stroke="none" stroke-width="0.8" />
<rect x="308.48" y="314.86" width="4.80" height="4.80" fill="#1f8ca6" stroke="none" stroke-width="0.8" />
<rect x="335.90" y="311.58" width="4.80" height="4.80" fill="#1f8ca6" stroke="none" stroke-width="0.8" />
<line x1="201.20" y1="386.50" x2="338.30" y2="386.50" stroke="#000" stroke-width="1.1" />
<line x1="201.20" y1="386.50" x2="201.20" y2="295.40" stroke="#000" stroke-width="1.1" />
<line x1="198.20" y1="386.50" x2="201.20" y2="386.50" stroke="#000" stroke-width="1.05" />
<text x="197.00" y="389.55" font-size="7.2" text-anchor="end" fill="#000" font-weight="bold" >0</text>
<line x1="198.20" y1="368.28" x2="201.20" y2="368.28" stroke="#000" stroke-width="1.05" />
<text x="197.00" y="371.33" font-size="7.2" text-anchor="end" fill="#000" font-weight="bold" >10</text>
<line x1="198.20" y1="350.06" x2="201.20" y2="350.06" stroke="#000" stroke-width="1.05" />
<text x="197.00" y="353.11" font-size="7.2" text-anchor="end" fill="#000" font-weight="bold" >20</text>
<line x1="198.20" y1="331.84" x2="201.20" y2="331.84" stroke="#000" stroke-width="1.05" />
<text x="197.00" y="334.89" font-size="7.2" text-anchor="end" fill="#000" font-weight="bold" >30</text>
<line x1="198.20" y1="313.62" x2="201.20" y2="313.62" stroke="#000" stroke-width="1.05" />
<text x="197.00" y="316.67" font-size="7.2" text-anchor="end" fill="#000" font-weight="bold" >40</text>
<line x1="198.20" y1="295.40" x2="201.20" y2="295.40" stroke="#000" stroke-width="1.05" />
<text x="197.00" y="298.45" font-size="7.2" text-anchor="end" fill="#000" font-weight="bold" >50</text>
<line x1="201.20" y1="386.50" x2="201.20" y2="389.00" stroke="#000" stroke-width="1.05" />
<text x="201.20" y="398.40" font-size="6.8" text-anchor="middle" fill="#000" font-weight="bold" >0</text>
<line x1="214.91" y1="386.50" x2="214.91" y2="389.00" stroke="#000" stroke-width="1.05" />
<text x="214.91" y="398.40" font-size="6.8" text-anchor="middle" fill="#000" font-weight="bold" >30</text>
<line x1="228.62" y1="386.50" x2="228.62" y2="389.00" stroke="#000" stroke-width="1.05" />
<text x="228.62" y="398.40" font-size="6.8" text-anchor="middle" fill="#000" font-weight="bold" >60</text>
<line x1="242.33" y1="386.50" x2="242.33" y2="389.00" stroke="#000" stroke-width="1.05" />
<text x="242.33" y="398.40" font-size="6.8" text-anchor="middle" fill="#000" font-weight="bold" >90</text>
<line x1="256.04" y1="386.50" x2="256.04" y2="389.00" stroke="#000" stroke-width="1.05" />
<text x="256.04" y="398.40" font-size="6.8" text-anchor="middle" fill="#000" font-weight="bold" >120</text>
<line x1="269.75" y1="386.50" x2="269.75" y2="389.00" stroke="#000" stroke-width="1.05" />
<text x="269.75" y="398.40" font-size="6.8" text-anchor="middle" fill="#000" font-weight="bold" >150</text>
<line x1="283.46" y1="386.50" x2="283.46" y2="389.00" stroke="#000" stroke-width="1.05" />
<text x="283.46" y="398.40" font-size="6.8" text-anchor="middle" fill="#000" font-weight="bold" >180</text>
<line x1="297.17" y1="386.50" x2="297.17" y2="389.00" stroke="#000" stroke-width="1.05" />
<text x="297.17" y="398.40" font-size="6.8" text-anchor="middle" fill="#000" font-weight="bold" >210</text>
<line x1="310.88" y1="386.50" x2="310.88" y2="389.00" stroke="#000" stroke-width="1.05" />
<text x="310.88" y="398.40" font-size="6.8" text-anchor="middle" fill="#000" font-weight="bold" >240</text>
<line x1="324.59" y1="386.50" x2="324.59" y2="389.00" stroke="#000" stroke-width="1.05" />
<text x="324.59" y="398.40" font-size="6.8" text-anchor="middle" fill="#000" font-weight="bold" >270</text>
<line x1="338.30" y1="386.50" x2="338.30" y2="389.00" stroke="#000" stroke-width="1.05" />
<text x="338.30" y="398.40" font-size="6.8" text-anchor="middle" fill="#000" font-weight="bold" >300</text>
<text x="312.60" y="308.80" font-size="7.7" text-anchor="start" fill="#1f8ca6" font-weight="bold" >pH 6.8</text>
<text x="312.60" y="338.80" font-size="7.7" text-anchor="start" fill="#333" font-weight="bold" >pH 7.4</text>
<text x="270.10" y="411.50" font-size="10.3" text-anchor="middle" fill="#000" font-weight="bold" >Time(min)</text>
<text x="185.00" y="341.00" font-size="7.4" text-anchor="middle" fill="#000" font-weight="bold" transform="rotate(-90 185.00 341.00)" >Cumulative CS-1 Release(%)</text>
<line x1="368.60" y1="296.70" x2="503.80" y2="296.70" stroke="#bbb" stroke-width="1" />
<line x1="383.62" y1="296.70" x2="383.62" y2="371.55" stroke="#2a2a2a" stroke-width="1.1" stroke-dasharray="6,2.3"/>
<line x1="413.67" y1="296.70" x2="413.67" y2="361.45" stroke="#2a2a2a" stroke-width="1.1" stroke-dasharray="6,2.3"/>
<line x1="428.69" y1="296.70" x2="428.69" y2="354.72" stroke="#2a2a2a" stroke-width="1.1" stroke-dasharray="6,2.3"/>
<line x1="458.73" y1="296.70" x2="458.73" y2="347.99" stroke="#2a2a2a" stroke-width="1.1" stroke-dasharray="6,2.3"/>
<line x1="473.75" y1="296.70" x2="473.75" y2="341.82" stroke="#2a2a2a" stroke-width="1.1" stroke-dasharray="6,2.3"/>
<line x1="503.80" y1="296.70" x2="503.80" y2="336.77" stroke="#2a2a2a" stroke-width="1.1" stroke-dasharray="6,2.3"/>
<line x1="373.56" y1="296.70" x2="377.16" y2="296.70" stroke="#e8101a" stroke-width="2.2" stroke-linecap="round"/>
<text x="375.36" y="293.20" font-size="7.6" text-anchor="middle" fill="#000" font-weight="bold" >on</text>
<line x1="419.38" y1="296.70" x2="422.98" y2="296.70" stroke="#e8101a" stroke-width="2.2" stroke-linecap="round"/>
<text x="421.18" y="293.20" font-size="7.6" text-anchor="middle" fill="#000" font-weight="bold" >on</text>
<line x1="464.44" y1="296.70" x2="468.04" y2="296.70" stroke="#e8101a" stroke-width="2.2" stroke-linecap="round"/>
<text x="466.24" y="293.20" font-size="7.6" text-anchor="middle" fill="#000" font-weight="bold" >on</text>
<line x1="395.14" y1="296.70" x2="400.34" y2="296.70" stroke="#999" stroke-width="2.8" stroke-linecap="round"/>
<text x="397.74" y="293.20" font-size="7.6" text-anchor="middle" fill="#000" font-weight="bold" >off</text>
<line x1="441.41" y1="296.70" x2="446.61" y2="296.70" stroke="#999" stroke-width="2.8" stroke-linecap="round"/>
<text x="444.01" y="293.20" font-size="7.6" text-anchor="middle" fill="#000" font-weight="bold" >off</text>
<line x1="487.38" y1="296.70" x2="492.58" y2="296.70" stroke="#999" stroke-width="2.8" stroke-linecap="round"/>
<text x="489.98" y="293.20" font-size="7.6" text-anchor="middle" fill="#000" font-weight="bold" >off</text>
<polyline points="368.60,386.70 383.62,371.55 413.67,361.45 428.69,354.72 458.73,347.99 473.75,341.82 503.80,336.77" fill="none" stroke="#333" stroke-width="1.1" stroke-linejoin="round" />
<line x1="383.62" y1="368.75" x2="383.62" y2="374.36" stroke="#333" stroke-width="0.9" />
<line x1="381.62" y1="368.75" x2="385.62" y2="368.75" stroke="#333" stroke-width="0.9" />
<line x1="381.62" y1="374.36" x2="385.62" y2="374.36" stroke="#333" stroke-width="0.9" />
<line x1="413.67" y1="358.65" x2="413.67" y2="364.26" stroke="#333" stroke-width="0.9" />
<line x1="411.67" y1="358.65" x2="415.67" y2="358.65" stroke="#333" stroke-width="0.9" />
<line x1="411.67" y1="364.26" x2="415.67" y2="364.26" stroke="#333" stroke-width="0.9" />
<line x1="428.69" y1="350.80" x2="428.69" y2="358.65" stroke="#333" stroke-width="0.9" />
<line x1="426.69" y1="350.80" x2="430.69" y2="350.80" stroke="#333" stroke-width="0.9" />
<line x1="426.69" y1="358.65" x2="430.69" y2="358.65" stroke="#333" stroke-width="0.9" />
<line x1="458.73" y1="343.50" x2="458.73" y2="352.48" stroke="#333" stroke-width="0.9" />
<line x1="456.73" y1="343.50" x2="460.73" y2="343.50" stroke="#333" stroke-width="0.9" />
<line x1="456.73" y1="352.48" x2="460.73" y2="352.48" stroke="#333" stroke-width="0.9" />
<line x1="473.75" y1="337.33" x2="473.75" y2="346.31" stroke="#333" stroke-width="0.9" />
<line x1="471.75" y1="337.33" x2="475.75" y2="337.33" stroke="#333" stroke-width="0.9" />
<line x1="471.75" y1="346.31" x2="475.75" y2="346.31" stroke="#333" stroke-width="0.9" />
<line x1="503.80" y1="332.84" x2="503.80" y2="340.70" stroke="#333" stroke-width="0.9" />
<line x1="501.80" y1="332.84" x2="505.80" y2="332.84" stroke="#333" stroke-width="0.9" />
<line x1="501.80" y1="340.70" x2="505.80" y2="340.70" stroke="#333" stroke-width="0.9" />
<polygon points="368.60,389.46 371.25,384.86 365.96,384.86" fill="#333" />
<polygon points="383.62,374.31 386.27,369.71 380.98,369.71" fill="#333" />
<polygon points="413.67,364.21 416.31,359.62 411.02,359.62" fill="#333" />
<polygon points="428.69,357.48 431.33,352.88 426.04,352.88" fill="#333" />
<polygon points="458.73,350.75 461.38,346.15 456.09,346.15" fill="#333" />
<polygon points="473.75,344.58 476.40,339.98 471.11,339.98" fill="#333" />
<polygon points="503.80,339.53 506.44,334.93 501.15,334.93" fill="#333" />
<polyline points="368.60,386.70 383.62,352.48 413.67,336.77 428.69,321.06 458.73,313.21 473.75,310.40 503.80,308.72" fill="none" stroke="#1f8ca6" stroke-width="1.1" stroke-linejoin="round" />
<line x1="383.62" y1="349.11" x2="383.62" y2="355.84" stroke="#1f8ca6" stroke-width="0.9" />
<line x1="381.62" y1="349.11" x2="385.62" y2="349.11" stroke="#1f8ca6" stroke-width="0.9" />
<line x1="381.62" y1="355.84" x2="385.62" y2="355.84" stroke="#1f8ca6" stroke-width="0.9" />
<line x1="413.67" y1="332.84" x2="413.67" y2="340.70" stroke="#1f8ca6" stroke-width="0.9" />
<line x1="411.67" y1="332.84" x2="415.67" y2="332.84" stroke="#1f8ca6" stroke-width="0.9" />
<line x1="411.67" y1="340.70" x2="415.67" y2="340.70" stroke="#1f8ca6" stroke-width="0.9" />
<line x1="428.69" y1="317.70" x2="428.69" y2="324.43" stroke="#1f8ca6" stroke-width="0.9" />
<line x1="426.69" y1="317.70" x2="430.69" y2="317.70" stroke="#1f8ca6" stroke-width="0.9" />
<line x1="426.69" y1="324.43" x2="430.69" y2="324.43" stroke="#1f8ca6" stroke-width="0.9" />
<line x1="458.73" y1="309.28" x2="458.73" y2="317.14" stroke="#1f8ca6" stroke-width="0.9" />
<line x1="456.73" y1="309.28" x2="460.73" y2="309.28" stroke="#1f8ca6" stroke-width="0.9" />
<line x1="456.73" y1="317.14" x2="460.73" y2="317.14" stroke="#1f8ca6" stroke-width="0.9" />
<line x1="473.75" y1="305.35" x2="473.75" y2="315.45" stroke="#1f8ca6" stroke-width="0.9" />
<line x1="471.75" y1="305.35" x2="475.75" y2="305.35" stroke="#1f8ca6" stroke-width="0.9" />
<line x1="471.75" y1="315.45" x2="475.75" y2="315.45" stroke="#1f8ca6" stroke-width="0.9" />
<line x1="503.80" y1="305.35" x2="503.80" y2="312.09" stroke="#1f8ca6" stroke-width="0.9" />
<line x1="501.80" y1="305.35" x2="505.80" y2="305.35" stroke="#1f8ca6" stroke-width="0.9" />
<line x1="501.80" y1="312.09" x2="505.80" y2="312.09" stroke="#1f8ca6" stroke-width="0.9" />
<circle cx="368.60" cy="386.70" r="2.60" fill="#1f8ca6" stroke="none" stroke-width="0.8"/>
<circle cx="383.62" cy="352.48" r="2.60" fill="#1f8ca6" stroke="none" stroke-width="0.8"/>
<circle cx="413.67" cy="336.77" r="2.60" fill="#1f8ca6" stroke="none" stroke-width="0.8"/>
<circle cx="428.69" cy="321.06" r="2.60" fill="#1f8ca6" stroke="none" stroke-width="0.8"/>
<circle cx="458.73" cy="313.21" r="2.60" fill="#1f8ca6" stroke="none" stroke-width="0.8"/>
<circle cx="473.75" cy="310.40" r="2.60" fill="#1f8ca6" stroke="none" stroke-width="0.8"/>
<circle cx="503.80" cy="308.72" r="2.60" fill="#1f8ca6" stroke="none" stroke-width="0.8"/>
<line x1="368.60" y1="386.70" x2="503.80" y2="386.70" stroke="#000" stroke-width="1.1" />
<line x1="368.60" y1="386.70" x2="368.60" y2="296.70" stroke="#000" stroke-width="1.1" />
<line x1="366.00" y1="386.70" x2="368.60" y2="386.70" stroke="#000" stroke-width="1.05" />
<text x="365.00" y="389.75" font-size="7.2" text-anchor="end" fill="#000" font-weight="bold" >0</text>
<line x1="366.00" y1="364.26" x2="368.60" y2="364.26" stroke="#000" stroke-width="1.05" />
<text x="365.00" y="367.31" font-size="7.2" text-anchor="end" fill="#000" font-weight="bold" >20</text>
<line x1="366.00" y1="341.82" x2="368.60" y2="341.82" stroke="#000" stroke-width="1.05" />
<text x="365.00" y="344.87" font-size="7.2" text-anchor="end" fill="#000" font-weight="bold" >40</text>
<line x1="366.00" y1="319.38" x2="368.60" y2="319.38" stroke="#000" stroke-width="1.05" />
<text x="365.00" y="322.43" font-size="7.2" text-anchor="end" fill="#000" font-weight="bold" >60</text>
<line x1="366.00" y1="296.94" x2="368.60" y2="296.94" stroke="#000" stroke-width="1.05" />
<text x="365.00" y="299.99" font-size="7.2" text-anchor="end" fill="#000" font-weight="bold" >80</text>
<line x1="368.60" y1="386.70" x2="368.60" y2="389.10" stroke="#000" stroke-width="1.05" />
<text x="368.60" y="397.80" font-size="7.2" text-anchor="middle" fill="#000" font-weight="bold" >0</text>
<line x1="391.13" y1="386.70" x2="391.13" y2="389.10" stroke="#000" stroke-width="1.05" />
<text x="391.13" y="397.80" font-size="7.2" text-anchor="middle" fill="#000" font-weight="bold" >15</text>
<line x1="413.67" y1="386.70" x2="413.67" y2="389.10" stroke="#000" stroke-width="1.05" />
<text x="413.67" y="397.80" font-size="7.2" text-anchor="middle" fill="#000" font-weight="bold" >30</text>
<line x1="436.20" y1="386.70" x2="436.20" y2="389.10" stroke="#000" stroke-width="1.05" />
<text x="436.20" y="397.80" font-size="7.2" text-anchor="middle" fill="#000" font-weight="bold" >45</text>
<line x1="458.73" y1="386.70" x2="458.73" y2="389.10" stroke="#000" stroke-width="1.05" />
<text x="458.73" y="397.80" font-size="7.2" text-anchor="middle" fill="#000" font-weight="bold" >60</text>
<line x1="481.26" y1="386.70" x2="481.26" y2="389.10" stroke="#000" stroke-width="1.05" />
<text x="481.26" y="397.80" font-size="7.2" text-anchor="middle" fill="#000" font-weight="bold" >75</text>
<line x1="503.80" y1="386.70" x2="503.80" y2="389.10" stroke="#000" stroke-width="1.05" />
<text x="503.80" y="397.80" font-size="7.2" text-anchor="middle" fill="#000" font-weight="bold" >90</text>
<rect x="480.00" y="313.50" width="26.50" height="12.00" fill="#fff" stroke="none" stroke-width="0.8" />
<text x="481.60" y="323.50" font-size="7.6" text-anchor="start" fill="#1f8ca6" font-weight="bold" >pH 6.8</text>
<text x="481.60" y="358.60" font-size="7.6" text-anchor="start" fill="#333" font-weight="bold" >pH 7.4</text>
<text x="443.90" y="411.50" font-size="10.3" text-anchor="middle" fill="#000" font-weight="bold" >Time(min)</text>
<text x="353.50" y="341.00" font-size="7.4" text-anchor="middle" fill="#000" font-weight="bold" transform="rotate(-90 353.50 341.00)" >Cumulative CS-1 Release(%)</text>
<line x1="547.80" y1="313.50" x2="547.80" y2="314.23" stroke="#111" stroke-width="0.7" />
<line x1="546.20" y1="313.50" x2="549.40" y2="313.50" stroke="#111" stroke-width="0.7" />
<line x1="546.20" y1="314.23" x2="549.40" y2="314.23" stroke="#111" stroke-width="0.7" />
<line x1="556.20" y1="313.64" x2="556.20" y2="314.23" stroke="#111" stroke-width="0.7" />
<line x1="554.60" y1="313.64" x2="557.80" y2="313.64" stroke="#111" stroke-width="0.7" />
<line x1="554.60" y1="314.23" x2="557.80" y2="314.23" stroke="#111" stroke-width="0.7" />
<rect x="543.70" y="314.23" width="8.30" height="73.17" fill="#333333" stroke="#111" stroke-width="0.7" />
<rect x="552.00" y="314.23" width="8.30" height="73.17" fill="#0a7e9a" stroke="#111" stroke-width="0.7" />
<line x1="574.30" y1="345.55" x2="574.30" y2="346.42" stroke="#111" stroke-width="0.7" />
<line x1="572.70" y1="345.55" x2="575.90" y2="345.55" stroke="#111" stroke-width="0.7" />
<line x1="572.70" y1="346.42" x2="575.90" y2="346.42" stroke="#111" stroke-width="0.7" />
<line x1="582.70" y1="347.30" x2="582.70" y2="347.89" stroke="#111" stroke-width="0.7" />
<line x1="581.10" y1="347.30" x2="584.30" y2="347.30" stroke="#111" stroke-width="0.7" />
<line x1="581.10" y1="347.89" x2="584.30" y2="347.89" stroke="#111" stroke-width="0.7" />
<rect x="570.20" y="346.42" width="8.30" height="40.98" fill="#333333" stroke="#111" stroke-width="0.7" />
<rect x="578.50" y="347.89" width="8.30" height="39.51" fill="#0a7e9a" stroke="#111" stroke-width="0.7" />
<line x1="600.80" y1="335.60" x2="600.80" y2="336.18" stroke="#111" stroke-width="0.7" />
<line x1="599.20" y1="335.60" x2="602.40" y2="335.60" stroke="#111" stroke-width="0.7" />
<line x1="599.20" y1="336.18" x2="602.40" y2="336.18" stroke="#111" stroke-width="0.7" />
<line x1="609.20" y1="351.40" x2="609.20" y2="352.28" stroke="#111" stroke-width="0.7" />
<line x1="607.60" y1="351.40" x2="610.80" y2="351.40" stroke="#111" stroke-width="0.7" />
<line x1="607.60" y1="352.28" x2="610.80" y2="352.28" stroke="#111" stroke-width="0.7" />
<rect x="596.70" y="336.18" width="8.30" height="51.22" fill="#333333" stroke="#111" stroke-width="0.7" />
<rect x="605.00" y="352.28" width="8.30" height="35.12" fill="#0a7e9a" stroke="#111" stroke-width="0.7" />
<line x1="627.50" y1="356.45" x2="627.50" y2="357.40" stroke="#111" stroke-width="0.7" />
<line x1="625.90" y1="356.45" x2="629.10" y2="356.45" stroke="#111" stroke-width="0.7" />
<line x1="625.90" y1="357.40" x2="629.10" y2="357.40" stroke="#111" stroke-width="0.7" />
<line x1="635.90" y1="358.50" x2="635.90" y2="359.60" stroke="#111" stroke-width="0.7" />
<line x1="634.30" y1="358.50" x2="637.50" y2="358.50" stroke="#111" stroke-width="0.7" />
<line x1="634.30" y1="359.60" x2="637.50" y2="359.60" stroke="#111" stroke-width="0.7" />
<rect x="623.40" y="357.40" width="8.30" height="30.00" fill="#333333" stroke="#111" stroke-width="0.7" />
<rect x="631.70" y="359.60" width="8.30" height="27.80" fill="#0a7e9a" stroke="#111" stroke-width="0.7" />
<line x1="653.80" y1="375.11" x2="653.80" y2="375.69" stroke="#111" stroke-width="0.7" />
<line x1="652.20" y1="375.11" x2="655.40" y2="375.11" stroke="#111" stroke-width="0.7" />
<line x1="652.20" y1="375.69" x2="655.40" y2="375.69" stroke="#111" stroke-width="0.7" />
<line x1="662.20" y1="376.28" x2="662.20" y2="377.16" stroke="#111" stroke-width="0.7" />
<line x1="660.60" y1="376.28" x2="663.80" y2="376.28" stroke="#111" stroke-width="0.7" />
<line x1="660.60" y1="377.16" x2="663.80" y2="377.16" stroke="#111" stroke-width="0.7" />
<rect x="649.70" y="375.69" width="8.30" height="11.71" fill="#333333" stroke="#111" stroke-width="0.7" />
<rect x="658.00" y="377.16" width="8.30" height="10.24" fill="#0a7e9a" stroke="#111" stroke-width="0.7" />
<line x1="538.20" y1="387.40" x2="672.00" y2="387.40" stroke="#000" stroke-width="1.1" />
<line x1="538.20" y1="387.40" x2="538.20" y2="299.20" stroke="#000" stroke-width="1.1" />
<line x1="535.20" y1="387.40" x2="538.20" y2="387.40" stroke="#000" stroke-width="1.05" />
<text x="534.00" y="390.45" font-size="7.2" text-anchor="end" fill="#000" font-weight="bold" >0</text>
<line x1="535.20" y1="372.77" x2="538.20" y2="372.77" stroke="#000" stroke-width="1.05" />
<text x="534.00" y="375.81" font-size="7.2" text-anchor="end" fill="#000" font-weight="bold" >20</text>
<line x1="535.20" y1="358.13" x2="538.20" y2="358.13" stroke="#000" stroke-width="1.05" />
<text x="534.00" y="361.18" font-size="7.2" text-anchor="end" fill="#000" font-weight="bold" >40</text>
<line x1="535.20" y1="343.50" x2="538.20" y2="343.50" stroke="#000" stroke-width="1.05" />
<text x="534.00" y="346.55" font-size="7.2" text-anchor="end" fill="#000" font-weight="bold" >60</text>
<line x1="535.20" y1="328.86" x2="538.20" y2="328.86" stroke="#000" stroke-width="1.05" />
<text x="534.00" y="331.91" font-size="7.2" text-anchor="end" fill="#000" font-weight="bold" >80</text>
<line x1="535.20" y1="314.23" x2="538.20" y2="314.23" stroke="#000" stroke-width="1.05" />
<text x="534.00" y="317.28" font-size="7.2" text-anchor="end" fill="#000" font-weight="bold" >100</text>
<line x1="535.20" y1="299.60" x2="538.20" y2="299.60" stroke="#000" stroke-width="1.05" />
<text x="534.00" y="302.64" font-size="7.2" text-anchor="end" fill="#000" font-weight="bold" >120</text>
<line x1="552.00" y1="387.40" x2="552.00" y2="390.00" stroke="#000" stroke-width="0.9" />
<line x1="578.50" y1="387.40" x2="578.50" y2="390.00" stroke="#000" stroke-width="0.9" />
<line x1="605.00" y1="387.40" x2="605.00" y2="390.00" stroke="#000" stroke-width="0.9" />
<line x1="631.70" y1="387.40" x2="631.70" y2="390.00" stroke="#000" stroke-width="0.9" />
<line x1="658.00" y1="387.40" x2="658.00" y2="390.00" stroke="#000" stroke-width="0.9" />
<text x="552.00" y="398.50" font-size="6.8" text-anchor="middle" fill="#000" font-weight="bold" >Control</text>
<text x="578.50" y="398.50" font-size="6.8" text-anchor="middle" fill="#000" font-weight="bold" >Cs-1</text>
<text x="605.00" y="398.50" font-size="6.8" text-anchor="middle" fill="#000" font-weight="bold" >CPCCM</text>
<text x="631.70" y="398.50" font-size="6.8" text-anchor="middle" fill="#000" font-weight="bold" >Ce6+L</text>
<text x="658.00" y="398.50" font-size="6.8" text-anchor="middle" fill="#000" font-weight="bold" >CPCCM+L</text>
<rect x="542.30" y="299.50" width="9.10" height="4.60" fill="#333333" stroke="#111" stroke-width="0.6" />
<text x="556.10" y="304.40" font-size="7.1" text-anchor="start" fill="#000" font-weight="bold" >pH7.4</text>
<rect x="580.00" y="299.50" width="9.10" height="4.60" fill="#0a7e9a" stroke="#111" stroke-width="0.6" />
<text x="592.90" y="304.40" font-size="7.1" text-anchor="start" fill="#000" font-weight="bold" >pH6.8</text>
<polyline points="552.30,313.13 552.30,308.60 660.30,308.60 660.30,373.70" fill="none" stroke="#444" stroke-width="0.9" stroke-linejoin="round" />
<polyline points="605.30,332.00 605.30,320.70 660.30,320.70" fill="none" stroke="#444" stroke-width="0.9" stroke-linejoin="round" />
<polygon points="627.00,301.90 627.74,303.68 629.66,303.83 628.20,305.09 628.65,306.97 627.00,305.96 625.35,306.97 625.80,305.09 624.34,303.83 626.26,303.68" fill="#3a3a3a" />
<polygon points="632.30,301.90 633.04,303.68 634.96,303.83 633.50,305.09 633.95,306.97 632.30,305.96 630.65,306.97 631.10,305.09 629.64,303.83 631.56,303.68" fill="#3a3a3a" />
<polygon points="637.60,301.90 638.34,303.68 640.26,303.83 638.80,305.09 639.25,306.97 637.60,305.96 635.95,306.97 636.40,305.09 634.94,303.83 636.86,303.68" fill="#3a3a3a" />
<polygon points="622.70,315.30 623.44,317.08 625.36,317.23 623.90,318.49 624.35,320.37 622.70,319.36 621.05,320.37 621.50,318.49 620.04,317.23 621.96,317.08" fill="#3a3a3a" />
<polygon points="628.00,315.30 628.74,317.08 630.66,317.23 629.20,318.49 629.65,320.37 628.00,319.36 626.35,320.37 626.80,318.49 625.34,317.23 627.26,317.08" fill="#3a3a3a" />
<polygon points="633.30,315.30 634.04,317.08 635.96,317.23 634.50,318.49 634.95,320.37 633.30,319.36 631.65,320.37 632.10,318.49 630.64,317.23 632.56,317.08" fill="#3a3a3a" />
<text x="519.60" y="343.00" font-size="10" text-anchor="middle" fill="#000" font-weight="bold" transform="rotate(-90 519.60 343.00)" >Viability(%)</text>
</svg>
</body></html>
